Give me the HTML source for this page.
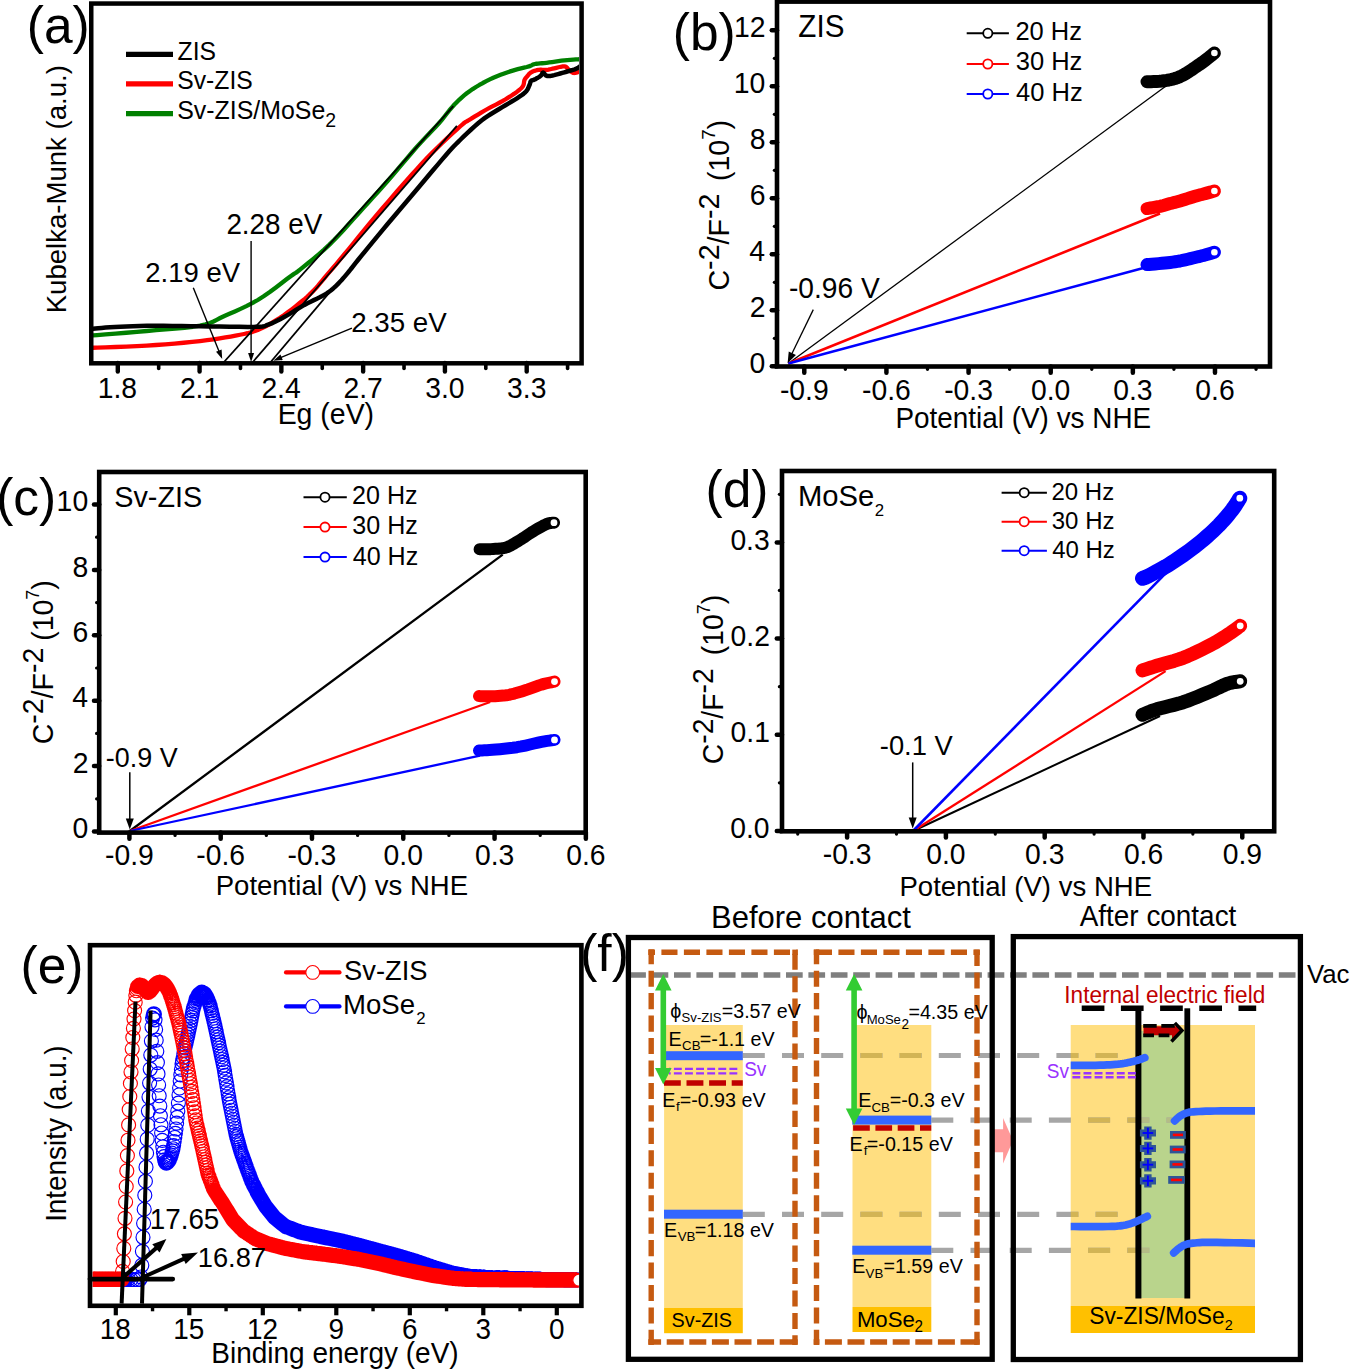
<!DOCTYPE html>
<html><head><meta charset="utf-8"><style>
html,body{margin:0;padding:0;background:#fff;}
svg{display:block;font-family:"Liberation Sans", sans-serif;}
</style></head><body>
<svg width="1350" height="1370" viewBox="0 0 1350 1370">
<rect width="1350" height="1370" fill="#fff"/>
<defs><clipPath id="clipa"><rect x="93" y="5" width="486" height="356"/></clipPath></defs>
<g clip-path="url(#clipa)">
<path d="M91 335.6 L97.09 335.11 L105.53 334.44 L115.52 333.64 L126.25 332.76 L136.91 331.87 L146.7 331 L156.06 330.19 L165.71 329.41 L175.31 328.61 L184.46 327.74 L192.82 326.75 L200 325.6 L205.63 324.32 L209.94 322.95 L213.44 321.46 L216.67 319.83 L220.15 318.02 L224.4 316 L229.45 313.8 L234.87 311.44 L240.55 308.9 L246.35 306.16 L252.14 303.2 L257.8 300 L263.63 296.26 L269.78 291.94 L275.92 287.4 L281.73 282.99 L286.87 279.07 L291 276 L293.67 274.13 L295.04 273.24 L295.75 272.84 L296.4 272.44 L297.61 271.52 L300 269.6 L303.7 266.62 L308.24 262.97 L313.34 258.81 L318.72 254.31 L324.1 249.62 L329.2 244.9 L334.07 240.07 L338.93 234.97 L343.8 229.69 L348.67 224.3 L353.53 218.87 L358.4 213.5 L363.27 208.17 L368.13 202.81 L373 197.42 L377.87 191.99 L382.73 186.52 L387.6 181 L392.55 175.29 L397.6 169.36 L402.66 163.38 L407.61 157.53 L412.36 151.98 L416.8 146.9 L420.95 142.33 L424.88 138.13 L428.61 134.24 L432.14 130.56 L435.5 127 L438.7 123.5 L441.65 120.05 L444.34 116.73 L446.86 113.54 L449.28 110.48 L451.7 107.57 L454.2 104.8 L456.72 102.22 L459.16 99.82 L461.61 97.57 L464.11 95.41 L466.76 93.3 L469.6 91.2 L472.68 89.09 L475.94 87 L479.33 84.97 L482.81 83.01 L486.31 81.14 L489.8 79.4 L493.33 77.77 L496.95 76.24 L500.6 74.81 L504.22 73.47 L507.74 72.23 L511.1 71.1 L514.41 70.08 L517.73 69.18 L520.96 68.38 L523.98 67.66 L526.66 67.01 L528.9 66.4 L530.5 65.85 L531.53 65.39 L532.22 64.98 L532.84 64.63 L533.61 64.3 L534.8 64 L536.36 63.74 L538.07 63.56 L539.96 63.4 L542 63.24 L544.22 63.06 L546.6 62.8 L549.25 62.46 L552.18 62.04 L555.27 61.6 L558.42 61.16 L561.5 60.74 L564.4 60.4 L567.28 60.12 L570.28 59.87 L573.21 59.65 L575.9 59.47 L578.15 59.32 L579.8 59.2" fill="none" stroke="#008000" stroke-width="4.3" stroke-linejoin="round" stroke-linecap="round" />
<path d="M91 347.8 L97.09 347.59 L105.53 347.31 L115.52 346.98 L126.25 346.59 L136.91 346.13 L146.7 345.6 L155.93 344.99 L165.3 344.31 L174.61 343.56 L183.63 342.76 L192.17 341.93 L200 341.1 L207.11 340.24 L213.67 339.34 L219.74 338.42 L225.38 337.48 L230.65 336.53 L235.6 335.6 L240.08 334.75 L243.99 333.99 L247.54 333.22 L250.9 332.36 L254.26 331.32 L257.8 330 L261.5 328.4 L265.2 326.59 L268.9 324.6 L272.6 322.45 L276.3 320.18 L280 317.8 L283.81 315.2 L287.76 312.34 L291.71 309.36 L295.53 306.38 L299.07 303.55 L302.2 301 L304.86 298.78 L307.16 296.77 L309.18 294.92 L311.02 293.14 L312.8 291.36 L314.6 289.5 L316.27 287.72 L317.7 286.09 L319.06 284.47 L320.52 282.69 L322.24 280.58 L324.4 278 L326.96 274.98 L329.79 271.65 L332.89 268 L336.25 264.02 L339.89 259.69 L343.8 255 L348.1 249.79 L352.81 244.04 L357.79 237.94 L362.9 231.69 L368.02 225.47 L373 219.5 L377.87 213.72 L382.73 207.98 L387.6 202.28 L392.47 196.63 L397.33 191.03 L402.2 185.5 L407.07 180 L411.93 174.52 L416.8 169.09 L421.67 163.76 L426.53 158.55 L431.4 153.5 L436.5 148.41 L441.88 143.21 L447.26 138.14 L452.36 133.43 L456.9 129.3 L460.6 126 L463.17 123.77 L464.77 122.49 L465.81 121.8 L466.7 121.34 L467.82 120.76 L469.6 119.7 L472.06 118.16 L474.88 116.41 L477.95 114.55 L481.14 112.64 L484.33 110.76 L487.4 109 L490.38 107.37 L493.39 105.82 L496.39 104.3 L499.38 102.77 L502.32 101.19 L505.2 99.5 L508.16 97.66 L511.24 95.69 L514.28 93.66 L517.11 91.65 L519.57 89.74 L521.5 88 L522.78 86.41 L523.5 84.91 L523.86 83.5 L524.03 82.2 L524.18 81.03 L524.5 80 L524.93 79.16 L525.31 78.53 L525.68 78.01 L526.06 77.55 L526.49 77.07 L527 76.5 L527.57 75.82 L528.17 75.09 L528.81 74.33 L529.52 73.59 L530.31 72.9 L531.2 72.3 L532.2 71.77 L533.31 71.28 L534.49 70.84 L535.74 70.46 L537.01 70.14 L538.3 69.9 L539.64 69.77 L541.06 69.77 L542.52 69.83 L543.96 69.9 L545.34 69.94 L546.6 69.9 L547.67 69.78 L548.56 69.63 L549.38 69.44 L550.26 69.23 L551.29 68.98 L552.6 68.7 L554.31 68.31 L556.37 67.8 L558.59 67.25 L560.79 66.77 L562.78 66.45 L564.4 66.4 L565.58 66.67 L566.46 67.19 L567.13 67.87 L567.71 68.63 L568.3 69.37 L569 70 L569.77 70.59 L570.53 71.23 L571.29 71.84 L572.09 72.39 L572.95 72.79 L573.9 73 L575.04 72.94 L576.37 72.66 L577.76 72.24 L579.08 71.77 L580.2 71.36 L581 71.1" fill="none" stroke="#FF0000" stroke-width="4.3" stroke-linejoin="round" stroke-linecap="round" />
<path d="M91 329 L92.86 328.81 L95.26 328.55 L98.19 328.24 L101.63 327.91 L105.57 327.59 L110 327.3 L114.94 327.02 L120.41 326.71 L126.38 326.41 L132.81 326.14 L139.7 325.93 L147 325.8 L154.89 325.77 L163.42 325.82 L172.39 325.93 L181.61 326.06 L190.88 326.19 L200 326.3 L209.49 326.42 L219.61 326.57 L229.78 326.73 L239.4 326.85 L247.91 326.88 L254.7 326.8 L259.37 326.64 L262.3 326.45 L264.11 326.18 L265.4 325.78 L266.79 325.2 L268.9 324.4 L271.66 323.33 L274.57 322.01 L277.58 320.52 L280.64 318.91 L283.7 317.25 L286.7 315.6 L289.65 313.91 L292.6 312.11 L295.55 310.26 L298.5 308.4 L301.45 306.6 L304.4 304.9 L307.46 303.28 L310.66 301.69 L313.85 300.14 L316.92 298.67 L319.75 297.28 L322.2 296 L324.2 294.88 L325.83 293.93 L327.21 293.07 L328.46 292.21 L329.72 291.28 L331.1 290.2 L332.58 288.97 L334.07 287.66 L335.55 286.28 L337.03 284.84 L338.52 283.34 L340 281.8 L341.48 280.21 L342.94 278.57 L344.41 276.88 L345.89 275.13 L347.38 273.34 L348.9 271.5 L350.22 269.87 L351.29 268.5 L352.38 267.07 L353.75 265.3 L355.67 262.88 L358.4 259.5 L362.13 254.93 L366.67 249.37 L371.77 243.16 L377.14 236.63 L382.51 230.13 L387.6 224 L392.47 218.19 L397.33 212.43 L402.2 206.69 L407.07 200.96 L411.93 195.24 L416.8 189.5 L421.84 183.53 L427.07 177.3 L432.31 171.06 L437.35 165.09 L441.98 159.65 L446 155 L449.21 151.36 L451.71 148.56 L453.82 146.28 L455.81 144.22 L457.97 142.07 L460.6 139.5 L463.76 136.45 L467.22 133.15 L470.86 129.75 L474.54 126.41 L478.13 123.27 L481.5 120.5 L484.63 118.14 L487.63 116.08 L490.54 114.23 L493.41 112.5 L496.28 110.78 L499.2 109 L502.26 107.13 L505.45 105.23 L508.64 103.36 L511.71 101.55 L514.54 99.85 L517 98.3 L519.07 96.94 L520.86 95.73 L522.39 94.64 L523.73 93.6 L524.92 92.57 L526 91.5 L526.92 90.37 L527.65 89.22 L528.22 88.08 L528.69 86.97 L529.1 85.94 L529.5 85 L529.84 84.16 L530.06 83.39 L530.23 82.69 L530.4 82.06 L530.64 81.5 L531 81 L531.48 80.62 L532.02 80.36 L532.62 80.17 L533.29 79.99 L534.02 79.75 L534.8 79.4 L535.7 78.91 L536.74 78.33 L537.84 77.7 L538.91 77.04 L539.89 76.4 L540.7 75.8 L541.29 75.17 L541.72 74.47 L542.05 73.77 L542.35 73.18 L542.68 72.76 L543.1 72.6 L543.59 72.8 L544.09 73.32 L544.62 74.02 L545.21 74.76 L545.86 75.4 L546.6 75.8 L547.39 75.99 L548.2 76.07 L549.08 76.05 L550.08 75.94 L551.24 75.76 L552.6 75.5 L554.23 75.14 L556.1 74.66 L558.13 74.11 L560.24 73.5 L562.36 72.89 L564.4 72.3 L566.46 71.72 L568.63 71.11 L570.79 70.5 L572.86 69.89 L574.73 69.28 L576.3 68.7 L577.55 68.11 L578.57 67.49 L579.39 66.88 L580.05 66.31 L580.57 65.84 L581 65.5" fill="none" stroke="#000" stroke-width="4.5" stroke-linejoin="round" stroke-linecap="round" />
</g>
<line x1="224" y1="362" x2="453.3" y2="106.1" stroke="#000" stroke-width="1.8" />
<line x1="252.9" y1="362" x2="456.9" y2="125.8" stroke="#000" stroke-width="1.8" />
<line x1="270.7" y1="362" x2="331" y2="290.7" stroke="#000" stroke-width="1.8" />
<rect x="91.25" y="3.55" width="490.35" height="359.75" fill="none" stroke="#000" stroke-width="4.5" stroke-linejoin="miter"/>
<line x1="117.8" y1="363" x2="117.8" y2="371.5" stroke="#000" stroke-width="4.4" stroke-linecap="round"/>
<line x1="158.69" y1="363" x2="158.69" y2="368.5" stroke="#000" stroke-width="3.6" stroke-linecap="round"/>
<line x1="199.58" y1="363" x2="199.58" y2="371.5" stroke="#000" stroke-width="4.4" stroke-linecap="round"/>
<line x1="240.47" y1="363" x2="240.47" y2="368.5" stroke="#000" stroke-width="3.6" stroke-linecap="round"/>
<line x1="281.36" y1="363" x2="281.36" y2="371.5" stroke="#000" stroke-width="4.4" stroke-linecap="round"/>
<line x1="322.25" y1="363" x2="322.25" y2="368.5" stroke="#000" stroke-width="3.6" stroke-linecap="round"/>
<line x1="363.14" y1="363" x2="363.14" y2="371.5" stroke="#000" stroke-width="4.4" stroke-linecap="round"/>
<line x1="404.03" y1="363" x2="404.03" y2="368.5" stroke="#000" stroke-width="3.6" stroke-linecap="round"/>
<line x1="444.92" y1="363" x2="444.92" y2="371.5" stroke="#000" stroke-width="4.4" stroke-linecap="round"/>
<line x1="485.81" y1="363" x2="485.81" y2="368.5" stroke="#000" stroke-width="3.6" stroke-linecap="round"/>
<line x1="526.7" y1="363" x2="526.7" y2="371.5" stroke="#000" stroke-width="4.4" stroke-linecap="round"/>
<line x1="567.59" y1="363" x2="567.59" y2="368.5" stroke="#000" stroke-width="3.6" stroke-linecap="round"/>
<text transform="matrix(1 0 0 1.03 0 -11.93)" x="97.67" y="397.6" font-size="28.3" text-anchor="start" fill="#000" >1.8</text>
<text transform="matrix(1 0 0 1.03 0 -11.93)" x="179.89" y="397.6" font-size="28.3" text-anchor="start" fill="#000" >2.1</text>
<text transform="matrix(1 0 0 1.03 0 -11.93)" x="261.39" y="397.6" font-size="28.3" text-anchor="start" fill="#000" >2.4</text>
<text transform="matrix(1 0 0 1.03 0 -11.93)" x="343.47" y="397.6" font-size="28.3" text-anchor="start" fill="#000" >2.7</text>
<text transform="matrix(1 0 0 1.03 0 -11.93)" x="425.26" y="397.6" font-size="28.3" text-anchor="start" fill="#000" >3.0</text>
<text transform="matrix(1 0 0 1.03 0 -11.93)" x="507.11" y="397.6" font-size="28.3" text-anchor="start" fill="#000" >3.3</text>
<text transform="matrix(1 0 0 1.03 0 -12.73)" x="277.66" y="424.4" font-size="28.46" text-anchor="start" fill="#000" >Eg (eV)</text>
<text transform="translate(66.2,313.26) rotate(-90) scale(1 1.03)" x="0" y="0" font-size="27.57" fill="#000" >Kubelka-Munk (a.u.)</text>
<text x="26.81" y="43.3" font-size="51.5" text-anchor="start" fill="#000" >(a)</text>
<line x1="126" y1="54.4" x2="173" y2="54.4" stroke="#000" stroke-width="5.2" />
<line x1="126" y1="83.9" x2="173" y2="83.9" stroke="#FF0000" stroke-width="5.2" />
<line x1="126" y1="113.6" x2="173" y2="113.6" stroke="#008000" stroke-width="5.2" />
<text transform="matrix(1 0 0 1.03 0 -1.8)" x="177.62" y="59.9" font-size="24.7" text-anchor="start" fill="#000" >ZIS</text>
<text transform="matrix(1 0 0 1.03 0 -2.68)" x="177.28" y="89.2" font-size="24.7" text-anchor="start" fill="#000" >Sv-ZIS</text>
<text transform="matrix(1 0 0 1.03 0 -3.57)" x="177.27" y="118.9" font-size="24.9" text-anchor="start" fill="#000" >Sv-ZIS/MoSe</text>
<text transform="matrix(1 0 0 1.03 0 -3.8)" x="325.32" y="126.8" font-size="19.5" text-anchor="start" fill="#000" >2</text>
<text transform="matrix(1 0 0 1.03 0 -8.46)" x="145.32" y="282" font-size="27.5" text-anchor="start" fill="#000" >2.19 eV</text>
<line x1="193.3" y1="287.8" x2="219.5" y2="352.5" stroke="#000" stroke-width="1.4" />
<path d="M222.2 359 L216.04 351.79 L221.59 349.53 Z" fill="#000"/>
<text transform="matrix(1 0 0 1.03 0 -7.03)" x="226.4" y="234.4" font-size="27.83" text-anchor="start" fill="#000" >2.28 eV</text>
<line x1="251.1" y1="241" x2="251.1" y2="354" stroke="#000" stroke-width="1.4" />
<path d="M251.1 362 L248.1 353 L254.1 353 Z" fill="#000"/>
<text transform="matrix(1 0 0 1.03 0 -9.97)" x="351.21" y="332.3" font-size="27.74" text-anchor="start" fill="#000" >2.35 eV</text>
<line x1="351.9" y1="328.1" x2="280" y2="357.8" stroke="#000" stroke-width="1.4" />
<path d="M273.3 360.7 L280.46 354.48 L282.76 360.02 Z" fill="#000"/>
<line x1="788.3" y1="363.5" x2="1166.7" y2="85.6" stroke="#000" stroke-width="1.3" />
<line x1="788.3" y1="363.5" x2="1160" y2="213.5" stroke="#FF0000" stroke-width="2.6" />
<line x1="788.3" y1="363.5" x2="1149" y2="266.5" stroke="#0000FF" stroke-width="2.6" />
<path d="M1147 81.8 L1148.66 81.73 L1150.96 81.66 L1153.69 81.56 L1156.59 81.42 L1159.44 81.24 L1162 81 L1164.32 80.7 L1166.59 80.37 L1168.81 79.98 L1170.96 79.54 L1173.03 79.05 L1175 78.5 L1176.84 77.89 L1178.56 77.22 L1180.19 76.5 L1181.78 75.72 L1183.37 74.89 L1185 74 L1186.67 73.04 L1188.33 72 L1190 70.91 L1191.67 69.78 L1193.33 68.64 L1195 67.5 L1196.67 66.37 L1198.36 65.22 L1200.04 64.06 L1201.71 62.89 L1203.37 61.7 L1205 60.5 L1206.71 59.19 L1208.53 57.76 L1210.33 56.31 L1211.99 54.96 L1213.38 53.82 L1214.4 53" fill="none" stroke="#000" stroke-width="13" stroke-linejoin="round" stroke-linecap="round" />
<circle cx="1214.4" cy="53" r="4.3" fill="#fff" stroke="#000" stroke-width="2"/>
<path d="M1147 208.6 L1148.45 208.35 L1150.48 208.02 L1152.88 207.62 L1155.41 207.18 L1157.86 206.73 L1160 206.3 L1161.84 205.87 L1163.56 205.43 L1165.19 204.97 L1166.78 204.51 L1168.37 204.05 L1170 203.6 L1171.61 203.19 L1173.15 202.8 L1174.69 202.42 L1176.3 202.02 L1178.04 201.55 L1180 201 L1182.27 200.32 L1184.81 199.51 L1187.5 198.66 L1190.19 197.8 L1192.73 196.99 L1195 196.3 L1196.96 195.73 L1198.73 195.25 L1200.35 194.82 L1201.9 194.42 L1203.43 194.02 L1205 193.6 L1206.71 193.13 L1208.53 192.63 L1210.33 192.13 L1211.99 191.67 L1213.38 191.28 L1214.4 191" fill="none" stroke="#FF0000" stroke-width="13" stroke-linejoin="round" stroke-linecap="round" />
<circle cx="1214.4" cy="191" r="4.3" fill="#fff" stroke="#FF0000" stroke-width="2"/>
<path d="M1147 264.6 L1148.99 264.43 L1151.78 264.2 L1155.06 263.93 L1158.56 263.62 L1161.97 263.31 L1165 263 L1167.67 262.71 L1170.22 262.42 L1172.69 262.12 L1175.11 261.79 L1177.53 261.42 L1180 261 L1182.56 260.49 L1185.19 259.91 L1187.81 259.28 L1190.37 258.65 L1192.79 258.04 L1195 257.5 L1196.96 257.03 L1198.73 256.6 L1200.35 256.21 L1201.9 255.82 L1203.43 255.42 L1205 255 L1206.71 254.52 L1208.53 253.99 L1210.33 253.44 L1211.99 252.94 L1213.38 252.51 L1214.4 252.2" fill="none" stroke="#0000FF" stroke-width="13" stroke-linejoin="round" stroke-linecap="round" />
<circle cx="1214.4" cy="252.2" r="4.3" fill="#fff" stroke="#0000FF" stroke-width="2"/>
<rect x="777" y="1.6" width="493" height="364.9" fill="none" stroke="#000" stroke-width="4.6" stroke-linejoin="miter"/>
<line x1="777" y1="366.3" x2="771.8" y2="366.3" stroke="#000" stroke-width="4.5" stroke-linecap="round"/>
<line x1="777" y1="338.3" x2="774.4" y2="338.3" stroke="#000" stroke-width="3.2" stroke-linecap="round"/>
<line x1="777" y1="310.3" x2="771.8" y2="310.3" stroke="#000" stroke-width="4.5" stroke-linecap="round"/>
<line x1="777" y1="282.3" x2="774.4" y2="282.3" stroke="#000" stroke-width="3.2" stroke-linecap="round"/>
<line x1="777" y1="254.3" x2="771.8" y2="254.3" stroke="#000" stroke-width="4.5" stroke-linecap="round"/>
<line x1="777" y1="226.3" x2="774.4" y2="226.3" stroke="#000" stroke-width="3.2" stroke-linecap="round"/>
<line x1="777" y1="198.3" x2="771.8" y2="198.3" stroke="#000" stroke-width="4.5" stroke-linecap="round"/>
<line x1="777" y1="170.3" x2="774.4" y2="170.3" stroke="#000" stroke-width="3.2" stroke-linecap="round"/>
<line x1="777" y1="142.3" x2="771.8" y2="142.3" stroke="#000" stroke-width="4.5" stroke-linecap="round"/>
<line x1="777" y1="114.3" x2="774.4" y2="114.3" stroke="#000" stroke-width="3.2" stroke-linecap="round"/>
<line x1="777" y1="86.3" x2="771.8" y2="86.3" stroke="#000" stroke-width="4.5" stroke-linecap="round"/>
<line x1="777" y1="58.3" x2="774.4" y2="58.3" stroke="#000" stroke-width="3.2" stroke-linecap="round"/>
<line x1="777" y1="30.3" x2="771.8" y2="30.3" stroke="#000" stroke-width="4.5" stroke-linecap="round"/>
<line x1="804.28" y1="366.5" x2="804.28" y2="372.7" stroke="#000" stroke-width="4.5" stroke-linecap="round"/>
<line x1="845.35" y1="366.5" x2="845.35" y2="369.3" stroke="#000" stroke-width="3.2" stroke-linecap="round"/>
<line x1="886.42" y1="366.5" x2="886.42" y2="372.7" stroke="#000" stroke-width="4.5" stroke-linecap="round"/>
<line x1="927.49" y1="366.5" x2="927.49" y2="369.3" stroke="#000" stroke-width="3.2" stroke-linecap="round"/>
<line x1="968.56" y1="366.5" x2="968.56" y2="372.7" stroke="#000" stroke-width="4.5" stroke-linecap="round"/>
<line x1="1009.63" y1="366.5" x2="1009.63" y2="369.3" stroke="#000" stroke-width="3.2" stroke-linecap="round"/>
<line x1="1050.7" y1="366.5" x2="1050.7" y2="372.7" stroke="#000" stroke-width="4.5" stroke-linecap="round"/>
<line x1="1091.77" y1="366.5" x2="1091.77" y2="369.3" stroke="#000" stroke-width="3.2" stroke-linecap="round"/>
<line x1="1132.84" y1="366.5" x2="1132.84" y2="372.7" stroke="#000" stroke-width="4.5" stroke-linecap="round"/>
<line x1="1173.91" y1="366.5" x2="1173.91" y2="369.3" stroke="#000" stroke-width="3.2" stroke-linecap="round"/>
<line x1="1214.98" y1="366.5" x2="1214.98" y2="372.7" stroke="#000" stroke-width="4.5" stroke-linecap="round"/>
<line x1="1256.05" y1="366.5" x2="1256.05" y2="369.3" stroke="#000" stroke-width="3.2" stroke-linecap="round"/>
<text transform="matrix(1 0 0 1.03 0 -11.18)" x="749.51" y="372.7" font-size="28.4" text-anchor="start" fill="#000" >0</text>
<text transform="matrix(1 0 0 1.03 0 -9.5)" x="749.83" y="316.7" font-size="28.4" text-anchor="start" fill="#000" >2</text>
<text transform="matrix(1 0 0 1.03 0 -7.82)" x="749.24" y="260.7" font-size="28.4" text-anchor="start" fill="#000" >4</text>
<text transform="matrix(1 0 0 1.03 0 -6.14)" x="749.65" y="204.7" font-size="28.4" text-anchor="start" fill="#000" >6</text>
<text transform="matrix(1 0 0 1.03 0 -4.46)" x="749.64" y="148.7" font-size="28.4" text-anchor="start" fill="#000" >8</text>
<text transform="matrix(1 0 0 1.03 0 -2.78)" x="733.72" y="92.7" font-size="28.4" text-anchor="start" fill="#000" >10</text>
<text transform="matrix(1 0 0 1.03 0 -1.1)" x="734.04" y="36.7" font-size="28.4" text-anchor="start" fill="#000" >12</text>
<text transform="matrix(1 0 0 1.03 0 -12.01)" x="779.94" y="400.4" font-size="28.3" text-anchor="start" fill="#000" >-0.9</text>
<text transform="matrix(1 0 0 1.03 0 -12.01)" x="862.03" y="400.4" font-size="28.3" text-anchor="start" fill="#000" >-0.6</text>
<text transform="matrix(1 0 0 1.03 0 -12.01)" x="944.17" y="400.4" font-size="28.3" text-anchor="start" fill="#000" >-0.3</text>
<text transform="matrix(1 0 0 1.03 0 -12.01)" x="1031.03" y="400.4" font-size="28.3" text-anchor="start" fill="#000" >0.0</text>
<text transform="matrix(1 0 0 1.03 0 -12.01)" x="1113.24" y="400.4" font-size="28.3" text-anchor="start" fill="#000" >0.3</text>
<text transform="matrix(1 0 0 1.03 0 -12.01)" x="1195.38" y="400.4" font-size="28.3" text-anchor="start" fill="#000" >0.6</text>
<text transform="matrix(1 0 0 1.03 0 -12.84)" x="895.51" y="428" font-size="27.88" text-anchor="start" fill="#000" >Potential (V) vs NHE</text>
<text x="672.81" y="49.7" font-size="51.5" text-anchor="start" fill="#000" >(b)</text>
<text transform="matrix(1 0 0 1.03 0 -1.11)" x="798.36" y="37.1" font-size="29.6" text-anchor="start" fill="#000" >ZIS</text>
<line x1="966.7" y1="33.3" x2="1008.9" y2="33.3" stroke="#000" stroke-width="2" />
<circle cx="987.8" cy="33.3" r="4.6" fill="#fff" stroke="#000" stroke-width="1.8"/>
<text transform="matrix(1 0 0 1.03 0 -1.2)" x="1015.42" y="40" font-size="25.5" text-anchor="start" fill="#000" >20 Hz</text>
<line x1="966.7" y1="64" x2="1008.9" y2="64" stroke="#FF0000" stroke-width="2" />
<circle cx="987.8" cy="64" r="4.6" fill="#fff" stroke="#FF0000" stroke-width="1.8"/>
<text transform="matrix(1 0 0 1.03 0 -2.11)" x="1015.73" y="70.3" font-size="25.5" text-anchor="start" fill="#000" >30 Hz</text>
<line x1="966.7" y1="94" x2="1008.9" y2="94" stroke="#0000FF" stroke-width="2" />
<circle cx="987.8" cy="94" r="4.6" fill="#fff" stroke="#0000FF" stroke-width="1.8"/>
<text transform="matrix(1 0 0 1.03 0 -3.03)" x="1016.11" y="101" font-size="25.5" text-anchor="start" fill="#000" >40 Hz</text>
<text transform="matrix(1 0 0 1.03 0 -8.96)" x="788.95" y="298.5" font-size="28.15" text-anchor="start" fill="#000" >-0.96 V</text>
<line x1="813.3" y1="309.6" x2="791.5" y2="354.5" stroke="#000" stroke-width="1.3" />
<path d="M787.6 363.2 L788.75 351.55 L795.96 355.01 Z" fill="#000"/>
<text transform="rotate(-90) matrix(1 0 0 1.03 0 -21.87)" x="-290.55" y="729" font-size="28.6" fill="#000">C</text>
<text transform="rotate(-90) matrix(1 0 0 1.03 0 -21.56)" x="-269.9" y="718.6" font-size="28.6" fill="#000">-2</text>
<text transform="rotate(-90) matrix(1 0 0 1.03 0 -21.87)" x="-244.47" y="729" font-size="28.6" fill="#000">/F</text>
<text transform="rotate(-90) matrix(1 0 0 1.03 0 -21.56)" x="-219.05" y="718.6" font-size="28.6" fill="#000">-2</text>
<text transform="rotate(-90) matrix(1 0 0 1.03 0 -21.87)" x="-181.08" y="729" font-size="28.6" fill="#000">(10</text>
<text transform="rotate(-90) matrix(1 0 0 1.03 0 -21.46)" x="-139.74" y="715.4" font-size="18.6" fill="#000">7</text>
<text transform="rotate(-90) matrix(1 0 0 1.03 0 -21.87)" x="-129.4" y="729" font-size="28.6" fill="#000">)</text>
<line x1="129.8" y1="831" x2="502.7" y2="554.7" stroke="#000" stroke-width="2.3" />
<line x1="129.8" y1="831" x2="490.2" y2="702" stroke="#FF0000" stroke-width="2.3" />
<line x1="129.8" y1="831" x2="480" y2="755.6" stroke="#0000FF" stroke-width="2.3" />
<path d="M479.6 549.3 L481.09 549.28 L483.16 549.27 L485.61 549.26 L488.25 549.21 L490.88 549.13 L493.3 549 L495.55 548.86 L497.79 548.74 L500.02 548.59 L502.25 548.33 L504.48 547.92 L506.7 547.3 L508.92 546.42 L511.14 545.33 L513.36 544.09 L515.57 542.74 L517.78 541.36 L520 540 L522.22 538.61 L524.43 537.15 L526.64 535.65 L528.86 534.15 L531.08 532.69 L533.3 531.3 L535.6 529.93 L537.99 528.54 L540.37 527.19 L542.68 525.94 L544.82 524.85 L546.7 524 L548.35 523.42 L549.86 523.07 L551.19 522.89 L552.33 522.81 L553.28 522.77 L554 522.7" fill="none" stroke="#000" stroke-width="12" stroke-linejoin="round" stroke-linecap="round" />
<circle cx="554" cy="522.7" r="4.4" fill="#fff" stroke="#000" stroke-width="2"/>
<path d="M479 696.1 L480.45 696.14 L482.43 696.21 L484.78 696.29 L487.36 696.35 L490.02 696.36 L492.6 696.3 L495.16 696.18 L497.83 696.04 L500.58 695.84 L503.37 695.59 L506.15 695.24 L508.9 694.8 L511.62 694.24 L514.33 693.57 L517.05 692.81 L519.77 692 L522.48 691.15 L525.2 690.3 L527.95 689.39 L530.76 688.39 L533.56 687.36 L536.31 686.34 L538.97 685.41 L541.5 684.6 L544.01 683.91 L546.56 683.29 L549.02 682.74 L551.25 682.28 L553.12 681.9 L554.5 681.6" fill="none" stroke="#FF0000" stroke-width="12" stroke-linejoin="round" stroke-linecap="round" />
<circle cx="554.5" cy="681.6" r="4.4" fill="#fff" stroke="#FF0000" stroke-width="2"/>
<path d="M479 750.5 L480.35 750.45 L482.13 750.39 L484.27 750.31 L486.76 750.2 L489.55 750.03 L492.6 749.8 L496.04 749.51 L499.93 749.17 L504.12 748.79 L508.46 748.34 L512.8 747.81 L517 747.2 L521.21 746.43 L525.59 745.51 L529.96 744.51 L534.18 743.52 L538.08 742.62 L541.5 741.9 L544.48 741.35 L547.17 740.91 L549.53 740.57 L551.56 740.3 L553.22 740.08 L554.5 739.9" fill="none" stroke="#0000FF" stroke-width="12" stroke-linejoin="round" stroke-linecap="round" />
<circle cx="554.5" cy="739.9" r="4.4" fill="#fff" stroke="#0000FF" stroke-width="2"/>
<rect x="99.2" y="472" width="486.5" height="360.6" fill="none" stroke="#000" stroke-width="4.6" stroke-linejoin="miter"/>
<line x1="99.2" y1="831.5" x2="94" y2="831.5" stroke="#000" stroke-width="4.5" stroke-linecap="round"/>
<line x1="99.2" y1="798.8" x2="96.6" y2="798.8" stroke="#000" stroke-width="3.2" stroke-linecap="round"/>
<line x1="99.2" y1="766.1" x2="94" y2="766.1" stroke="#000" stroke-width="4.5" stroke-linecap="round"/>
<line x1="99.2" y1="733.4" x2="96.6" y2="733.4" stroke="#000" stroke-width="3.2" stroke-linecap="round"/>
<line x1="99.2" y1="700.7" x2="94" y2="700.7" stroke="#000" stroke-width="4.5" stroke-linecap="round"/>
<line x1="99.2" y1="668" x2="96.6" y2="668" stroke="#000" stroke-width="3.2" stroke-linecap="round"/>
<line x1="99.2" y1="635.3" x2="94" y2="635.3" stroke="#000" stroke-width="4.5" stroke-linecap="round"/>
<line x1="99.2" y1="602.6" x2="96.6" y2="602.6" stroke="#000" stroke-width="3.2" stroke-linecap="round"/>
<line x1="99.2" y1="569.9" x2="94" y2="569.9" stroke="#000" stroke-width="4.5" stroke-linecap="round"/>
<line x1="99.2" y1="537.2" x2="96.6" y2="537.2" stroke="#000" stroke-width="3.2" stroke-linecap="round"/>
<line x1="99.2" y1="504.5" x2="94" y2="504.5" stroke="#000" stroke-width="4.5" stroke-linecap="round"/>
<line x1="129.4" y1="832.6" x2="129.4" y2="838.8" stroke="#000" stroke-width="4.5" stroke-linecap="round"/>
<line x1="175.05" y1="832.6" x2="175.05" y2="835.4" stroke="#000" stroke-width="3.2" stroke-linecap="round"/>
<line x1="220.69" y1="832.6" x2="220.69" y2="838.8" stroke="#000" stroke-width="4.5" stroke-linecap="round"/>
<line x1="266.34" y1="832.6" x2="266.34" y2="835.4" stroke="#000" stroke-width="3.2" stroke-linecap="round"/>
<line x1="311.98" y1="832.6" x2="311.98" y2="838.8" stroke="#000" stroke-width="4.5" stroke-linecap="round"/>
<line x1="357.62" y1="832.6" x2="357.62" y2="835.4" stroke="#000" stroke-width="3.2" stroke-linecap="round"/>
<line x1="403.27" y1="832.6" x2="403.27" y2="838.8" stroke="#000" stroke-width="4.5" stroke-linecap="round"/>
<line x1="448.92" y1="832.6" x2="448.92" y2="835.4" stroke="#000" stroke-width="3.2" stroke-linecap="round"/>
<line x1="494.56" y1="832.6" x2="494.56" y2="838.8" stroke="#000" stroke-width="4.5" stroke-linecap="round"/>
<line x1="540.2" y1="832.6" x2="540.2" y2="835.4" stroke="#000" stroke-width="3.2" stroke-linecap="round"/>
<line x1="585.85" y1="832.6" x2="585.85" y2="838.8" stroke="#000" stroke-width="4.5" stroke-linecap="round"/>
<text transform="matrix(1 0 0 1.03 0 -25.15)" x="72.41" y="838.3" font-size="28.4" text-anchor="start" fill="#000" >0</text>
<text transform="matrix(1 0 0 1.03 0 -23.19)" x="72.73" y="772.9" font-size="28.4" text-anchor="start" fill="#000" >2</text>
<text transform="matrix(1 0 0 1.03 0 -21.23)" x="72.14" y="707.5" font-size="28.4" text-anchor="start" fill="#000" >4</text>
<text transform="matrix(1 0 0 1.03 0 -19.26)" x="72.55" y="642.1" font-size="28.4" text-anchor="start" fill="#000" >6</text>
<text transform="matrix(1 0 0 1.03 0 -17.3)" x="72.54" y="576.7" font-size="28.4" text-anchor="start" fill="#000" >8</text>
<text transform="matrix(1 0 0 1.03 0 -15.34)" x="56.62" y="511.3" font-size="28.4" text-anchor="start" fill="#000" >10</text>
<text transform="matrix(1 0 0 1.03 0 -25.97)" x="105.06" y="865.5" font-size="28.3" text-anchor="start" fill="#000" >-0.9</text>
<text transform="matrix(1 0 0 1.03 0 -25.97)" x="196.3" y="865.5" font-size="28.3" text-anchor="start" fill="#000" >-0.6</text>
<text transform="matrix(1 0 0 1.03 0 -25.97)" x="287.59" y="865.5" font-size="28.3" text-anchor="start" fill="#000" >-0.3</text>
<text transform="matrix(1 0 0 1.03 0 -25.97)" x="383.6" y="865.5" font-size="28.3" text-anchor="start" fill="#000" >0.0</text>
<text transform="matrix(1 0 0 1.03 0 -25.97)" x="474.96" y="865.5" font-size="28.3" text-anchor="start" fill="#000" >0.3</text>
<text transform="matrix(1 0 0 1.03 0 -25.97)" x="566.25" y="865.5" font-size="28.3" text-anchor="start" fill="#000" >0.6</text>
<text transform="matrix(1 0 0 1.03 0 -26.84)" x="215.74" y="894.6" font-size="27.53" text-anchor="start" fill="#000" >Potential (V) vs NHE</text>
<text x="-3.79" y="515.1" font-size="51.5" text-anchor="start" fill="#000" >(c)</text>
<text transform="matrix(1 0 0 1.03 0 -15.2)" x="114.29" y="506.6" font-size="28.78" text-anchor="start" fill="#000" >Sv-ZIS</text>
<line x1="303.5" y1="497.2" x2="346.8" y2="497.2" stroke="#000" stroke-width="2" />
<circle cx="325" cy="497.2" r="4.6" fill="#fff" stroke="#000" stroke-width="1.8"/>
<text transform="matrix(1 0 0 1.03 0 -15.13)" x="352.04" y="504.3" font-size="25.1" text-anchor="start" fill="#000" >20 Hz</text>
<line x1="303.5" y1="527.1" x2="346.8" y2="527.1" stroke="#FF0000" stroke-width="2" />
<circle cx="325" cy="527.1" r="4.6" fill="#fff" stroke="#FF0000" stroke-width="1.8"/>
<text transform="matrix(1 0 0 1.03 0 -16.03)" x="352.34" y="534.4" font-size="25.1" text-anchor="start" fill="#000" >30 Hz</text>
<line x1="303.5" y1="557.1" x2="346.8" y2="557.1" stroke="#0000FF" stroke-width="2" />
<circle cx="325" cy="557.1" r="4.6" fill="#fff" stroke="#0000FF" stroke-width="1.8"/>
<text transform="matrix(1 0 0 1.03 0 -16.94)" x="352.72" y="564.6" font-size="25.1" text-anchor="start" fill="#000" >40 Hz</text>
<text transform="matrix(1 0 0 1.03 0 -23.01)" x="105.8" y="767" font-size="26.92" text-anchor="start" fill="#000" >-0.9 V</text>
<line x1="129.8" y1="772.2" x2="129.8" y2="820" stroke="#000" stroke-width="1.5" />
<path d="M129.8 829.5 L125.8 818.5 L133.8 818.5 Z" fill="#000"/>
<text transform="rotate(-90) matrix(1 0 0 1.03 0 -1.58)" x="-744.35" y="52.8" font-size="28.5" fill="#000">C</text>
<text transform="rotate(-90) matrix(1 0 0 1.03 0 -1.3)" x="-723.77" y="43.2" font-size="28.5" fill="#000">-2</text>
<text transform="rotate(-90) matrix(1 0 0 1.03 0 -1.58)" x="-698.42" y="52.8" font-size="28.5" fill="#000">/F</text>
<text transform="rotate(-90) matrix(1 0 0 1.03 0 -1.3)" x="-673.1" y="43.2" font-size="28.5" fill="#000">-2</text>
<text transform="rotate(-90) matrix(1 0 0 1.03 0 -1.58)" x="-640.84" y="52.8" font-size="28.5" fill="#000">(10</text>
<text transform="rotate(-90) matrix(1 0 0 1.03 0 -1.17)" x="-599.65" y="39.1" font-size="18" fill="#000">7</text>
<text transform="rotate(-90) matrix(1 0 0 1.03 0 -1.58)" x="-589.64" y="52.8" font-size="28.5" fill="#000">)</text>
<line x1="913" y1="831" x2="1160" y2="716" stroke="#000" stroke-width="2" />
<line x1="913" y1="831" x2="1165.6" y2="671.1" stroke="#FF0000" stroke-width="2.3" />
<line x1="913" y1="831" x2="1165.6" y2="573.3" stroke="#0000FF" stroke-width="2.6" />
<path d="M1142.5 714.7 L1143.9 714.13 L1145.72 713.36 L1147.94 712.44 L1150.52 711.43 L1153.45 710.36 L1156.7 709.3 L1160.41 708.26 L1164.64 707.19 L1169.22 706.07 L1173.97 704.89 L1178.72 703.61 L1183.3 702.2 L1187.85 700.61 L1192.52 698.83 L1197.2 696.96 L1201.76 695.07 L1206.06 693.26 L1210 691.6 L1213.54 690.05 L1216.79 688.53 L1219.79 687.08 L1222.6 685.75 L1225.25 684.57 L1227.8 683.6 L1230.32 682.86 L1232.79 682.33 L1235.11 681.95 L1237.19 681.69 L1238.91 681.48 L1240.2 681.3" fill="none" stroke="#000" stroke-width="14" stroke-linejoin="round" stroke-linecap="round" />
<circle cx="1240.2" cy="681.3" r="4.4" fill="#fff" stroke="#000" stroke-width="2"/>
<path d="M1142.5 670.4 L1143.9 669.94 L1145.72 669.33 L1147.94 668.6 L1150.52 667.76 L1153.45 666.82 L1156.7 665.8 L1160.41 664.72 L1164.64 663.55 L1169.22 662.29 L1173.97 660.93 L1178.72 659.43 L1183.3 657.8 L1187.85 655.96 L1192.52 653.9 L1197.2 651.71 L1201.76 649.49 L1206.06 647.33 L1210 645.3 L1213.54 643.4 L1216.79 641.56 L1219.79 639.77 L1222.6 638.04 L1225.25 636.35 L1227.8 634.7 L1230.32 633.02 L1232.79 631.28 L1235.11 629.59 L1237.19 628.04 L1238.91 626.75 L1240.2 625.8" fill="none" stroke="#FF0000" stroke-width="14" stroke-linejoin="round" stroke-linecap="round" />
<circle cx="1240.2" cy="625.8" r="4.4" fill="#fff" stroke="#FF0000" stroke-width="2"/>
<path d="M1142.5 578.3 L1142.93 578.16 L1143.41 578.03 L1144.04 577.85 L1144.91 577.53 L1146.13 577.01 L1147.8 576.2 L1150.04 575.06 L1152.81 573.63 L1155.92 571.99 L1159.21 570.23 L1162.49 568.4 L1165.6 566.6 L1168.55 564.8 L1171.5 562.95 L1174.45 561.04 L1177.4 559.08 L1180.35 557.07 L1183.3 555 L1186.26 552.89 L1189.23 550.74 L1192.19 548.54 L1195.16 546.28 L1198.13 543.93 L1201.1 541.5 L1204.12 538.93 L1207.2 536.24 L1210.28 533.47 L1213.3 530.67 L1216.19 527.9 L1218.9 525.2 L1221.44 522.54 L1223.88 519.86 L1226.19 517.21 L1228.36 514.62 L1230.37 512.14 L1232.2 509.8 L1233.88 507.51 L1235.44 505.22 L1236.83 503.04 L1238.04 501.07 L1239.04 499.42 L1239.8 498.2" fill="none" stroke="#0000FF" stroke-width="15" stroke-linejoin="round" stroke-linecap="round" />
<circle cx="1239.8" cy="498.2" r="4.4" fill="#fff" stroke="#0000FF" stroke-width="2"/>
<rect x="782" y="471" width="492.2" height="360.3" fill="none" stroke="#000" stroke-width="4.6" stroke-linejoin="miter"/>
<line x1="782" y1="830.9" x2="776.8" y2="830.9" stroke="#000" stroke-width="4.5" stroke-linecap="round"/>
<line x1="782" y1="782.81" x2="779.4" y2="782.81" stroke="#000" stroke-width="3.2" stroke-linecap="round"/>
<line x1="782" y1="734.73" x2="776.8" y2="734.73" stroke="#000" stroke-width="4.5" stroke-linecap="round"/>
<line x1="782" y1="686.64" x2="779.4" y2="686.64" stroke="#000" stroke-width="3.2" stroke-linecap="round"/>
<line x1="782" y1="638.56" x2="776.8" y2="638.56" stroke="#000" stroke-width="4.5" stroke-linecap="round"/>
<line x1="782" y1="590.47" x2="779.4" y2="590.47" stroke="#000" stroke-width="3.2" stroke-linecap="round"/>
<line x1="782" y1="542.39" x2="776.8" y2="542.39" stroke="#000" stroke-width="4.5" stroke-linecap="round"/>
<line x1="782" y1="494.3" x2="779.4" y2="494.3" stroke="#000" stroke-width="3.2" stroke-linecap="round"/>
<line x1="797.71" y1="831.3" x2="797.71" y2="834.1" stroke="#000" stroke-width="3.2" stroke-linecap="round"/>
<line x1="847.11" y1="831.3" x2="847.11" y2="837.5" stroke="#000" stroke-width="4.5" stroke-linecap="round"/>
<line x1="896.5" y1="831.3" x2="896.5" y2="834.1" stroke="#000" stroke-width="3.2" stroke-linecap="round"/>
<line x1="945.9" y1="831.3" x2="945.9" y2="837.5" stroke="#000" stroke-width="4.5" stroke-linecap="round"/>
<line x1="995.29" y1="831.3" x2="995.29" y2="834.1" stroke="#000" stroke-width="3.2" stroke-linecap="round"/>
<line x1="1044.69" y1="831.3" x2="1044.69" y2="837.5" stroke="#000" stroke-width="4.5" stroke-linecap="round"/>
<line x1="1094.09" y1="831.3" x2="1094.09" y2="834.1" stroke="#000" stroke-width="3.2" stroke-linecap="round"/>
<line x1="1143.48" y1="831.3" x2="1143.48" y2="837.5" stroke="#000" stroke-width="4.5" stroke-linecap="round"/>
<line x1="1192.88" y1="831.3" x2="1192.88" y2="834.1" stroke="#000" stroke-width="3.2" stroke-linecap="round"/>
<line x1="1242.27" y1="831.3" x2="1242.27" y2="837.5" stroke="#000" stroke-width="4.5" stroke-linecap="round"/>
<text transform="matrix(1 0 0 1.03 0 -25.16)" x="730.26" y="838.5" font-size="28.3" text-anchor="start" fill="#000" >0.0</text>
<text transform="matrix(1 0 0 1.03 0 -22.27)" x="730.54" y="742.33" font-size="28.3" text-anchor="start" fill="#000" >0.1</text>
<text transform="matrix(1 0 0 1.03 0 -19.38)" x="730.58" y="646.16" font-size="28.3" text-anchor="start" fill="#000" >0.2</text>
<text transform="matrix(1 0 0 1.03 0 -16.5)" x="730.4" y="549.99" font-size="28.3" text-anchor="start" fill="#000" >0.3</text>
<text transform="matrix(1 0 0 1.03 0 -25.94)" x="822.72" y="864.5" font-size="28.3" text-anchor="start" fill="#000" >-0.3</text>
<text transform="matrix(1 0 0 1.03 0 -25.94)" x="926.23" y="864.5" font-size="28.3" text-anchor="start" fill="#000" >0.0</text>
<text transform="matrix(1 0 0 1.03 0 -25.94)" x="1025.09" y="864.5" font-size="28.3" text-anchor="start" fill="#000" >0.3</text>
<text transform="matrix(1 0 0 1.03 0 -25.94)" x="1123.88" y="864.5" font-size="28.3" text-anchor="start" fill="#000" >0.6</text>
<text transform="matrix(1 0 0 1.03 0 -25.94)" x="1222.72" y="864.5" font-size="28.3" text-anchor="start" fill="#000" >0.9</text>
<text transform="matrix(1 0 0 1.03 0 -26.87)" x="899.44" y="895.6" font-size="27.56" text-anchor="start" fill="#000" >Potential (V) vs NHE</text>
<text x="705.51" y="506.6" font-size="51.5" text-anchor="start" fill="#000" >(d)</text>
<text transform="matrix(1 0 0 1.03 0 -15.19)" x="798" y="506.3" font-size="29.2" text-anchor="start" fill="#000" >MoSe</text>
<text transform="matrix(1 0 0 1.03 0 -15.48)" x="874.78" y="516" font-size="16.8" text-anchor="start" fill="#000" >2</text>
<line x1="1001.6" y1="492.7" x2="1046.9" y2="492.7" stroke="#000" stroke-width="2" />
<circle cx="1024.2" cy="492.7" r="4.6" fill="#fff" stroke="#000" stroke-width="1.8"/>
<text transform="matrix(1 0 0 1.03 0 -14.99)" x="1051.49" y="499.8" font-size="24" text-anchor="start" fill="#000" >20 Hz</text>
<line x1="1001.6" y1="521.7" x2="1046.9" y2="521.7" stroke="#FF0000" stroke-width="2" />
<circle cx="1024.2" cy="521.7" r="4.6" fill="#fff" stroke="#FF0000" stroke-width="1.8"/>
<text transform="matrix(1 0 0 1.03 0 -15.86)" x="1051.79" y="528.8" font-size="24" text-anchor="start" fill="#000" >30 Hz</text>
<line x1="1001.6" y1="550.7" x2="1046.9" y2="550.7" stroke="#0000FF" stroke-width="2" />
<circle cx="1024.2" cy="550.7" r="4.6" fill="#fff" stroke="#0000FF" stroke-width="1.8"/>
<text transform="matrix(1 0 0 1.03 0 -16.73)" x="1052.15" y="557.8" font-size="24" text-anchor="start" fill="#000" >40 Hz</text>
<text transform="matrix(1 0 0 1.03 0 -22.65)" x="879.79" y="755" font-size="27.34" text-anchor="start" fill="#000" >-0.1 V</text>
<line x1="912.7" y1="762.4" x2="912.7" y2="819" stroke="#000" stroke-width="1.5" />
<path d="M912.7 828.5 L908.7 817.5 L916.7 817.5 Z" fill="#000"/>
<text transform="rotate(-90) matrix(1 0 0 1.03 0 -21.7)" x="-764.24" y="723.3" font-size="28.3" fill="#000">C</text>
<text transform="rotate(-90) matrix(1 0 0 1.03 0 -21.39)" x="-743.8" y="713.1" font-size="28.3" fill="#000">-2</text>
<text transform="rotate(-90) matrix(1 0 0 1.03 0 -21.7)" x="-718.64" y="723.3" font-size="28.3" fill="#000">/F</text>
<text transform="rotate(-90) matrix(1 0 0 1.03 0 -21.39)" x="-693.49" y="713.1" font-size="28.3" fill="#000">-2</text>
<text transform="rotate(-90) matrix(1 0 0 1.03 0 -21.7)" x="-655.26" y="723.3" font-size="28.3" fill="#000">(10</text>
<text transform="rotate(-90) matrix(1 0 0 1.03 0 -21.29)" x="-614.36" y="709.6" font-size="18" fill="#000">7</text>
<text transform="rotate(-90) matrix(1 0 0 1.03 0 -21.7)" x="-604.35" y="723.3" font-size="28.3" fill="#000">)</text>
<defs><clipPath id="clipe"><rect x="92.5" y="947.5" width="486.5" height="356"/></clipPath></defs>
<g clip-path="url(#clipe)">
<path d="M103 1279.5a7 7 0 1 0 14 0a7 7 0 1 0 -14 0M103.6 1279.5a7 7 0 1 0 14 0a7 7 0 1 0 -14 0M104.2 1279.5a7 7 0 1 0 14 0a7 7 0 1 0 -14 0M104.8 1279.5a7 7 0 1 0 14 0a7 7 0 1 0 -14 0M105.4 1279.5a7 7 0 1 0 14 0a7 7 0 1 0 -14 0M106 1279.5a7 7 0 1 0 14 0a7 7 0 1 0 -14 0M106.6 1279.5a7 7 0 1 0 14 0a7 7 0 1 0 -14 0M107.2 1279.5a7 7 0 1 0 14 0a7 7 0 1 0 -14 0M107.8 1279.5a7 7 0 1 0 14 0a7 7 0 1 0 -14 0M108.4 1279.5a7 7 0 1 0 14 0a7 7 0 1 0 -14 0M109 1279.5a7 7 0 1 0 14 0a7 7 0 1 0 -14 0M109.6 1279.5a7 7 0 1 0 14 0a7 7 0 1 0 -14 0M110.2 1279.5a7 7 0 1 0 14 0a7 7 0 1 0 -14 0M110.8 1279.5a7 7 0 1 0 14 0a7 7 0 1 0 -14 0M111.4 1279.5a7 7 0 1 0 14 0a7 7 0 1 0 -14 0M112 1279.5a7 7 0 1 0 14 0a7 7 0 1 0 -14 0M112.6 1279.5a7 7 0 1 0 14 0a7 7 0 1 0 -14 0M113.2 1279.5a7 7 0 1 0 14 0a7 7 0 1 0 -14 0M113.8 1279.5a7 7 0 1 0 14 0a7 7 0 1 0 -14 0M114.4 1279.5a7 7 0 1 0 14 0a7 7 0 1 0 -14 0M115 1279.5a7 7 0 1 0 14 0a7 7 0 1 0 -14 0M115.6 1279.5a7 7 0 1 0 14 0a7 7 0 1 0 -14 0M116.2 1279.5a7 7 0 1 0 14 0a7 7 0 1 0 -14 0M116.8 1279.5a7 7 0 1 0 14 0a7 7 0 1 0 -14 0M117.4 1279.5a7 7 0 1 0 14 0a7 7 0 1 0 -14 0M118 1279.5a7 7 0 1 0 14 0a7 7 0 1 0 -14 0M118.6 1279.5a7 7 0 1 0 14 0a7 7 0 1 0 -14 0M119.2 1279.5a7 7 0 1 0 14 0a7 7 0 1 0 -14 0M121 1279.5a7 7 0 1 0 14 0a7 7 0 1 0 -14 0M124 1279.5a7 7 0 1 0 14 0a7 7 0 1 0 -14 0M127 1279.5a7 7 0 1 0 14 0a7 7 0 1 0 -14 0M130 1279.5a7 7 0 1 0 14 0a7 7 0 1 0 -14 0M133 1279.5a7 7 0 1 0 14 0a7 7 0 1 0 -14 0M134.2 1277a7 7 0 1 0 14 0a7 7 0 1 0 -14 0M134.8 1265.33a7 7 0 1 0 14 0a7 7 0 1 0 -14 0M135.4 1251.31a7 7 0 1 0 14 0a7 7 0 1 0 -14 0M136 1237.29a7 7 0 1 0 14 0a7 7 0 1 0 -14 0M136.6 1223.27a7 7 0 1 0 14 0a7 7 0 1 0 -14 0M137.2 1209.25a7 7 0 1 0 14 0a7 7 0 1 0 -14 0M137.8 1195.23a7 7 0 1 0 14 0a7 7 0 1 0 -14 0M138.4 1181.21a7 7 0 1 0 14 0a7 7 0 1 0 -14 0M139 1167.2a7 7 0 1 0 14 0a7 7 0 1 0 -14 0M139.6 1153.18a7 7 0 1 0 14 0a7 7 0 1 0 -14 0M140.2 1139.16a7 7 0 1 0 14 0a7 7 0 1 0 -14 0M140.8 1125.14a7 7 0 1 0 14 0a7 7 0 1 0 -14 0M141.4 1111.12a7 7 0 1 0 14 0a7 7 0 1 0 -14 0M142 1097.1a7 7 0 1 0 14 0a7 7 0 1 0 -14 0M142.6 1083.08a7 7 0 1 0 14 0a7 7 0 1 0 -14 0M143.2 1069.07a7 7 0 1 0 14 0a7 7 0 1 0 -14 0M143.8 1055.05a7 7 0 1 0 14 0a7 7 0 1 0 -14 0M144.4 1041.03a7 7 0 1 0 14 0a7 7 0 1 0 -14 0M145 1027.01a7 7 0 1 0 14 0a7 7 0 1 0 -14 0M145.6 1018.07a7 7 0 1 0 14 0a7 7 0 1 0 -14 0M146.2 1015.05a7 7 0 1 0 14 0a7 7 0 1 0 -14 0M146.8 1013.7a7 7 0 1 0 14 0a7 7 0 1 0 -14 0M147.4 1014.07a7 7 0 1 0 14 0a7 7 0 1 0 -14 0M148 1019.8a7 7 0 1 0 14 0a7 7 0 1 0 -14 0M148.6 1029.47a7 7 0 1 0 14 0a7 7 0 1 0 -14 0M149.2 1040.17a7 7 0 1 0 14 0a7 7 0 1 0 -14 0M149.8 1051.31a7 7 0 1 0 14 0a7 7 0 1 0 -14 0M150.4 1062.62a7 7 0 1 0 14 0a7 7 0 1 0 -14 0M151 1073.91a7 7 0 1 0 14 0a7 7 0 1 0 -14 0M151.6 1085.01a7 7 0 1 0 14 0a7 7 0 1 0 -14 0M152.2 1095.76a7 7 0 1 0 14 0a7 7 0 1 0 -14 0M152.8 1106.05a7 7 0 1 0 14 0a7 7 0 1 0 -14 0M153.4 1115.75a7 7 0 1 0 14 0a7 7 0 1 0 -14 0M154 1124.77a7 7 0 1 0 14 0a7 7 0 1 0 -14 0M154.6 1133.01a7 7 0 1 0 14 0a7 7 0 1 0 -14 0M155.2 1140.39a7 7 0 1 0 14 0a7 7 0 1 0 -14 0M155.8 1146.82a7 7 0 1 0 14 0a7 7 0 1 0 -14 0M156.4 1152.26a7 7 0 1 0 14 0a7 7 0 1 0 -14 0M157 1156.63a7 7 0 1 0 14 0a7 7 0 1 0 -14 0M157.6 1159.9a7 7 0 1 0 14 0a7 7 0 1 0 -14 0M158.2 1162.03a7 7 0 1 0 14 0a7 7 0 1 0 -14 0M158.8 1163.01a7 7 0 1 0 14 0a7 7 0 1 0 -14 0M159.4 1163.08a7 7 0 1 0 14 0a7 7 0 1 0 -14 0M160 1162.89a7 7 0 1 0 14 0a7 7 0 1 0 -14 0M160.6 1162.44a7 7 0 1 0 14 0a7 7 0 1 0 -14 0M161.2 1161.72a7 7 0 1 0 14 0a7 7 0 1 0 -14 0M161.8 1161a7 7 0 1 0 14 0a7 7 0 1 0 -14 0M162.4 1159.64a7 7 0 1 0 14 0a7 7 0 1 0 -14 0M163 1158.27a7 7 0 1 0 14 0a7 7 0 1 0 -14 0M163.6 1156.91a7 7 0 1 0 14 0a7 7 0 1 0 -14 0M164.2 1155.27a7 7 0 1 0 14 0a7 7 0 1 0 -14 0M164.8 1153.08a7 7 0 1 0 14 0a7 7 0 1 0 -14 0M165.4 1150.89a7 7 0 1 0 14 0a7 7 0 1 0 -14 0M166 1148.7a7 7 0 1 0 14 0a7 7 0 1 0 -14 0M166.6 1145.57a7 7 0 1 0 14 0a7 7 0 1 0 -14 0M167.2 1141.51a7 7 0 1 0 14 0a7 7 0 1 0 -14 0M167.8 1137.45a7 7 0 1 0 14 0a7 7 0 1 0 -14 0M168.4 1133.38a7 7 0 1 0 14 0a7 7 0 1 0 -14 0M169 1129.03a7 7 0 1 0 14 0a7 7 0 1 0 -14 0M169.6 1123.19a7 7 0 1 0 14 0a7 7 0 1 0 -14 0M170.2 1117.36a7 7 0 1 0 14 0a7 7 0 1 0 -14 0M170.8 1111.15a7 7 0 1 0 14 0a7 7 0 1 0 -14 0M171.4 1103.08a7 7 0 1 0 14 0a7 7 0 1 0 -14 0M172 1095a7 7 0 1 0 14 0a7 7 0 1 0 -14 0M172.6 1088a7 7 0 1 0 14 0a7 7 0 1 0 -14 0M173.2 1081a7 7 0 1 0 14 0a7 7 0 1 0 -14 0M173.8 1074.8a7 7 0 1 0 14 0a7 7 0 1 0 -14 0M174.4 1069.4a7 7 0 1 0 14 0a7 7 0 1 0 -14 0M175 1064a7 7 0 1 0 14 0a7 7 0 1 0 -14 0M175.6 1060.64a7 7 0 1 0 14 0a7 7 0 1 0 -14 0M176.2 1057.28a7 7 0 1 0 14 0a7 7 0 1 0 -14 0M176.8 1053.92a7 7 0 1 0 14 0a7 7 0 1 0 -14 0M177.4 1050.56a7 7 0 1 0 14 0a7 7 0 1 0 -14 0M178 1047.83a7 7 0 1 0 14 0a7 7 0 1 0 -14 0M178.6 1045.23a7 7 0 1 0 14 0a7 7 0 1 0 -14 0M179.2 1042.63a7 7 0 1 0 14 0a7 7 0 1 0 -14 0M179.8 1040.03a7 7 0 1 0 14 0a7 7 0 1 0 -14 0M180.4 1037.43a7 7 0 1 0 14 0a7 7 0 1 0 -14 0M181 1034.67a7 7 0 1 0 14 0a7 7 0 1 0 -14 0M181.6 1031.87a7 7 0 1 0 14 0a7 7 0 1 0 -14 0M182.2 1029.07a7 7 0 1 0 14 0a7 7 0 1 0 -14 0M182.8 1026.27a7 7 0 1 0 14 0a7 7 0 1 0 -14 0M183.4 1023.47a7 7 0 1 0 14 0a7 7 0 1 0 -14 0M184 1020.4a7 7 0 1 0 14 0a7 7 0 1 0 -14 0M184.6 1017.28a7 7 0 1 0 14 0a7 7 0 1 0 -14 0M185.2 1014.16a7 7 0 1 0 14 0a7 7 0 1 0 -14 0M185.8 1011.04a7 7 0 1 0 14 0a7 7 0 1 0 -14 0M186.4 1008.6a7 7 0 1 0 14 0a7 7 0 1 0 -14 0M187 1006.5a7 7 0 1 0 14 0a7 7 0 1 0 -14 0M187.6 1004.4a7 7 0 1 0 14 0a7 7 0 1 0 -14 0M188.2 1002.3a7 7 0 1 0 14 0a7 7 0 1 0 -14 0M188.8 1000.2a7 7 0 1 0 14 0a7 7 0 1 0 -14 0M189.4 998.7a7 7 0 1 0 14 0a7 7 0 1 0 -14 0M190 997.5a7 7 0 1 0 14 0a7 7 0 1 0 -14 0M190.6 996.3a7 7 0 1 0 14 0a7 7 0 1 0 -14 0M191.2 995.1a7 7 0 1 0 14 0a7 7 0 1 0 -14 0M191.8 994.25a7 7 0 1 0 14 0a7 7 0 1 0 -14 0M192.4 993.75a7 7 0 1 0 14 0a7 7 0 1 0 -14 0M193 993.25a7 7 0 1 0 14 0a7 7 0 1 0 -14 0M193.6 992.75a7 7 0 1 0 14 0a7 7 0 1 0 -14 0M194.2 992.25a7 7 0 1 0 14 0a7 7 0 1 0 -14 0M194.8 992.15a7 7 0 1 0 14 0a7 7 0 1 0 -14 0M195.4 992.45a7 7 0 1 0 14 0a7 7 0 1 0 -14 0M196 992.75a7 7 0 1 0 14 0a7 7 0 1 0 -14 0M196.6 993.05a7 7 0 1 0 14 0a7 7 0 1 0 -14 0M197.2 993.35a7 7 0 1 0 14 0a7 7 0 1 0 -14 0M197.8 993.98a7 7 0 1 0 14 0a7 7 0 1 0 -14 0M198.4 994.94a7 7 0 1 0 14 0a7 7 0 1 0 -14 0M199 995.9a7 7 0 1 0 14 0a7 7 0 1 0 -14 0M199.6 996.86a7 7 0 1 0 14 0a7 7 0 1 0 -14 0M200.2 998a7 7 0 1 0 14 0a7 7 0 1 0 -14 0M200.8 999.5a7 7 0 1 0 14 0a7 7 0 1 0 -14 0M201.4 1001a7 7 0 1 0 14 0a7 7 0 1 0 -14 0M202 1002.5a7 7 0 1 0 14 0a7 7 0 1 0 -14 0M202.6 1004a7 7 0 1 0 14 0a7 7 0 1 0 -14 0M203.2 1005.83a7 7 0 1 0 14 0a7 7 0 1 0 -14 0M203.8 1008.31a7 7 0 1 0 14 0a7 7 0 1 0 -14 0M204.4 1010.79a7 7 0 1 0 14 0a7 7 0 1 0 -14 0M205 1013.27a7 7 0 1 0 14 0a7 7 0 1 0 -14 0M205.6 1015.75a7 7 0 1 0 14 0a7 7 0 1 0 -14 0M206.2 1018.24a7 7 0 1 0 14 0a7 7 0 1 0 -14 0M206.8 1020.72a7 7 0 1 0 14 0a7 7 0 1 0 -14 0M207.4 1023.2a7 7 0 1 0 14 0a7 7 0 1 0 -14 0M208 1025.98a7 7 0 1 0 14 0a7 7 0 1 0 -14 0M208.6 1028.76a7 7 0 1 0 14 0a7 7 0 1 0 -14 0M209.2 1031.54a7 7 0 1 0 14 0a7 7 0 1 0 -14 0M209.8 1034.32a7 7 0 1 0 14 0a7 7 0 1 0 -14 0M210.4 1037.1a7 7 0 1 0 14 0a7 7 0 1 0 -14 0M211 1039.88a7 7 0 1 0 14 0a7 7 0 1 0 -14 0M211.6 1042.67a7 7 0 1 0 14 0a7 7 0 1 0 -14 0M212.2 1045.45a7 7 0 1 0 14 0a7 7 0 1 0 -14 0M212.8 1048.24a7 7 0 1 0 14 0a7 7 0 1 0 -14 0M213.4 1051.06a7 7 0 1 0 14 0a7 7 0 1 0 -14 0M214 1053.89a7 7 0 1 0 14 0a7 7 0 1 0 -14 0M214.6 1056.71a7 7 0 1 0 14 0a7 7 0 1 0 -14 0M215.2 1059.53a7 7 0 1 0 14 0a7 7 0 1 0 -14 0M215.8 1062.35a7 7 0 1 0 14 0a7 7 0 1 0 -14 0M216.4 1065.18a7 7 0 1 0 14 0a7 7 0 1 0 -14 0M217 1068a7 7 0 1 0 14 0a7 7 0 1 0 -14 0M217.6 1071.72a7 7 0 1 0 14 0a7 7 0 1 0 -14 0M218.2 1075.43a7 7 0 1 0 14 0a7 7 0 1 0 -14 0M218.8 1079.15a7 7 0 1 0 14 0a7 7 0 1 0 -14 0M219.4 1082.86a7 7 0 1 0 14 0a7 7 0 1 0 -14 0M220 1086.58a7 7 0 1 0 14 0a7 7 0 1 0 -14 0M220.6 1090.29a7 7 0 1 0 14 0a7 7 0 1 0 -14 0M221.2 1094.01a7 7 0 1 0 14 0a7 7 0 1 0 -14 0M221.8 1097.72a7 7 0 1 0 14 0a7 7 0 1 0 -14 0M222.4 1101.2a7 7 0 1 0 14 0a7 7 0 1 0 -14 0M223 1104.21a7 7 0 1 0 14 0a7 7 0 1 0 -14 0M223.6 1107.22a7 7 0 1 0 14 0a7 7 0 1 0 -14 0M224.2 1110.23a7 7 0 1 0 14 0a7 7 0 1 0 -14 0M224.8 1113.24a7 7 0 1 0 14 0a7 7 0 1 0 -14 0M225.4 1116.25a7 7 0 1 0 14 0a7 7 0 1 0 -14 0M226 1119.25a7 7 0 1 0 14 0a7 7 0 1 0 -14 0M226.6 1122.26a7 7 0 1 0 14 0a7 7 0 1 0 -14 0M227.2 1125.27a7 7 0 1 0 14 0a7 7 0 1 0 -14 0M227.8 1128.28a7 7 0 1 0 14 0a7 7 0 1 0 -14 0M228.4 1131.29a7 7 0 1 0 14 0a7 7 0 1 0 -14 0M229 1134.3a7 7 0 1 0 14 0a7 7 0 1 0 -14 0M229.6 1136.69a7 7 0 1 0 14 0a7 7 0 1 0 -14 0M230.2 1138.78a7 7 0 1 0 14 0a7 7 0 1 0 -14 0M230.8 1140.87a7 7 0 1 0 14 0a7 7 0 1 0 -14 0M231.4 1142.95a7 7 0 1 0 14 0a7 7 0 1 0 -14 0M232 1145.04a7 7 0 1 0 14 0a7 7 0 1 0 -14 0M232.6 1147.13a7 7 0 1 0 14 0a7 7 0 1 0 -14 0M233.2 1149.22a7 7 0 1 0 14 0a7 7 0 1 0 -14 0M233.8 1151.3a7 7 0 1 0 14 0a7 7 0 1 0 -14 0M234.4 1153.12a7 7 0 1 0 14 0a7 7 0 1 0 -14 0M235 1154.81a7 7 0 1 0 14 0a7 7 0 1 0 -14 0M235.6 1156.49a7 7 0 1 0 14 0a7 7 0 1 0 -14 0M236.2 1158.18a7 7 0 1 0 14 0a7 7 0 1 0 -14 0M236.8 1159.86a7 7 0 1 0 14 0a7 7 0 1 0 -14 0M237.4 1161.54a7 7 0 1 0 14 0a7 7 0 1 0 -14 0M238 1163.23a7 7 0 1 0 14 0a7 7 0 1 0 -14 0M238.6 1164.91a7 7 0 1 0 14 0a7 7 0 1 0 -14 0M239.2 1166.6a7 7 0 1 0 14 0a7 7 0 1 0 -14 0M239.8 1168.26a7 7 0 1 0 14 0a7 7 0 1 0 -14 0M240.4 1169.85a7 7 0 1 0 14 0a7 7 0 1 0 -14 0M241 1171.43a7 7 0 1 0 14 0a7 7 0 1 0 -14 0M241.6 1173.02a7 7 0 1 0 14 0a7 7 0 1 0 -14 0M242.2 1174.6a7 7 0 1 0 14 0a7 7 0 1 0 -14 0M242.8 1176.19a7 7 0 1 0 14 0a7 7 0 1 0 -14 0M243.4 1177.77a7 7 0 1 0 14 0a7 7 0 1 0 -14 0M244 1179.36a7 7 0 1 0 14 0a7 7 0 1 0 -14 0M244.6 1180.94a7 7 0 1 0 14 0a7 7 0 1 0 -14 0M245.2 1182.39a7 7 0 1 0 14 0a7 7 0 1 0 -14 0M245.8 1183.55a7 7 0 1 0 14 0a7 7 0 1 0 -14 0M246.4 1184.72a7 7 0 1 0 14 0a7 7 0 1 0 -14 0M247 1185.89a7 7 0 1 0 14 0a7 7 0 1 0 -14 0M247.6 1187.05a7 7 0 1 0 14 0a7 7 0 1 0 -14 0M248.2 1188.22a7 7 0 1 0 14 0a7 7 0 1 0 -14 0M248.8 1189.38a7 7 0 1 0 14 0a7 7 0 1 0 -14 0M249.4 1190.55a7 7 0 1 0 14 0a7 7 0 1 0 -14 0M250 1191.71a7 7 0 1 0 14 0a7 7 0 1 0 -14 0M250.6 1192.88a7 7 0 1 0 14 0a7 7 0 1 0 -14 0M251.2 1194.05a7 7 0 1 0 14 0a7 7 0 1 0 -14 0M251.8 1195.21a7 7 0 1 0 14 0a7 7 0 1 0 -14 0M252.4 1196.25a7 7 0 1 0 14 0a7 7 0 1 0 -14 0M253 1197.23a7 7 0 1 0 14 0a7 7 0 1 0 -14 0M253.6 1198.21a7 7 0 1 0 14 0a7 7 0 1 0 -14 0M254.2 1199.18a7 7 0 1 0 14 0a7 7 0 1 0 -14 0M254.8 1200.16a7 7 0 1 0 14 0a7 7 0 1 0 -14 0M255.4 1201.14a7 7 0 1 0 14 0a7 7 0 1 0 -14 0M256 1202.11a7 7 0 1 0 14 0a7 7 0 1 0 -14 0M256.6 1203.09a7 7 0 1 0 14 0a7 7 0 1 0 -14 0M257.2 1204.07a7 7 0 1 0 14 0a7 7 0 1 0 -14 0M257.8 1205.05a7 7 0 1 0 14 0a7 7 0 1 0 -14 0M258.4 1206.02a7 7 0 1 0 14 0a7 7 0 1 0 -14 0M259 1207a7 7 0 1 0 14 0a7 7 0 1 0 -14 0M259.6 1207.73a7 7 0 1 0 14 0a7 7 0 1 0 -14 0M260.2 1208.47a7 7 0 1 0 14 0a7 7 0 1 0 -14 0M260.8 1209.2a7 7 0 1 0 14 0a7 7 0 1 0 -14 0M261.4 1209.93a7 7 0 1 0 14 0a7 7 0 1 0 -14 0M262 1210.67a7 7 0 1 0 14 0a7 7 0 1 0 -14 0M262.6 1211.4a7 7 0 1 0 14 0a7 7 0 1 0 -14 0M263.2 1212.13a7 7 0 1 0 14 0a7 7 0 1 0 -14 0M263.8 1212.87a7 7 0 1 0 14 0a7 7 0 1 0 -14 0M264.4 1213.6a7 7 0 1 0 14 0a7 7 0 1 0 -14 0M265 1214.33a7 7 0 1 0 14 0a7 7 0 1 0 -14 0M265.6 1215.07a7 7 0 1 0 14 0a7 7 0 1 0 -14 0M266.2 1215.8a7 7 0 1 0 14 0a7 7 0 1 0 -14 0M266.8 1216.53a7 7 0 1 0 14 0a7 7 0 1 0 -14 0M267.4 1217.27a7 7 0 1 0 14 0a7 7 0 1 0 -14 0M268 1218a7 7 0 1 0 14 0a7 7 0 1 0 -14 0M268.6 1218.48a7 7 0 1 0 14 0a7 7 0 1 0 -14 0M269.2 1218.96a7 7 0 1 0 14 0a7 7 0 1 0 -14 0M269.8 1219.44a7 7 0 1 0 14 0a7 7 0 1 0 -14 0M270.4 1219.92a7 7 0 1 0 14 0a7 7 0 1 0 -14 0M271 1220.41a7 7 0 1 0 14 0a7 7 0 1 0 -14 0M271.6 1220.89a7 7 0 1 0 14 0a7 7 0 1 0 -14 0M272.2 1221.37a7 7 0 1 0 14 0a7 7 0 1 0 -14 0M272.8 1221.85a7 7 0 1 0 14 0a7 7 0 1 0 -14 0M273.4 1222.33a7 7 0 1 0 14 0a7 7 0 1 0 -14 0M274 1222.81a7 7 0 1 0 14 0a7 7 0 1 0 -14 0M274.6 1223.29a7 7 0 1 0 14 0a7 7 0 1 0 -14 0M275.2 1223.77a7 7 0 1 0 14 0a7 7 0 1 0 -14 0M275.8 1224.25a7 7 0 1 0 14 0a7 7 0 1 0 -14 0M276.4 1224.74a7 7 0 1 0 14 0a7 7 0 1 0 -14 0M277 1225.22a7 7 0 1 0 14 0a7 7 0 1 0 -14 0M277.6 1225.7a7 7 0 1 0 14 0a7 7 0 1 0 -14 0M278.2 1226.18a7 7 0 1 0 14 0a7 7 0 1 0 -14 0M278.8 1226.58a7 7 0 1 0 14 0a7 7 0 1 0 -14 0M279.4 1226.81a7 7 0 1 0 14 0a7 7 0 1 0 -14 0M280 1227.03a7 7 0 1 0 14 0a7 7 0 1 0 -14 0M280.6 1227.26a7 7 0 1 0 14 0a7 7 0 1 0 -14 0M281.2 1227.49a7 7 0 1 0 14 0a7 7 0 1 0 -14 0M281.8 1227.72a7 7 0 1 0 14 0a7 7 0 1 0 -14 0M282.4 1227.95a7 7 0 1 0 14 0a7 7 0 1 0 -14 0M283 1228.18a7 7 0 1 0 14 0a7 7 0 1 0 -14 0M283.6 1228.41a7 7 0 1 0 14 0a7 7 0 1 0 -14 0M284.2 1228.64a7 7 0 1 0 14 0a7 7 0 1 0 -14 0M284.8 1228.87a7 7 0 1 0 14 0a7 7 0 1 0 -14 0M285.4 1229.1a7 7 0 1 0 14 0a7 7 0 1 0 -14 0M286 1229.33a7 7 0 1 0 14 0a7 7 0 1 0 -14 0M286.6 1229.56a7 7 0 1 0 14 0a7 7 0 1 0 -14 0M287.2 1229.78a7 7 0 1 0 14 0a7 7 0 1 0 -14 0M287.8 1230.01a7 7 0 1 0 14 0a7 7 0 1 0 -14 0M288.4 1230.24a7 7 0 1 0 14 0a7 7 0 1 0 -14 0M289 1230.47a7 7 0 1 0 14 0a7 7 0 1 0 -14 0M289.6 1230.7a7 7 0 1 0 14 0a7 7 0 1 0 -14 0M290.2 1230.93a7 7 0 1 0 14 0a7 7 0 1 0 -14 0M290.8 1231.16a7 7 0 1 0 14 0a7 7 0 1 0 -14 0M291.4 1231.39a7 7 0 1 0 14 0a7 7 0 1 0 -14 0M292 1231.62a7 7 0 1 0 14 0a7 7 0 1 0 -14 0M292.6 1231.85a7 7 0 1 0 14 0a7 7 0 1 0 -14 0M293.2 1232.04a7 7 0 1 0 14 0a7 7 0 1 0 -14 0M293.8 1232.18a7 7 0 1 0 14 0a7 7 0 1 0 -14 0M294.4 1232.31a7 7 0 1 0 14 0a7 7 0 1 0 -14 0M295 1232.44a7 7 0 1 0 14 0a7 7 0 1 0 -14 0M295.6 1232.58a7 7 0 1 0 14 0a7 7 0 1 0 -14 0M296.2 1232.71a7 7 0 1 0 14 0a7 7 0 1 0 -14 0M296.8 1232.84a7 7 0 1 0 14 0a7 7 0 1 0 -14 0M297.4 1232.97a7 7 0 1 0 14 0a7 7 0 1 0 -14 0M298 1233.11a7 7 0 1 0 14 0a7 7 0 1 0 -14 0M298.6 1233.24a7 7 0 1 0 14 0a7 7 0 1 0 -14 0M299.2 1233.37a7 7 0 1 0 14 0a7 7 0 1 0 -14 0M299.8 1233.5a7 7 0 1 0 14 0a7 7 0 1 0 -14 0M300.4 1233.64a7 7 0 1 0 14 0a7 7 0 1 0 -14 0M301 1233.77a7 7 0 1 0 14 0a7 7 0 1 0 -14 0M301.6 1233.9a7 7 0 1 0 14 0a7 7 0 1 0 -14 0M302.2 1234.04a7 7 0 1 0 14 0a7 7 0 1 0 -14 0M302.8 1234.17a7 7 0 1 0 14 0a7 7 0 1 0 -14 0M303.4 1234.3a7 7 0 1 0 14 0a7 7 0 1 0 -14 0M304 1234.43a7 7 0 1 0 14 0a7 7 0 1 0 -14 0M304.6 1234.57a7 7 0 1 0 14 0a7 7 0 1 0 -14 0M305.2 1234.7a7 7 0 1 0 14 0a7 7 0 1 0 -14 0M305.8 1234.83a7 7 0 1 0 14 0a7 7 0 1 0 -14 0M306.4 1234.96a7 7 0 1 0 14 0a7 7 0 1 0 -14 0M307 1235.1a7 7 0 1 0 14 0a7 7 0 1 0 -14 0M307.6 1235.23a7 7 0 1 0 14 0a7 7 0 1 0 -14 0M308.2 1235.36a7 7 0 1 0 14 0a7 7 0 1 0 -14 0M308.8 1235.5a7 7 0 1 0 14 0a7 7 0 1 0 -14 0M309.4 1235.63a7 7 0 1 0 14 0a7 7 0 1 0 -14 0M310 1235.76a7 7 0 1 0 14 0a7 7 0 1 0 -14 0M310.6 1235.89a7 7 0 1 0 14 0a7 7 0 1 0 -14 0M311.2 1236.03a7 7 0 1 0 14 0a7 7 0 1 0 -14 0M311.8 1236.16a7 7 0 1 0 14 0a7 7 0 1 0 -14 0M312.4 1236.29a7 7 0 1 0 14 0a7 7 0 1 0 -14 0M313 1236.42a7 7 0 1 0 14 0a7 7 0 1 0 -14 0M313.6 1236.56a7 7 0 1 0 14 0a7 7 0 1 0 -14 0M314.2 1236.69a7 7 0 1 0 14 0a7 7 0 1 0 -14 0M314.8 1236.82a7 7 0 1 0 14 0a7 7 0 1 0 -14 0M315.4 1236.96a7 7 0 1 0 14 0a7 7 0 1 0 -14 0M316 1237.08a7 7 0 1 0 14 0a7 7 0 1 0 -14 0M316.6 1237.2a7 7 0 1 0 14 0a7 7 0 1 0 -14 0M317.2 1237.32a7 7 0 1 0 14 0a7 7 0 1 0 -14 0M317.8 1237.44a7 7 0 1 0 14 0a7 7 0 1 0 -14 0M318.4 1237.56a7 7 0 1 0 14 0a7 7 0 1 0 -14 0M319 1237.68a7 7 0 1 0 14 0a7 7 0 1 0 -14 0M319.6 1237.8a7 7 0 1 0 14 0a7 7 0 1 0 -14 0M320.2 1237.93a7 7 0 1 0 14 0a7 7 0 1 0 -14 0M320.8 1238.05a7 7 0 1 0 14 0a7 7 0 1 0 -14 0M321.4 1238.17a7 7 0 1 0 14 0a7 7 0 1 0 -14 0M322 1238.29a7 7 0 1 0 14 0a7 7 0 1 0 -14 0M322.6 1238.41a7 7 0 1 0 14 0a7 7 0 1 0 -14 0M323.2 1238.53a7 7 0 1 0 14 0a7 7 0 1 0 -14 0M323.8 1238.65a7 7 0 1 0 14 0a7 7 0 1 0 -14 0M324.4 1238.77a7 7 0 1 0 14 0a7 7 0 1 0 -14 0M325 1238.89a7 7 0 1 0 14 0a7 7 0 1 0 -14 0M325.6 1239.01a7 7 0 1 0 14 0a7 7 0 1 0 -14 0M326.2 1239.13a7 7 0 1 0 14 0a7 7 0 1 0 -14 0M326.8 1239.25a7 7 0 1 0 14 0a7 7 0 1 0 -14 0M327.4 1239.37a7 7 0 1 0 14 0a7 7 0 1 0 -14 0M328 1239.49a7 7 0 1 0 14 0a7 7 0 1 0 -14 0M328.6 1239.61a7 7 0 1 0 14 0a7 7 0 1 0 -14 0M329.2 1239.74a7 7 0 1 0 14 0a7 7 0 1 0 -14 0M329.8 1239.86a7 7 0 1 0 14 0a7 7 0 1 0 -14 0M330.4 1239.98a7 7 0 1 0 14 0a7 7 0 1 0 -14 0M331 1240.1a7 7 0 1 0 14 0a7 7 0 1 0 -14 0M331.6 1240.22a7 7 0 1 0 14 0a7 7 0 1 0 -14 0M332.2 1240.34a7 7 0 1 0 14 0a7 7 0 1 0 -14 0M332.8 1240.46a7 7 0 1 0 14 0a7 7 0 1 0 -14 0M333.4 1240.6a7 7 0 1 0 14 0a7 7 0 1 0 -14 0M334 1240.76a7 7 0 1 0 14 0a7 7 0 1 0 -14 0M334.6 1240.91a7 7 0 1 0 14 0a7 7 0 1 0 -14 0M335.2 1241.06a7 7 0 1 0 14 0a7 7 0 1 0 -14 0M335.8 1241.21a7 7 0 1 0 14 0a7 7 0 1 0 -14 0M336.4 1241.37a7 7 0 1 0 14 0a7 7 0 1 0 -14 0M337 1241.52a7 7 0 1 0 14 0a7 7 0 1 0 -14 0M337.6 1241.67a7 7 0 1 0 14 0a7 7 0 1 0 -14 0M338.2 1241.83a7 7 0 1 0 14 0a7 7 0 1 0 -14 0M338.8 1241.98a7 7 0 1 0 14 0a7 7 0 1 0 -14 0M339.4 1242.13a7 7 0 1 0 14 0a7 7 0 1 0 -14 0M340 1242.29a7 7 0 1 0 14 0a7 7 0 1 0 -14 0M340.6 1242.44a7 7 0 1 0 14 0a7 7 0 1 0 -14 0M341.2 1242.59a7 7 0 1 0 14 0a7 7 0 1 0 -14 0M341.8 1242.74a7 7 0 1 0 14 0a7 7 0 1 0 -14 0M342.4 1242.9a7 7 0 1 0 14 0a7 7 0 1 0 -14 0M343 1243.05a7 7 0 1 0 14 0a7 7 0 1 0 -14 0M343.6 1243.2a7 7 0 1 0 14 0a7 7 0 1 0 -14 0M344.2 1243.36a7 7 0 1 0 14 0a7 7 0 1 0 -14 0M344.8 1243.51a7 7 0 1 0 14 0a7 7 0 1 0 -14 0M345.4 1243.66a7 7 0 1 0 14 0a7 7 0 1 0 -14 0M346 1243.82a7 7 0 1 0 14 0a7 7 0 1 0 -14 0M346.6 1243.97a7 7 0 1 0 14 0a7 7 0 1 0 -14 0M347.2 1244.12a7 7 0 1 0 14 0a7 7 0 1 0 -14 0M347.8 1244.28a7 7 0 1 0 14 0a7 7 0 1 0 -14 0M348.4 1244.43a7 7 0 1 0 14 0a7 7 0 1 0 -14 0M349 1244.58a7 7 0 1 0 14 0a7 7 0 1 0 -14 0M349.6 1244.73a7 7 0 1 0 14 0a7 7 0 1 0 -14 0M350.2 1244.89a7 7 0 1 0 14 0a7 7 0 1 0 -14 0M350.8 1245.04a7 7 0 1 0 14 0a7 7 0 1 0 -14 0M351.4 1245.19a7 7 0 1 0 14 0a7 7 0 1 0 -14 0M352 1245.35a7 7 0 1 0 14 0a7 7 0 1 0 -14 0M352.6 1245.5a7 7 0 1 0 14 0a7 7 0 1 0 -14 0M353.2 1245.66a7 7 0 1 0 14 0a7 7 0 1 0 -14 0M353.8 1245.83a7 7 0 1 0 14 0a7 7 0 1 0 -14 0M354.4 1245.99a7 7 0 1 0 14 0a7 7 0 1 0 -14 0M355 1246.15a7 7 0 1 0 14 0a7 7 0 1 0 -14 0M355.6 1246.32a7 7 0 1 0 14 0a7 7 0 1 0 -14 0M356.2 1246.48a7 7 0 1 0 14 0a7 7 0 1 0 -14 0M356.8 1246.64a7 7 0 1 0 14 0a7 7 0 1 0 -14 0M357.4 1246.8a7 7 0 1 0 14 0a7 7 0 1 0 -14 0M358 1246.97a7 7 0 1 0 14 0a7 7 0 1 0 -14 0M358.6 1247.13a7 7 0 1 0 14 0a7 7 0 1 0 -14 0M359.2 1247.29a7 7 0 1 0 14 0a7 7 0 1 0 -14 0M359.8 1247.46a7 7 0 1 0 14 0a7 7 0 1 0 -14 0M360.4 1247.62a7 7 0 1 0 14 0a7 7 0 1 0 -14 0M361 1247.78a7 7 0 1 0 14 0a7 7 0 1 0 -14 0M361.6 1247.95a7 7 0 1 0 14 0a7 7 0 1 0 -14 0M362.2 1248.11a7 7 0 1 0 14 0a7 7 0 1 0 -14 0M362.8 1248.27a7 7 0 1 0 14 0a7 7 0 1 0 -14 0M363.4 1248.43a7 7 0 1 0 14 0a7 7 0 1 0 -14 0M364 1248.6a7 7 0 1 0 14 0a7 7 0 1 0 -14 0M364.6 1248.76a7 7 0 1 0 14 0a7 7 0 1 0 -14 0M365.2 1248.92a7 7 0 1 0 14 0a7 7 0 1 0 -14 0M365.8 1249.09a7 7 0 1 0 14 0a7 7 0 1 0 -14 0M366.4 1249.25a7 7 0 1 0 14 0a7 7 0 1 0 -14 0M367 1249.41a7 7 0 1 0 14 0a7 7 0 1 0 -14 0M367.6 1249.58a7 7 0 1 0 14 0a7 7 0 1 0 -14 0M368.2 1249.74a7 7 0 1 0 14 0a7 7 0 1 0 -14 0M368.8 1249.9a7 7 0 1 0 14 0a7 7 0 1 0 -14 0M369.4 1250.07a7 7 0 1 0 14 0a7 7 0 1 0 -14 0M370 1250.23a7 7 0 1 0 14 0a7 7 0 1 0 -14 0M370.6 1250.39a7 7 0 1 0 14 0a7 7 0 1 0 -14 0M371.2 1250.55a7 7 0 1 0 14 0a7 7 0 1 0 -14 0M371.8 1250.71a7 7 0 1 0 14 0a7 7 0 1 0 -14 0M372.4 1250.87a7 7 0 1 0 14 0a7 7 0 1 0 -14 0M373 1251.03a7 7 0 1 0 14 0a7 7 0 1 0 -14 0M373.6 1251.2a7 7 0 1 0 14 0a7 7 0 1 0 -14 0M374.2 1251.36a7 7 0 1 0 14 0a7 7 0 1 0 -14 0M374.8 1251.52a7 7 0 1 0 14 0a7 7 0 1 0 -14 0M375.4 1251.68a7 7 0 1 0 14 0a7 7 0 1 0 -14 0M376 1251.84a7 7 0 1 0 14 0a7 7 0 1 0 -14 0M376.6 1252a7 7 0 1 0 14 0a7 7 0 1 0 -14 0M377.2 1252.16a7 7 0 1 0 14 0a7 7 0 1 0 -14 0M377.8 1252.32a7 7 0 1 0 14 0a7 7 0 1 0 -14 0M378.4 1252.48a7 7 0 1 0 14 0a7 7 0 1 0 -14 0M379 1252.64a7 7 0 1 0 14 0a7 7 0 1 0 -14 0M379.6 1252.8a7 7 0 1 0 14 0a7 7 0 1 0 -14 0M380.2 1252.96a7 7 0 1 0 14 0a7 7 0 1 0 -14 0M380.8 1253.12a7 7 0 1 0 14 0a7 7 0 1 0 -14 0M381.4 1253.28a7 7 0 1 0 14 0a7 7 0 1 0 -14 0M382 1253.44a7 7 0 1 0 14 0a7 7 0 1 0 -14 0M382.6 1253.6a7 7 0 1 0 14 0a7 7 0 1 0 -14 0M383.2 1253.76a7 7 0 1 0 14 0a7 7 0 1 0 -14 0M383.8 1253.92a7 7 0 1 0 14 0a7 7 0 1 0 -14 0M384.4 1254.08a7 7 0 1 0 14 0a7 7 0 1 0 -14 0M385 1254.24a7 7 0 1 0 14 0a7 7 0 1 0 -14 0M385.6 1254.4a7 7 0 1 0 14 0a7 7 0 1 0 -14 0M386.2 1254.56a7 7 0 1 0 14 0a7 7 0 1 0 -14 0M386.8 1254.72a7 7 0 1 0 14 0a7 7 0 1 0 -14 0M387.4 1254.89a7 7 0 1 0 14 0a7 7 0 1 0 -14 0M388 1255.05a7 7 0 1 0 14 0a7 7 0 1 0 -14 0M388.6 1255.21a7 7 0 1 0 14 0a7 7 0 1 0 -14 0M389.2 1255.37a7 7 0 1 0 14 0a7 7 0 1 0 -14 0M389.8 1255.53a7 7 0 1 0 14 0a7 7 0 1 0 -14 0M390.4 1255.71a7 7 0 1 0 14 0a7 7 0 1 0 -14 0M391 1255.89a7 7 0 1 0 14 0a7 7 0 1 0 -14 0M391.6 1256.07a7 7 0 1 0 14 0a7 7 0 1 0 -14 0M392.2 1256.25a7 7 0 1 0 14 0a7 7 0 1 0 -14 0M392.8 1256.43a7 7 0 1 0 14 0a7 7 0 1 0 -14 0M393.4 1256.61a7 7 0 1 0 14 0a7 7 0 1 0 -14 0M394 1256.79a7 7 0 1 0 14 0a7 7 0 1 0 -14 0M394.6 1256.97a7 7 0 1 0 14 0a7 7 0 1 0 -14 0M395.2 1257.15a7 7 0 1 0 14 0a7 7 0 1 0 -14 0M395.8 1257.33a7 7 0 1 0 14 0a7 7 0 1 0 -14 0M396.4 1257.51a7 7 0 1 0 14 0a7 7 0 1 0 -14 0M397 1257.69a7 7 0 1 0 14 0a7 7 0 1 0 -14 0M397.6 1257.87a7 7 0 1 0 14 0a7 7 0 1 0 -14 0M398.2 1258.05a7 7 0 1 0 14 0a7 7 0 1 0 -14 0M398.8 1258.23a7 7 0 1 0 14 0a7 7 0 1 0 -14 0M399.4 1258.42a7 7 0 1 0 14 0a7 7 0 1 0 -14 0M400 1258.6a7 7 0 1 0 14 0a7 7 0 1 0 -14 0M400.6 1258.78a7 7 0 1 0 14 0a7 7 0 1 0 -14 0M401.2 1258.96a7 7 0 1 0 14 0a7 7 0 1 0 -14 0M401.8 1259.14a7 7 0 1 0 14 0a7 7 0 1 0 -14 0M402.4 1259.32a7 7 0 1 0 14 0a7 7 0 1 0 -14 0M403 1259.5a7 7 0 1 0 14 0a7 7 0 1 0 -14 0M403.6 1259.68a7 7 0 1 0 14 0a7 7 0 1 0 -14 0M404.2 1259.86a7 7 0 1 0 14 0a7 7 0 1 0 -14 0M404.8 1260.04a7 7 0 1 0 14 0a7 7 0 1 0 -14 0M405.4 1260.22a7 7 0 1 0 14 0a7 7 0 1 0 -14 0M406 1260.4a7 7 0 1 0 14 0a7 7 0 1 0 -14 0M406.6 1260.58a7 7 0 1 0 14 0a7 7 0 1 0 -14 0M407.2 1260.76a7 7 0 1 0 14 0a7 7 0 1 0 -14 0M407.8 1260.94a7 7 0 1 0 14 0a7 7 0 1 0 -14 0M408.4 1261.14a7 7 0 1 0 14 0a7 7 0 1 0 -14 0M409 1261.35a7 7 0 1 0 14 0a7 7 0 1 0 -14 0M409.6 1261.56a7 7 0 1 0 14 0a7 7 0 1 0 -14 0M410.2 1261.76a7 7 0 1 0 14 0a7 7 0 1 0 -14 0M410.8 1261.97a7 7 0 1 0 14 0a7 7 0 1 0 -14 0M411.4 1262.18a7 7 0 1 0 14 0a7 7 0 1 0 -14 0M412 1262.39a7 7 0 1 0 14 0a7 7 0 1 0 -14 0M412.6 1262.6a7 7 0 1 0 14 0a7 7 0 1 0 -14 0M413.2 1262.81a7 7 0 1 0 14 0a7 7 0 1 0 -14 0M413.8 1263.02a7 7 0 1 0 14 0a7 7 0 1 0 -14 0M414.4 1263.22a7 7 0 1 0 14 0a7 7 0 1 0 -14 0M415 1263.43a7 7 0 1 0 14 0a7 7 0 1 0 -14 0M415.6 1263.64a7 7 0 1 0 14 0a7 7 0 1 0 -14 0M416.2 1263.85a7 7 0 1 0 14 0a7 7 0 1 0 -14 0M416.8 1264.06a7 7 0 1 0 14 0a7 7 0 1 0 -14 0M417.4 1264.27a7 7 0 1 0 14 0a7 7 0 1 0 -14 0M418 1264.48a7 7 0 1 0 14 0a7 7 0 1 0 -14 0M418.6 1264.68a7 7 0 1 0 14 0a7 7 0 1 0 -14 0M419.2 1264.89a7 7 0 1 0 14 0a7 7 0 1 0 -14 0M419.8 1265.1a7 7 0 1 0 14 0a7 7 0 1 0 -14 0M420.4 1265.31a7 7 0 1 0 14 0a7 7 0 1 0 -14 0M421 1265.52a7 7 0 1 0 14 0a7 7 0 1 0 -14 0M421.6 1265.73a7 7 0 1 0 14 0a7 7 0 1 0 -14 0M422.2 1265.94a7 7 0 1 0 14 0a7 7 0 1 0 -14 0M422.8 1266.14a7 7 0 1 0 14 0a7 7 0 1 0 -14 0M423.4 1266.35a7 7 0 1 0 14 0a7 7 0 1 0 -14 0M424 1266.56a7 7 0 1 0 14 0a7 7 0 1 0 -14 0M424.6 1266.77a7 7 0 1 0 14 0a7 7 0 1 0 -14 0M425.2 1266.98a7 7 0 1 0 14 0a7 7 0 1 0 -14 0M425.8 1267.19a7 7 0 1 0 14 0a7 7 0 1 0 -14 0M426.4 1267.4a7 7 0 1 0 14 0a7 7 0 1 0 -14 0M427 1267.59a7 7 0 1 0 14 0a7 7 0 1 0 -14 0M427.6 1267.77a7 7 0 1 0 14 0a7 7 0 1 0 -14 0M428.2 1267.95a7 7 0 1 0 14 0a7 7 0 1 0 -14 0M428.8 1268.13a7 7 0 1 0 14 0a7 7 0 1 0 -14 0M429.4 1268.31a7 7 0 1 0 14 0a7 7 0 1 0 -14 0M430 1268.49a7 7 0 1 0 14 0a7 7 0 1 0 -14 0M430.6 1268.67a7 7 0 1 0 14 0a7 7 0 1 0 -14 0M431.2 1268.85a7 7 0 1 0 14 0a7 7 0 1 0 -14 0M431.8 1269.03a7 7 0 1 0 14 0a7 7 0 1 0 -14 0M432.4 1269.21a7 7 0 1 0 14 0a7 7 0 1 0 -14 0M433 1269.39a7 7 0 1 0 14 0a7 7 0 1 0 -14 0M433.6 1269.57a7 7 0 1 0 14 0a7 7 0 1 0 -14 0M434.2 1269.75a7 7 0 1 0 14 0a7 7 0 1 0 -14 0M434.8 1269.93a7 7 0 1 0 14 0a7 7 0 1 0 -14 0M435.4 1270.11a7 7 0 1 0 14 0a7 7 0 1 0 -14 0M436 1270.3a7 7 0 1 0 14 0a7 7 0 1 0 -14 0M436.6 1270.48a7 7 0 1 0 14 0a7 7 0 1 0 -14 0M437.2 1270.66a7 7 0 1 0 14 0a7 7 0 1 0 -14 0M437.8 1270.84a7 7 0 1 0 14 0a7 7 0 1 0 -14 0M438.4 1271.02a7 7 0 1 0 14 0a7 7 0 1 0 -14 0M439 1271.2a7 7 0 1 0 14 0a7 7 0 1 0 -14 0M439.6 1271.38a7 7 0 1 0 14 0a7 7 0 1 0 -14 0M440.2 1271.56a7 7 0 1 0 14 0a7 7 0 1 0 -14 0M440.8 1271.74a7 7 0 1 0 14 0a7 7 0 1 0 -14 0M441.4 1271.92a7 7 0 1 0 14 0a7 7 0 1 0 -14 0M442 1272.1a7 7 0 1 0 14 0a7 7 0 1 0 -14 0M442.6 1272.28a7 7 0 1 0 14 0a7 7 0 1 0 -14 0M443.2 1272.46a7 7 0 1 0 14 0a7 7 0 1 0 -14 0M443.8 1272.64a7 7 0 1 0 14 0a7 7 0 1 0 -14 0M444.4 1272.82a7 7 0 1 0 14 0a7 7 0 1 0 -14 0M445 1273a7 7 0 1 0 14 0a7 7 0 1 0 -14 0M445.6 1273.11a7 7 0 1 0 14 0a7 7 0 1 0 -14 0M446.2 1273.22a7 7 0 1 0 14 0a7 7 0 1 0 -14 0M446.8 1273.34a7 7 0 1 0 14 0a7 7 0 1 0 -14 0M447.4 1273.45a7 7 0 1 0 14 0a7 7 0 1 0 -14 0M448 1273.56a7 7 0 1 0 14 0a7 7 0 1 0 -14 0M448.6 1273.67a7 7 0 1 0 14 0a7 7 0 1 0 -14 0M449.2 1273.79a7 7 0 1 0 14 0a7 7 0 1 0 -14 0M449.8 1273.9a7 7 0 1 0 14 0a7 7 0 1 0 -14 0M450.4 1274.01a7 7 0 1 0 14 0a7 7 0 1 0 -14 0M451 1274.12a7 7 0 1 0 14 0a7 7 0 1 0 -14 0M451.6 1274.24a7 7 0 1 0 14 0a7 7 0 1 0 -14 0M452.2 1274.35a7 7 0 1 0 14 0a7 7 0 1 0 -14 0M452.8 1274.46a7 7 0 1 0 14 0a7 7 0 1 0 -14 0M453.4 1274.57a7 7 0 1 0 14 0a7 7 0 1 0 -14 0M454 1274.68a7 7 0 1 0 14 0a7 7 0 1 0 -14 0M454.6 1274.8a7 7 0 1 0 14 0a7 7 0 1 0 -14 0M455.2 1274.91a7 7 0 1 0 14 0a7 7 0 1 0 -14 0M455.8 1275.02a7 7 0 1 0 14 0a7 7 0 1 0 -14 0M456.4 1275.13a7 7 0 1 0 14 0a7 7 0 1 0 -14 0M457 1275.25a7 7 0 1 0 14 0a7 7 0 1 0 -14 0M457.6 1275.36a7 7 0 1 0 14 0a7 7 0 1 0 -14 0M458.2 1275.47a7 7 0 1 0 14 0a7 7 0 1 0 -14 0M458.8 1275.58a7 7 0 1 0 14 0a7 7 0 1 0 -14 0M459.4 1275.7a7 7 0 1 0 14 0a7 7 0 1 0 -14 0M460 1275.81a7 7 0 1 0 14 0a7 7 0 1 0 -14 0M460.6 1275.92a7 7 0 1 0 14 0a7 7 0 1 0 -14 0M461.2 1276.03a7 7 0 1 0 14 0a7 7 0 1 0 -14 0M461.8 1276.14a7 7 0 1 0 14 0a7 7 0 1 0 -14 0M462.4 1276.26a7 7 0 1 0 14 0a7 7 0 1 0 -14 0M463 1276.37a7 7 0 1 0 14 0a7 7 0 1 0 -14 0M463.6 1276.48a7 7 0 1 0 14 0a7 7 0 1 0 -14 0M464.2 1276.53a7 7 0 1 0 14 0a7 7 0 1 0 -14 0M464.8 1276.57a7 7 0 1 0 14 0a7 7 0 1 0 -14 0M465.4 1276.61a7 7 0 1 0 14 0a7 7 0 1 0 -14 0M466 1276.65a7 7 0 1 0 14 0a7 7 0 1 0 -14 0M466.6 1276.69a7 7 0 1 0 14 0a7 7 0 1 0 -14 0M467.2 1276.73a7 7 0 1 0 14 0a7 7 0 1 0 -14 0M467.8 1276.76a7 7 0 1 0 14 0a7 7 0 1 0 -14 0M468.4 1276.8a7 7 0 1 0 14 0a7 7 0 1 0 -14 0M469 1276.84a7 7 0 1 0 14 0a7 7 0 1 0 -14 0M469.6 1276.88a7 7 0 1 0 14 0a7 7 0 1 0 -14 0M470.2 1276.92a7 7 0 1 0 14 0a7 7 0 1 0 -14 0M470.8 1276.96a7 7 0 1 0 14 0a7 7 0 1 0 -14 0M471.4 1277a7 7 0 1 0 14 0a7 7 0 1 0 -14 0M472 1277.03a7 7 0 1 0 14 0a7 7 0 1 0 -14 0M472.6 1277.07a7 7 0 1 0 14 0a7 7 0 1 0 -14 0M473.2 1277.11a7 7 0 1 0 14 0a7 7 0 1 0 -14 0M473.8 1277.15a7 7 0 1 0 14 0a7 7 0 1 0 -14 0M474.4 1277.19a7 7 0 1 0 14 0a7 7 0 1 0 -14 0M475 1277.23a7 7 0 1 0 14 0a7 7 0 1 0 -14 0M475.6 1277.27a7 7 0 1 0 14 0a7 7 0 1 0 -14 0M476.2 1277.3a7 7 0 1 0 14 0a7 7 0 1 0 -14 0M476.8 1277.34a7 7 0 1 0 14 0a7 7 0 1 0 -14 0M477.4 1277.38a7 7 0 1 0 14 0a7 7 0 1 0 -14 0M478 1277.42a7 7 0 1 0 14 0a7 7 0 1 0 -14 0M478.6 1277.46a7 7 0 1 0 14 0a7 7 0 1 0 -14 0M479.2 1277.5a7 7 0 1 0 14 0a7 7 0 1 0 -14 0M479.8 1277.54a7 7 0 1 0 14 0a7 7 0 1 0 -14 0M480.4 1277.58a7 7 0 1 0 14 0a7 7 0 1 0 -14 0M481 1277.61a7 7 0 1 0 14 0a7 7 0 1 0 -14 0M481.6 1277.65a7 7 0 1 0 14 0a7 7 0 1 0 -14 0M482.2 1277.69a7 7 0 1 0 14 0a7 7 0 1 0 -14 0M482.8 1277.73a7 7 0 1 0 14 0a7 7 0 1 0 -14 0M483.4 1277.77a7 7 0 1 0 14 0a7 7 0 1 0 -14 0M484 1277.81a7 7 0 1 0 14 0a7 7 0 1 0 -14 0M484.6 1277.85a7 7 0 1 0 14 0a7 7 0 1 0 -14 0M485.2 1277.88a7 7 0 1 0 14 0a7 7 0 1 0 -14 0M485.8 1277.92a7 7 0 1 0 14 0a7 7 0 1 0 -14 0M486.4 1277.96a7 7 0 1 0 14 0a7 7 0 1 0 -14 0M487 1278a7 7 0 1 0 14 0a7 7 0 1 0 -14 0M487.6 1278.02a7 7 0 1 0 14 0a7 7 0 1 0 -14 0M488.2 1278.04a7 7 0 1 0 14 0a7 7 0 1 0 -14 0M488.8 1278.06a7 7 0 1 0 14 0a7 7 0 1 0 -14 0M489.4 1278.07a7 7 0 1 0 14 0a7 7 0 1 0 -14 0M490 1278.09a7 7 0 1 0 14 0a7 7 0 1 0 -14 0M490.6 1278.11a7 7 0 1 0 14 0a7 7 0 1 0 -14 0M491.2 1278.13a7 7 0 1 0 14 0a7 7 0 1 0 -14 0M491.8 1278.15a7 7 0 1 0 14 0a7 7 0 1 0 -14 0M492.4 1278.17a7 7 0 1 0 14 0a7 7 0 1 0 -14 0M493 1278.18a7 7 0 1 0 14 0a7 7 0 1 0 -14 0M493.6 1278.2a7 7 0 1 0 14 0a7 7 0 1 0 -14 0M494.2 1278.22a7 7 0 1 0 14 0a7 7 0 1 0 -14 0M494.8 1278.24a7 7 0 1 0 14 0a7 7 0 1 0 -14 0M495.4 1278.26a7 7 0 1 0 14 0a7 7 0 1 0 -14 0M496 1278.28a7 7 0 1 0 14 0a7 7 0 1 0 -14 0M496.6 1278.29a7 7 0 1 0 14 0a7 7 0 1 0 -14 0M497.2 1278.31a7 7 0 1 0 14 0a7 7 0 1 0 -14 0M497.8 1278.33a7 7 0 1 0 14 0a7 7 0 1 0 -14 0M498.4 1278.35a7 7 0 1 0 14 0a7 7 0 1 0 -14 0M499 1278.37a7 7 0 1 0 14 0a7 7 0 1 0 -14 0M499.6 1278.39a7 7 0 1 0 14 0a7 7 0 1 0 -14 0M500.2 1278.4a7 7 0 1 0 14 0a7 7 0 1 0 -14 0M500.8 1278.42a7 7 0 1 0 14 0a7 7 0 1 0 -14 0M501.4 1278.44a7 7 0 1 0 14 0a7 7 0 1 0 -14 0M502 1278.46a7 7 0 1 0 14 0a7 7 0 1 0 -14 0M502.6 1278.48a7 7 0 1 0 14 0a7 7 0 1 0 -14 0M503.2 1278.5a7 7 0 1 0 14 0a7 7 0 1 0 -14 0M503.8 1278.51a7 7 0 1 0 14 0a7 7 0 1 0 -14 0M504.4 1278.53a7 7 0 1 0 14 0a7 7 0 1 0 -14 0M505 1278.55a7 7 0 1 0 14 0a7 7 0 1 0 -14 0M505.6 1278.57a7 7 0 1 0 14 0a7 7 0 1 0 -14 0M506.2 1278.59a7 7 0 1 0 14 0a7 7 0 1 0 -14 0M506.8 1278.61a7 7 0 1 0 14 0a7 7 0 1 0 -14 0M507.4 1278.62a7 7 0 1 0 14 0a7 7 0 1 0 -14 0M508 1278.64a7 7 0 1 0 14 0a7 7 0 1 0 -14 0M508.6 1278.66a7 7 0 1 0 14 0a7 7 0 1 0 -14 0M509.2 1278.68a7 7 0 1 0 14 0a7 7 0 1 0 -14 0M509.8 1278.7a7 7 0 1 0 14 0a7 7 0 1 0 -14 0M510.4 1278.72a7 7 0 1 0 14 0a7 7 0 1 0 -14 0M511 1278.73a7 7 0 1 0 14 0a7 7 0 1 0 -14 0M511.6 1278.75a7 7 0 1 0 14 0a7 7 0 1 0 -14 0M512.2 1278.77a7 7 0 1 0 14 0a7 7 0 1 0 -14 0M512.8 1278.79a7 7 0 1 0 14 0a7 7 0 1 0 -14 0M513.4 1278.81a7 7 0 1 0 14 0a7 7 0 1 0 -14 0M514 1278.83a7 7 0 1 0 14 0a7 7 0 1 0 -14 0M514.6 1278.84a7 7 0 1 0 14 0a7 7 0 1 0 -14 0M515.2 1278.86a7 7 0 1 0 14 0a7 7 0 1 0 -14 0M515.8 1278.88a7 7 0 1 0 14 0a7 7 0 1 0 -14 0M516.4 1278.9a7 7 0 1 0 14 0a7 7 0 1 0 -14 0M517 1278.92a7 7 0 1 0 14 0a7 7 0 1 0 -14 0M517.6 1278.94a7 7 0 1 0 14 0a7 7 0 1 0 -14 0M518.2 1278.96a7 7 0 1 0 14 0a7 7 0 1 0 -14 0M518.8 1278.97a7 7 0 1 0 14 0a7 7 0 1 0 -14 0M519.4 1278.99a7 7 0 1 0 14 0a7 7 0 1 0 -14 0M520 1279.01a7 7 0 1 0 14 0a7 7 0 1 0 -14 0M520.6 1279.03a7 7 0 1 0 14 0a7 7 0 1 0 -14 0M521.2 1279.05a7 7 0 1 0 14 0a7 7 0 1 0 -14 0M521.8 1279.07a7 7 0 1 0 14 0a7 7 0 1 0 -14 0M522.4 1279.08a7 7 0 1 0 14 0a7 7 0 1 0 -14 0M523 1279.1a7 7 0 1 0 14 0a7 7 0 1 0 -14 0M523.6 1279.12a7 7 0 1 0 14 0a7 7 0 1 0 -14 0M524.2 1279.14a7 7 0 1 0 14 0a7 7 0 1 0 -14 0M524.8 1279.16a7 7 0 1 0 14 0a7 7 0 1 0 -14 0M525.4 1279.18a7 7 0 1 0 14 0a7 7 0 1 0 -14 0M526 1279.19a7 7 0 1 0 14 0a7 7 0 1 0 -14 0M526.6 1279.21a7 7 0 1 0 14 0a7 7 0 1 0 -14 0M527.2 1279.23a7 7 0 1 0 14 0a7 7 0 1 0 -14 0M527.8 1279.25a7 7 0 1 0 14 0a7 7 0 1 0 -14 0M528.4 1279.27a7 7 0 1 0 14 0a7 7 0 1 0 -14 0M529 1279.29a7 7 0 1 0 14 0a7 7 0 1 0 -14 0M529.6 1279.3a7 7 0 1 0 14 0a7 7 0 1 0 -14 0M530.2 1279.32a7 7 0 1 0 14 0a7 7 0 1 0 -14 0M530.8 1279.34a7 7 0 1 0 14 0a7 7 0 1 0 -14 0M531.4 1279.36a7 7 0 1 0 14 0a7 7 0 1 0 -14 0M532 1279.38a7 7 0 1 0 14 0a7 7 0 1 0 -14 0M532.6 1279.4a7 7 0 1 0 14 0a7 7 0 1 0 -14 0M533.2 1279.41a7 7 0 1 0 14 0a7 7 0 1 0 -14 0M533.8 1279.43a7 7 0 1 0 14 0a7 7 0 1 0 -14 0M534.4 1279.45a7 7 0 1 0 14 0a7 7 0 1 0 -14 0M535 1279.47a7 7 0 1 0 14 0a7 7 0 1 0 -14 0M535.6 1279.49a7 7 0 1 0 14 0a7 7 0 1 0 -14 0M536.2 1279.5a7 7 0 1 0 14 0a7 7 0 1 0 -14 0M536.8 1279.51a7 7 0 1 0 14 0a7 7 0 1 0 -14 0M537.4 1279.52a7 7 0 1 0 14 0a7 7 0 1 0 -14 0M538 1279.53a7 7 0 1 0 14 0a7 7 0 1 0 -14 0M538.6 1279.54a7 7 0 1 0 14 0a7 7 0 1 0 -14 0M539.2 1279.55a7 7 0 1 0 14 0a7 7 0 1 0 -14 0M539.8 1279.55a7 7 0 1 0 14 0a7 7 0 1 0 -14 0M540.4 1279.56a7 7 0 1 0 14 0a7 7 0 1 0 -14 0M541 1279.57a7 7 0 1 0 14 0a7 7 0 1 0 -14 0M541.6 1279.58a7 7 0 1 0 14 0a7 7 0 1 0 -14 0M542.2 1279.59a7 7 0 1 0 14 0a7 7 0 1 0 -14 0M542.8 1279.6a7 7 0 1 0 14 0a7 7 0 1 0 -14 0M543.4 1279.61a7 7 0 1 0 14 0a7 7 0 1 0 -14 0M544 1279.61a7 7 0 1 0 14 0a7 7 0 1 0 -14 0M544.6 1279.62a7 7 0 1 0 14 0a7 7 0 1 0 -14 0M545.2 1279.63a7 7 0 1 0 14 0a7 7 0 1 0 -14 0M545.8 1279.64a7 7 0 1 0 14 0a7 7 0 1 0 -14 0M546.4 1279.65a7 7 0 1 0 14 0a7 7 0 1 0 -14 0M547 1279.66a7 7 0 1 0 14 0a7 7 0 1 0 -14 0M547.6 1279.67a7 7 0 1 0 14 0a7 7 0 1 0 -14 0M548.2 1279.67a7 7 0 1 0 14 0a7 7 0 1 0 -14 0M548.8 1279.68a7 7 0 1 0 14 0a7 7 0 1 0 -14 0M549.4 1279.69a7 7 0 1 0 14 0a7 7 0 1 0 -14 0M550 1279.7a7 7 0 1 0 14 0a7 7 0 1 0 -14 0M550.6 1279.71a7 7 0 1 0 14 0a7 7 0 1 0 -14 0M551.2 1279.72a7 7 0 1 0 14 0a7 7 0 1 0 -14 0M551.8 1279.73a7 7 0 1 0 14 0a7 7 0 1 0 -14 0M552.4 1279.73a7 7 0 1 0 14 0a7 7 0 1 0 -14 0M553 1279.74a7 7 0 1 0 14 0a7 7 0 1 0 -14 0M553.6 1279.75a7 7 0 1 0 14 0a7 7 0 1 0 -14 0M554.2 1279.76a7 7 0 1 0 14 0a7 7 0 1 0 -14 0M554.8 1279.77a7 7 0 1 0 14 0a7 7 0 1 0 -14 0M555.4 1279.78a7 7 0 1 0 14 0a7 7 0 1 0 -14 0M556 1279.79a7 7 0 1 0 14 0a7 7 0 1 0 -14 0M556.6 1279.79a7 7 0 1 0 14 0a7 7 0 1 0 -14 0M557.2 1279.8a7 7 0 1 0 14 0a7 7 0 1 0 -14 0M557.8 1279.81a7 7 0 1 0 14 0a7 7 0 1 0 -14 0M558.4 1279.82a7 7 0 1 0 14 0a7 7 0 1 0 -14 0M559 1279.83a7 7 0 1 0 14 0a7 7 0 1 0 -14 0M559.6 1279.84a7 7 0 1 0 14 0a7 7 0 1 0 -14 0M560.2 1279.85a7 7 0 1 0 14 0a7 7 0 1 0 -14 0M560.8 1279.85a7 7 0 1 0 14 0a7 7 0 1 0 -14 0M561.4 1279.86a7 7 0 1 0 14 0a7 7 0 1 0 -14 0M562 1279.87a7 7 0 1 0 14 0a7 7 0 1 0 -14 0M562.6 1279.88a7 7 0 1 0 14 0a7 7 0 1 0 -14 0M563.2 1279.89a7 7 0 1 0 14 0a7 7 0 1 0 -14 0M563.8 1279.9a7 7 0 1 0 14 0a7 7 0 1 0 -14 0M564.4 1279.91a7 7 0 1 0 14 0a7 7 0 1 0 -14 0M565 1279.91a7 7 0 1 0 14 0a7 7 0 1 0 -14 0M565.6 1279.92a7 7 0 1 0 14 0a7 7 0 1 0 -14 0M566.2 1279.93a7 7 0 1 0 14 0a7 7 0 1 0 -14 0M566.8 1279.94a7 7 0 1 0 14 0a7 7 0 1 0 -14 0M567.4 1279.95a7 7 0 1 0 14 0a7 7 0 1 0 -14 0M568 1279.96a7 7 0 1 0 14 0a7 7 0 1 0 -14 0M568.6 1279.97a7 7 0 1 0 14 0a7 7 0 1 0 -14 0M569.2 1279.97a7 7 0 1 0 14 0a7 7 0 1 0 -14 0M569.8 1279.98a7 7 0 1 0 14 0a7 7 0 1 0 -14 0M570.4 1279.99a7 7 0 1 0 14 0a7 7 0 1 0 -14 0M571 1280a7 7 0 1 0 14 0a7 7 0 1 0 -14 0" fill="none" stroke="#0000FF" stroke-width="1.15"/>
<path d="M85 1279.4a7 7 0 1 0 14 0a7 7 0 1 0 -14 0M85.6 1279.4a7 7 0 1 0 14 0a7 7 0 1 0 -14 0M86.2 1279.4a7 7 0 1 0 14 0a7 7 0 1 0 -14 0M86.8 1279.4a7 7 0 1 0 14 0a7 7 0 1 0 -14 0M87.4 1279.4a7 7 0 1 0 14 0a7 7 0 1 0 -14 0M88 1279.4a7 7 0 1 0 14 0a7 7 0 1 0 -14 0M88.6 1279.4a7 7 0 1 0 14 0a7 7 0 1 0 -14 0M89.2 1279.4a7 7 0 1 0 14 0a7 7 0 1 0 -14 0M89.8 1279.4a7 7 0 1 0 14 0a7 7 0 1 0 -14 0M90.4 1279.4a7 7 0 1 0 14 0a7 7 0 1 0 -14 0M91 1279.4a7 7 0 1 0 14 0a7 7 0 1 0 -14 0M91.6 1279.4a7 7 0 1 0 14 0a7 7 0 1 0 -14 0M92.2 1279.4a7 7 0 1 0 14 0a7 7 0 1 0 -14 0M92.8 1279.4a7 7 0 1 0 14 0a7 7 0 1 0 -14 0M93.4 1279.4a7 7 0 1 0 14 0a7 7 0 1 0 -14 0M94 1279.4a7 7 0 1 0 14 0a7 7 0 1 0 -14 0M94.6 1279.4a7 7 0 1 0 14 0a7 7 0 1 0 -14 0M95.2 1279.4a7 7 0 1 0 14 0a7 7 0 1 0 -14 0M95.8 1279.4a7 7 0 1 0 14 0a7 7 0 1 0 -14 0M96.4 1279.4a7 7 0 1 0 14 0a7 7 0 1 0 -14 0M97 1279.4a7 7 0 1 0 14 0a7 7 0 1 0 -14 0M97.6 1279.4a7 7 0 1 0 14 0a7 7 0 1 0 -14 0M98.2 1279.4a7 7 0 1 0 14 0a7 7 0 1 0 -14 0M98.8 1279.4a7 7 0 1 0 14 0a7 7 0 1 0 -14 0M99.4 1279.4a7 7 0 1 0 14 0a7 7 0 1 0 -14 0M100 1279.4a7 7 0 1 0 14 0a7 7 0 1 0 -14 0M100.6 1279.4a7 7 0 1 0 14 0a7 7 0 1 0 -14 0M101.2 1279.4a7 7 0 1 0 14 0a7 7 0 1 0 -14 0M101.8 1279.4a7 7 0 1 0 14 0a7 7 0 1 0 -14 0M102.4 1279.4a7 7 0 1 0 14 0a7 7 0 1 0 -14 0M103 1279.4a7 7 0 1 0 14 0a7 7 0 1 0 -14 0M103.6 1279.4a7 7 0 1 0 14 0a7 7 0 1 0 -14 0M104.2 1279.4a7 7 0 1 0 14 0a7 7 0 1 0 -14 0M104.8 1279.4a7 7 0 1 0 14 0a7 7 0 1 0 -14 0M105.4 1279.4a7 7 0 1 0 14 0a7 7 0 1 0 -14 0M106 1279.4a7 7 0 1 0 14 0a7 7 0 1 0 -14 0M106.6 1279.4a7 7 0 1 0 14 0a7 7 0 1 0 -14 0M107.2 1279.4a7 7 0 1 0 14 0a7 7 0 1 0 -14 0M107.8 1279.4a7 7 0 1 0 14 0a7 7 0 1 0 -14 0M108.4 1279.4a7 7 0 1 0 14 0a7 7 0 1 0 -14 0M109 1279.4a7 7 0 1 0 14 0a7 7 0 1 0 -14 0M109.6 1279.4a7 7 0 1 0 14 0a7 7 0 1 0 -14 0M110.2 1279.4a7 7 0 1 0 14 0a7 7 0 1 0 -14 0M110.8 1279.4a7 7 0 1 0 14 0a7 7 0 1 0 -14 0M111.4 1279.4a7 7 0 1 0 14 0a7 7 0 1 0 -14 0M112 1279.4a7 7 0 1 0 14 0a7 7 0 1 0 -14 0M112.6 1279.4a7 7 0 1 0 14 0a7 7 0 1 0 -14 0M113.2 1279.4a7 7 0 1 0 14 0a7 7 0 1 0 -14 0M113.8 1279.4a7 7 0 1 0 14 0a7 7 0 1 0 -14 0M114.4 1279.4a7 7 0 1 0 14 0a7 7 0 1 0 -14 0M115 1279.4a7 7 0 1 0 14 0a7 7 0 1 0 -14 0M115.6 1271.3a7 7 0 1 0 14 0a7 7 0 1 0 -14 0M116.2 1261.5a7 7 0 1 0 14 0a7 7 0 1 0 -14 0M116.8 1248.4a7 7 0 1 0 14 0a7 7 0 1 0 -14 0M117.4 1233.8a7 7 0 1 0 14 0a7 7 0 1 0 -14 0M118 1218.3a7 7 0 1 0 14 0a7 7 0 1 0 -14 0M118.6 1202a7 7 0 1 0 14 0a7 7 0 1 0 -14 0M119.2 1186.5a7 7 0 1 0 14 0a7 7 0 1 0 -14 0M119.8 1170.9a7 7 0 1 0 14 0a7 7 0 1 0 -14 0M120.4 1155.6a7 7 0 1 0 14 0a7 7 0 1 0 -14 0M121 1140.2a7 7 0 1 0 14 0a7 7 0 1 0 -14 0M121.6 1124.9a7 7 0 1 0 14 0a7 7 0 1 0 -14 0M122.2 1109.6a7 7 0 1 0 14 0a7 7 0 1 0 -14 0M122.8 1096.5a7 7 0 1 0 14 0a7 7 0 1 0 -14 0M123.4 1083.5a7 7 0 1 0 14 0a7 7 0 1 0 -14 0M124 1072a7 7 0 1 0 14 0a7 7 0 1 0 -14 0M124.6 1060.5a7 7 0 1 0 14 0a7 7 0 1 0 -14 0M125.2 1049a7 7 0 1 0 14 0a7 7 0 1 0 -14 0M125.8 1037.5a7 7 0 1 0 14 0a7 7 0 1 0 -14 0M126.4 1028.3a7 7 0 1 0 14 0a7 7 0 1 0 -14 0M127 1019a7 7 0 1 0 14 0a7 7 0 1 0 -14 0M127.6 1010.6a7 7 0 1 0 14 0a7 7 0 1 0 -14 0M128.2 1002.2a7 7 0 1 0 14 0a7 7 0 1 0 -14 0M128.8 995.3a7 7 0 1 0 14 0a7 7 0 1 0 -14 0M129.4 990.76a7 7 0 1 0 14 0a7 7 0 1 0 -14 0M130 988.41a7 7 0 1 0 14 0a7 7 0 1 0 -14 0M130.6 986.5a7 7 0 1 0 14 0a7 7 0 1 0 -14 0M131.2 986.03a7 7 0 1 0 14 0a7 7 0 1 0 -14 0M131.8 985.55a7 7 0 1 0 14 0a7 7 0 1 0 -14 0M132.4 985.08a7 7 0 1 0 14 0a7 7 0 1 0 -14 0M133 985.1a7 7 0 1 0 14 0a7 7 0 1 0 -14 0M133.6 985.22a7 7 0 1 0 14 0a7 7 0 1 0 -14 0M134.2 985.34a7 7 0 1 0 14 0a7 7 0 1 0 -14 0M134.8 985.46a7 7 0 1 0 14 0a7 7 0 1 0 -14 0M135.4 986a7 7 0 1 0 14 0a7 7 0 1 0 -14 0M136 986.75a7 7 0 1 0 14 0a7 7 0 1 0 -14 0M136.6 987.5a7 7 0 1 0 14 0a7 7 0 1 0 -14 0M137.2 988.3a7 7 0 1 0 14 0a7 7 0 1 0 -14 0M137.8 989.2a7 7 0 1 0 14 0a7 7 0 1 0 -14 0M138.4 990.1a7 7 0 1 0 14 0a7 7 0 1 0 -14 0M139 991a7 7 0 1 0 14 0a7 7 0 1 0 -14 0M139.6 991.45a7 7 0 1 0 14 0a7 7 0 1 0 -14 0M140.2 991.9a7 7 0 1 0 14 0a7 7 0 1 0 -14 0M140.8 992.35a7 7 0 1 0 14 0a7 7 0 1 0 -14 0M141.4 992.3a7 7 0 1 0 14 0a7 7 0 1 0 -14 0M142 992a7 7 0 1 0 14 0a7 7 0 1 0 -14 0M142.6 991.7a7 7 0 1 0 14 0a7 7 0 1 0 -14 0M143.2 991.25a7 7 0 1 0 14 0a7 7 0 1 0 -14 0M143.8 990.5a7 7 0 1 0 14 0a7 7 0 1 0 -14 0M144.4 989.75a7 7 0 1 0 14 0a7 7 0 1 0 -14 0M145 989a7 7 0 1 0 14 0a7 7 0 1 0 -14 0M145.6 988.1a7 7 0 1 0 14 0a7 7 0 1 0 -14 0M146.2 987.2a7 7 0 1 0 14 0a7 7 0 1 0 -14 0M146.8 986.3a7 7 0 1 0 14 0a7 7 0 1 0 -14 0M147.4 985.6a7 7 0 1 0 14 0a7 7 0 1 0 -14 0M148 985a7 7 0 1 0 14 0a7 7 0 1 0 -14 0M148.6 984.4a7 7 0 1 0 14 0a7 7 0 1 0 -14 0M149.2 983.8a7 7 0 1 0 14 0a7 7 0 1 0 -14 0M149.8 983.36a7 7 0 1 0 14 0a7 7 0 1 0 -14 0M150.4 983.07a7 7 0 1 0 14 0a7 7 0 1 0 -14 0M151 982.78a7 7 0 1 0 14 0a7 7 0 1 0 -14 0M151.6 982.49a7 7 0 1 0 14 0a7 7 0 1 0 -14 0M152.2 982.32a7 7 0 1 0 14 0a7 7 0 1 0 -14 0M152.8 982.36a7 7 0 1 0 14 0a7 7 0 1 0 -14 0M153.4 982.41a7 7 0 1 0 14 0a7 7 0 1 0 -14 0M154 982.46a7 7 0 1 0 14 0a7 7 0 1 0 -14 0M154.6 982.56a7 7 0 1 0 14 0a7 7 0 1 0 -14 0M155.2 982.92a7 7 0 1 0 14 0a7 7 0 1 0 -14 0M155.8 983.28a7 7 0 1 0 14 0a7 7 0 1 0 -14 0M156.4 983.64a7 7 0 1 0 14 0a7 7 0 1 0 -14 0M157 984a7 7 0 1 0 14 0a7 7 0 1 0 -14 0M157.6 984.72a7 7 0 1 0 14 0a7 7 0 1 0 -14 0M158.2 985.44a7 7 0 1 0 14 0a7 7 0 1 0 -14 0M158.8 986.16a7 7 0 1 0 14 0a7 7 0 1 0 -14 0M159.4 986.88a7 7 0 1 0 14 0a7 7 0 1 0 -14 0M160 987.9a7 7 0 1 0 14 0a7 7 0 1 0 -14 0M160.6 988.98a7 7 0 1 0 14 0a7 7 0 1 0 -14 0M161.2 990.06a7 7 0 1 0 14 0a7 7 0 1 0 -14 0M161.8 991.14a7 7 0 1 0 14 0a7 7 0 1 0 -14 0M162.4 992.54a7 7 0 1 0 14 0a7 7 0 1 0 -14 0M163 994.1a7 7 0 1 0 14 0a7 7 0 1 0 -14 0M163.6 995.66a7 7 0 1 0 14 0a7 7 0 1 0 -14 0M164.2 997.22a7 7 0 1 0 14 0a7 7 0 1 0 -14 0M164.8 998.96a7 7 0 1 0 14 0a7 7 0 1 0 -14 0M165.4 1000.89a7 7 0 1 0 14 0a7 7 0 1 0 -14 0M166 1002.82a7 7 0 1 0 14 0a7 7 0 1 0 -14 0M166.6 1004.75a7 7 0 1 0 14 0a7 7 0 1 0 -14 0M167.2 1006.68a7 7 0 1 0 14 0a7 7 0 1 0 -14 0M167.8 1008.82a7 7 0 1 0 14 0a7 7 0 1 0 -14 0M168.4 1011a7 7 0 1 0 14 0a7 7 0 1 0 -14 0M169 1013.18a7 7 0 1 0 14 0a7 7 0 1 0 -14 0M169.6 1015.36a7 7 0 1 0 14 0a7 7 0 1 0 -14 0M170.2 1017.54a7 7 0 1 0 14 0a7 7 0 1 0 -14 0M170.8 1019.72a7 7 0 1 0 14 0a7 7 0 1 0 -14 0M171.4 1021.9a7 7 0 1 0 14 0a7 7 0 1 0 -14 0M172 1024.59a7 7 0 1 0 14 0a7 7 0 1 0 -14 0M172.6 1027.28a7 7 0 1 0 14 0a7 7 0 1 0 -14 0M173.2 1029.97a7 7 0 1 0 14 0a7 7 0 1 0 -14 0M173.8 1032.66a7 7 0 1 0 14 0a7 7 0 1 0 -14 0M174.4 1035.35a7 7 0 1 0 14 0a7 7 0 1 0 -14 0M175 1038.23a7 7 0 1 0 14 0a7 7 0 1 0 -14 0M175.6 1041.29a7 7 0 1 0 14 0a7 7 0 1 0 -14 0M176.2 1044.36a7 7 0 1 0 14 0a7 7 0 1 0 -14 0M176.8 1047.42a7 7 0 1 0 14 0a7 7 0 1 0 -14 0M177.4 1050.48a7 7 0 1 0 14 0a7 7 0 1 0 -14 0M178 1053.69a7 7 0 1 0 14 0a7 7 0 1 0 -14 0M178.6 1056.98a7 7 0 1 0 14 0a7 7 0 1 0 -14 0M179.2 1060.26a7 7 0 1 0 14 0a7 7 0 1 0 -14 0M179.8 1063.56a7 7 0 1 0 14 0a7 7 0 1 0 -14 0M180.4 1066.93a7 7 0 1 0 14 0a7 7 0 1 0 -14 0M181 1070.29a7 7 0 1 0 14 0a7 7 0 1 0 -14 0M181.6 1073.66a7 7 0 1 0 14 0a7 7 0 1 0 -14 0M182.2 1077.02a7 7 0 1 0 14 0a7 7 0 1 0 -14 0M182.8 1080.39a7 7 0 1 0 14 0a7 7 0 1 0 -14 0M183.4 1083.76a7 7 0 1 0 14 0a7 7 0 1 0 -14 0M184 1087.36a7 7 0 1 0 14 0a7 7 0 1 0 -14 0M184.6 1091.43a7 7 0 1 0 14 0a7 7 0 1 0 -14 0M185.2 1095.5a7 7 0 1 0 14 0a7 7 0 1 0 -14 0M185.8 1099.58a7 7 0 1 0 14 0a7 7 0 1 0 -14 0M186.4 1103.65a7 7 0 1 0 14 0a7 7 0 1 0 -14 0M187 1107.72a7 7 0 1 0 14 0a7 7 0 1 0 -14 0M187.6 1111.8a7 7 0 1 0 14 0a7 7 0 1 0 -14 0M188.2 1115.87a7 7 0 1 0 14 0a7 7 0 1 0 -14 0M188.8 1119.94a7 7 0 1 0 14 0a7 7 0 1 0 -14 0M189.4 1123a7 7 0 1 0 14 0a7 7 0 1 0 -14 0M190 1125.54a7 7 0 1 0 14 0a7 7 0 1 0 -14 0M190.6 1128.09a7 7 0 1 0 14 0a7 7 0 1 0 -14 0M191.2 1130.63a7 7 0 1 0 14 0a7 7 0 1 0 -14 0M191.8 1133.18a7 7 0 1 0 14 0a7 7 0 1 0 -14 0M192.4 1135.72a7 7 0 1 0 14 0a7 7 0 1 0 -14 0M193 1138.27a7 7 0 1 0 14 0a7 7 0 1 0 -14 0M193.6 1140.81a7 7 0 1 0 14 0a7 7 0 1 0 -14 0M194.2 1143.36a7 7 0 1 0 14 0a7 7 0 1 0 -14 0M194.8 1145.9a7 7 0 1 0 14 0a7 7 0 1 0 -14 0M195.4 1148.52a7 7 0 1 0 14 0a7 7 0 1 0 -14 0M196 1151.28a7 7 0 1 0 14 0a7 7 0 1 0 -14 0M196.6 1154.04a7 7 0 1 0 14 0a7 7 0 1 0 -14 0M197.2 1156.79a7 7 0 1 0 14 0a7 7 0 1 0 -14 0M197.8 1159.55a7 7 0 1 0 14 0a7 7 0 1 0 -14 0M198.4 1162.31a7 7 0 1 0 14 0a7 7 0 1 0 -14 0M199 1165.07a7 7 0 1 0 14 0a7 7 0 1 0 -14 0M199.6 1167.82a7 7 0 1 0 14 0a7 7 0 1 0 -14 0M200.2 1170.58a7 7 0 1 0 14 0a7 7 0 1 0 -14 0M200.8 1173.34a7 7 0 1 0 14 0a7 7 0 1 0 -14 0M201.4 1175.13a7 7 0 1 0 14 0a7 7 0 1 0 -14 0M202 1176.72a7 7 0 1 0 14 0a7 7 0 1 0 -14 0M202.6 1178.31a7 7 0 1 0 14 0a7 7 0 1 0 -14 0M203.2 1179.91a7 7 0 1 0 14 0a7 7 0 1 0 -14 0M203.8 1181.5a7 7 0 1 0 14 0a7 7 0 1 0 -14 0M204.4 1183.1a7 7 0 1 0 14 0a7 7 0 1 0 -14 0M205 1184.69a7 7 0 1 0 14 0a7 7 0 1 0 -14 0M205.6 1186.28a7 7 0 1 0 14 0a7 7 0 1 0 -14 0M206.2 1187.88a7 7 0 1 0 14 0a7 7 0 1 0 -14 0M206.8 1189.47a7 7 0 1 0 14 0a7 7 0 1 0 -14 0M207.4 1190.61a7 7 0 1 0 14 0a7 7 0 1 0 -14 0M208 1191.52a7 7 0 1 0 14 0a7 7 0 1 0 -14 0M208.6 1192.44a7 7 0 1 0 14 0a7 7 0 1 0 -14 0M209.2 1193.35a7 7 0 1 0 14 0a7 7 0 1 0 -14 0M209.8 1194.26a7 7 0 1 0 14 0a7 7 0 1 0 -14 0M210.4 1195.18a7 7 0 1 0 14 0a7 7 0 1 0 -14 0M211 1196.09a7 7 0 1 0 14 0a7 7 0 1 0 -14 0M211.6 1197a7 7 0 1 0 14 0a7 7 0 1 0 -14 0M212.2 1197.92a7 7 0 1 0 14 0a7 7 0 1 0 -14 0M212.8 1198.83a7 7 0 1 0 14 0a7 7 0 1 0 -14 0M213.4 1199.74a7 7 0 1 0 14 0a7 7 0 1 0 -14 0M214 1200.66a7 7 0 1 0 14 0a7 7 0 1 0 -14 0M214.6 1201.57a7 7 0 1 0 14 0a7 7 0 1 0 -14 0M215.2 1202.48a7 7 0 1 0 14 0a7 7 0 1 0 -14 0M215.8 1203.4a7 7 0 1 0 14 0a7 7 0 1 0 -14 0M216.4 1204.35a7 7 0 1 0 14 0a7 7 0 1 0 -14 0M217 1205.33a7 7 0 1 0 14 0a7 7 0 1 0 -14 0M217.6 1206.31a7 7 0 1 0 14 0a7 7 0 1 0 -14 0M218.2 1207.29a7 7 0 1 0 14 0a7 7 0 1 0 -14 0M218.8 1208.26a7 7 0 1 0 14 0a7 7 0 1 0 -14 0M219.4 1209.24a7 7 0 1 0 14 0a7 7 0 1 0 -14 0M220 1210.22a7 7 0 1 0 14 0a7 7 0 1 0 -14 0M220.6 1211.2a7 7 0 1 0 14 0a7 7 0 1 0 -14 0M221.2 1212.18a7 7 0 1 0 14 0a7 7 0 1 0 -14 0M221.8 1213.15a7 7 0 1 0 14 0a7 7 0 1 0 -14 0M222.4 1214.13a7 7 0 1 0 14 0a7 7 0 1 0 -14 0M223 1215.11a7 7 0 1 0 14 0a7 7 0 1 0 -14 0M223.6 1216.09a7 7 0 1 0 14 0a7 7 0 1 0 -14 0M224.2 1217.07a7 7 0 1 0 14 0a7 7 0 1 0 -14 0M224.8 1218.04a7 7 0 1 0 14 0a7 7 0 1 0 -14 0M225.4 1219.02a7 7 0 1 0 14 0a7 7 0 1 0 -14 0M226 1220a7 7 0 1 0 14 0a7 7 0 1 0 -14 0M226.6 1220.62a7 7 0 1 0 14 0a7 7 0 1 0 -14 0M227.2 1221.23a7 7 0 1 0 14 0a7 7 0 1 0 -14 0M227.8 1221.85a7 7 0 1 0 14 0a7 7 0 1 0 -14 0M228.4 1222.47a7 7 0 1 0 14 0a7 7 0 1 0 -14 0M229 1223.08a7 7 0 1 0 14 0a7 7 0 1 0 -14 0M229.6 1223.7a7 7 0 1 0 14 0a7 7 0 1 0 -14 0M230.2 1224.32a7 7 0 1 0 14 0a7 7 0 1 0 -14 0M230.8 1224.93a7 7 0 1 0 14 0a7 7 0 1 0 -14 0M231.4 1225.55a7 7 0 1 0 14 0a7 7 0 1 0 -14 0M232 1226.17a7 7 0 1 0 14 0a7 7 0 1 0 -14 0M232.6 1226.79a7 7 0 1 0 14 0a7 7 0 1 0 -14 0M233.2 1227.4a7 7 0 1 0 14 0a7 7 0 1 0 -14 0M233.8 1228.02a7 7 0 1 0 14 0a7 7 0 1 0 -14 0M234.4 1228.64a7 7 0 1 0 14 0a7 7 0 1 0 -14 0M235 1229.25a7 7 0 1 0 14 0a7 7 0 1 0 -14 0M235.6 1229.87a7 7 0 1 0 14 0a7 7 0 1 0 -14 0M236.2 1230.49a7 7 0 1 0 14 0a7 7 0 1 0 -14 0M236.8 1231.07a7 7 0 1 0 14 0a7 7 0 1 0 -14 0M237.4 1231.46a7 7 0 1 0 14 0a7 7 0 1 0 -14 0M238 1231.86a7 7 0 1 0 14 0a7 7 0 1 0 -14 0M238.6 1232.26a7 7 0 1 0 14 0a7 7 0 1 0 -14 0M239.2 1232.66a7 7 0 1 0 14 0a7 7 0 1 0 -14 0M239.8 1233.06a7 7 0 1 0 14 0a7 7 0 1 0 -14 0M240.4 1233.46a7 7 0 1 0 14 0a7 7 0 1 0 -14 0M241 1233.85a7 7 0 1 0 14 0a7 7 0 1 0 -14 0M241.6 1234.25a7 7 0 1 0 14 0a7 7 0 1 0 -14 0M242.2 1234.65a7 7 0 1 0 14 0a7 7 0 1 0 -14 0M242.8 1235.05a7 7 0 1 0 14 0a7 7 0 1 0 -14 0M243.4 1235.45a7 7 0 1 0 14 0a7 7 0 1 0 -14 0M244 1235.85a7 7 0 1 0 14 0a7 7 0 1 0 -14 0M244.6 1236.24a7 7 0 1 0 14 0a7 7 0 1 0 -14 0M245.2 1236.64a7 7 0 1 0 14 0a7 7 0 1 0 -14 0M245.8 1237.04a7 7 0 1 0 14 0a7 7 0 1 0 -14 0M246.4 1237.44a7 7 0 1 0 14 0a7 7 0 1 0 -14 0M247 1237.84a7 7 0 1 0 14 0a7 7 0 1 0 -14 0M247.6 1238.23a7 7 0 1 0 14 0a7 7 0 1 0 -14 0M248.2 1238.58a7 7 0 1 0 14 0a7 7 0 1 0 -14 0M248.8 1238.83a7 7 0 1 0 14 0a7 7 0 1 0 -14 0M249.4 1239.08a7 7 0 1 0 14 0a7 7 0 1 0 -14 0M250 1239.33a7 7 0 1 0 14 0a7 7 0 1 0 -14 0M250.6 1239.58a7 7 0 1 0 14 0a7 7 0 1 0 -14 0M251.2 1239.83a7 7 0 1 0 14 0a7 7 0 1 0 -14 0M251.8 1240.08a7 7 0 1 0 14 0a7 7 0 1 0 -14 0M252.4 1240.33a7 7 0 1 0 14 0a7 7 0 1 0 -14 0M253 1240.58a7 7 0 1 0 14 0a7 7 0 1 0 -14 0M253.6 1240.83a7 7 0 1 0 14 0a7 7 0 1 0 -14 0M254.2 1241.08a7 7 0 1 0 14 0a7 7 0 1 0 -14 0M254.8 1241.33a7 7 0 1 0 14 0a7 7 0 1 0 -14 0M255.4 1241.58a7 7 0 1 0 14 0a7 7 0 1 0 -14 0M256 1241.83a7 7 0 1 0 14 0a7 7 0 1 0 -14 0M256.6 1242.08a7 7 0 1 0 14 0a7 7 0 1 0 -14 0M257.2 1242.33a7 7 0 1 0 14 0a7 7 0 1 0 -14 0M257.8 1242.58a7 7 0 1 0 14 0a7 7 0 1 0 -14 0M258.4 1242.83a7 7 0 1 0 14 0a7 7 0 1 0 -14 0M259 1243.08a7 7 0 1 0 14 0a7 7 0 1 0 -14 0M259.6 1243.33a7 7 0 1 0 14 0a7 7 0 1 0 -14 0M260.2 1243.55a7 7 0 1 0 14 0a7 7 0 1 0 -14 0M260.8 1243.71a7 7 0 1 0 14 0a7 7 0 1 0 -14 0M261.4 1243.87a7 7 0 1 0 14 0a7 7 0 1 0 -14 0M262 1244.03a7 7 0 1 0 14 0a7 7 0 1 0 -14 0M262.6 1244.19a7 7 0 1 0 14 0a7 7 0 1 0 -14 0M263.2 1244.35a7 7 0 1 0 14 0a7 7 0 1 0 -14 0M263.8 1244.51a7 7 0 1 0 14 0a7 7 0 1 0 -14 0M264.4 1244.67a7 7 0 1 0 14 0a7 7 0 1 0 -14 0M265 1244.83a7 7 0 1 0 14 0a7 7 0 1 0 -14 0M265.6 1244.99a7 7 0 1 0 14 0a7 7 0 1 0 -14 0M266.2 1245.15a7 7 0 1 0 14 0a7 7 0 1 0 -14 0M266.8 1245.31a7 7 0 1 0 14 0a7 7 0 1 0 -14 0M267.4 1245.47a7 7 0 1 0 14 0a7 7 0 1 0 -14 0M268 1245.63a7 7 0 1 0 14 0a7 7 0 1 0 -14 0M268.6 1245.79a7 7 0 1 0 14 0a7 7 0 1 0 -14 0M269.2 1245.95a7 7 0 1 0 14 0a7 7 0 1 0 -14 0M269.8 1246.11a7 7 0 1 0 14 0a7 7 0 1 0 -14 0M270.4 1246.27a7 7 0 1 0 14 0a7 7 0 1 0 -14 0M271 1246.43a7 7 0 1 0 14 0a7 7 0 1 0 -14 0M271.6 1246.59a7 7 0 1 0 14 0a7 7 0 1 0 -14 0M272.2 1246.75a7 7 0 1 0 14 0a7 7 0 1 0 -14 0M272.8 1246.91a7 7 0 1 0 14 0a7 7 0 1 0 -14 0M273.4 1247.07a7 7 0 1 0 14 0a7 7 0 1 0 -14 0M274 1247.23a7 7 0 1 0 14 0a7 7 0 1 0 -14 0M274.6 1247.39a7 7 0 1 0 14 0a7 7 0 1 0 -14 0M275.2 1247.55a7 7 0 1 0 14 0a7 7 0 1 0 -14 0M275.8 1247.71a7 7 0 1 0 14 0a7 7 0 1 0 -14 0M276.4 1247.87a7 7 0 1 0 14 0a7 7 0 1 0 -14 0M277 1248.03a7 7 0 1 0 14 0a7 7 0 1 0 -14 0M277.6 1248.19a7 7 0 1 0 14 0a7 7 0 1 0 -14 0M278.2 1248.34a7 7 0 1 0 14 0a7 7 0 1 0 -14 0M278.8 1248.45a7 7 0 1 0 14 0a7 7 0 1 0 -14 0M279.4 1248.56a7 7 0 1 0 14 0a7 7 0 1 0 -14 0M280 1248.68a7 7 0 1 0 14 0a7 7 0 1 0 -14 0M280.6 1248.79a7 7 0 1 0 14 0a7 7 0 1 0 -14 0M281.2 1248.9a7 7 0 1 0 14 0a7 7 0 1 0 -14 0M281.8 1249.02a7 7 0 1 0 14 0a7 7 0 1 0 -14 0M282.4 1249.13a7 7 0 1 0 14 0a7 7 0 1 0 -14 0M283 1249.24a7 7 0 1 0 14 0a7 7 0 1 0 -14 0M283.6 1249.36a7 7 0 1 0 14 0a7 7 0 1 0 -14 0M284.2 1249.47a7 7 0 1 0 14 0a7 7 0 1 0 -14 0M284.8 1249.58a7 7 0 1 0 14 0a7 7 0 1 0 -14 0M285.4 1249.69a7 7 0 1 0 14 0a7 7 0 1 0 -14 0M286 1249.81a7 7 0 1 0 14 0a7 7 0 1 0 -14 0M286.6 1249.92a7 7 0 1 0 14 0a7 7 0 1 0 -14 0M287.2 1250.03a7 7 0 1 0 14 0a7 7 0 1 0 -14 0M287.8 1250.15a7 7 0 1 0 14 0a7 7 0 1 0 -14 0M288.4 1250.26a7 7 0 1 0 14 0a7 7 0 1 0 -14 0M289 1250.37a7 7 0 1 0 14 0a7 7 0 1 0 -14 0M289.6 1250.49a7 7 0 1 0 14 0a7 7 0 1 0 -14 0M290.2 1250.6a7 7 0 1 0 14 0a7 7 0 1 0 -14 0M290.8 1250.71a7 7 0 1 0 14 0a7 7 0 1 0 -14 0M291.4 1250.83a7 7 0 1 0 14 0a7 7 0 1 0 -14 0M292 1250.94a7 7 0 1 0 14 0a7 7 0 1 0 -14 0M292.6 1251.05a7 7 0 1 0 14 0a7 7 0 1 0 -14 0M293.2 1251.16a7 7 0 1 0 14 0a7 7 0 1 0 -14 0M293.8 1251.28a7 7 0 1 0 14 0a7 7 0 1 0 -14 0M294.4 1251.39a7 7 0 1 0 14 0a7 7 0 1 0 -14 0M295 1251.5a7 7 0 1 0 14 0a7 7 0 1 0 -14 0M295.6 1251.62a7 7 0 1 0 14 0a7 7 0 1 0 -14 0M296.2 1251.73a7 7 0 1 0 14 0a7 7 0 1 0 -14 0M296.8 1251.84a7 7 0 1 0 14 0a7 7 0 1 0 -14 0M297.4 1251.94a7 7 0 1 0 14 0a7 7 0 1 0 -14 0M298 1252.01a7 7 0 1 0 14 0a7 7 0 1 0 -14 0M298.6 1252.08a7 7 0 1 0 14 0a7 7 0 1 0 -14 0M299.2 1252.15a7 7 0 1 0 14 0a7 7 0 1 0 -14 0M299.8 1252.22a7 7 0 1 0 14 0a7 7 0 1 0 -14 0M300.4 1252.29a7 7 0 1 0 14 0a7 7 0 1 0 -14 0M301 1252.36a7 7 0 1 0 14 0a7 7 0 1 0 -14 0M301.6 1252.43a7 7 0 1 0 14 0a7 7 0 1 0 -14 0M302.2 1252.5a7 7 0 1 0 14 0a7 7 0 1 0 -14 0M302.8 1252.57a7 7 0 1 0 14 0a7 7 0 1 0 -14 0M303.4 1252.64a7 7 0 1 0 14 0a7 7 0 1 0 -14 0M304 1252.71a7 7 0 1 0 14 0a7 7 0 1 0 -14 0M304.6 1252.78a7 7 0 1 0 14 0a7 7 0 1 0 -14 0M305.2 1252.85a7 7 0 1 0 14 0a7 7 0 1 0 -14 0M305.8 1252.92a7 7 0 1 0 14 0a7 7 0 1 0 -14 0M306.4 1252.99a7 7 0 1 0 14 0a7 7 0 1 0 -14 0M307 1253.06a7 7 0 1 0 14 0a7 7 0 1 0 -14 0M307.6 1253.13a7 7 0 1 0 14 0a7 7 0 1 0 -14 0M308.2 1253.2a7 7 0 1 0 14 0a7 7 0 1 0 -14 0M308.8 1253.27a7 7 0 1 0 14 0a7 7 0 1 0 -14 0M309.4 1253.34a7 7 0 1 0 14 0a7 7 0 1 0 -14 0M310 1253.41a7 7 0 1 0 14 0a7 7 0 1 0 -14 0M310.6 1253.48a7 7 0 1 0 14 0a7 7 0 1 0 -14 0M311.2 1253.55a7 7 0 1 0 14 0a7 7 0 1 0 -14 0M311.8 1253.62a7 7 0 1 0 14 0a7 7 0 1 0 -14 0M312.4 1253.69a7 7 0 1 0 14 0a7 7 0 1 0 -14 0M313 1253.77a7 7 0 1 0 14 0a7 7 0 1 0 -14 0M313.6 1253.84a7 7 0 1 0 14 0a7 7 0 1 0 -14 0M314.2 1253.91a7 7 0 1 0 14 0a7 7 0 1 0 -14 0M314.8 1253.98a7 7 0 1 0 14 0a7 7 0 1 0 -14 0M315.4 1254.05a7 7 0 1 0 14 0a7 7 0 1 0 -14 0M316 1254.13a7 7 0 1 0 14 0a7 7 0 1 0 -14 0M316.6 1254.21a7 7 0 1 0 14 0a7 7 0 1 0 -14 0M317.2 1254.29a7 7 0 1 0 14 0a7 7 0 1 0 -14 0M317.8 1254.37a7 7 0 1 0 14 0a7 7 0 1 0 -14 0M318.4 1254.45a7 7 0 1 0 14 0a7 7 0 1 0 -14 0M319 1254.52a7 7 0 1 0 14 0a7 7 0 1 0 -14 0M319.6 1254.6a7 7 0 1 0 14 0a7 7 0 1 0 -14 0M320.2 1254.68a7 7 0 1 0 14 0a7 7 0 1 0 -14 0M320.8 1254.76a7 7 0 1 0 14 0a7 7 0 1 0 -14 0M321.4 1254.84a7 7 0 1 0 14 0a7 7 0 1 0 -14 0M322 1254.92a7 7 0 1 0 14 0a7 7 0 1 0 -14 0M322.6 1254.99a7 7 0 1 0 14 0a7 7 0 1 0 -14 0M323.2 1255.07a7 7 0 1 0 14 0a7 7 0 1 0 -14 0M323.8 1255.15a7 7 0 1 0 14 0a7 7 0 1 0 -14 0M324.4 1255.23a7 7 0 1 0 14 0a7 7 0 1 0 -14 0M325 1255.31a7 7 0 1 0 14 0a7 7 0 1 0 -14 0M325.6 1255.39a7 7 0 1 0 14 0a7 7 0 1 0 -14 0M326.2 1255.47a7 7 0 1 0 14 0a7 7 0 1 0 -14 0M326.8 1255.54a7 7 0 1 0 14 0a7 7 0 1 0 -14 0M327.4 1255.62a7 7 0 1 0 14 0a7 7 0 1 0 -14 0M328 1255.7a7 7 0 1 0 14 0a7 7 0 1 0 -14 0M328.6 1255.78a7 7 0 1 0 14 0a7 7 0 1 0 -14 0M329.2 1255.86a7 7 0 1 0 14 0a7 7 0 1 0 -14 0M329.8 1255.94a7 7 0 1 0 14 0a7 7 0 1 0 -14 0M330.4 1256.02a7 7 0 1 0 14 0a7 7 0 1 0 -14 0M331 1256.09a7 7 0 1 0 14 0a7 7 0 1 0 -14 0M331.6 1256.17a7 7 0 1 0 14 0a7 7 0 1 0 -14 0M332.2 1256.25a7 7 0 1 0 14 0a7 7 0 1 0 -14 0M332.8 1256.33a7 7 0 1 0 14 0a7 7 0 1 0 -14 0M333.4 1256.41a7 7 0 1 0 14 0a7 7 0 1 0 -14 0M334 1256.49a7 7 0 1 0 14 0a7 7 0 1 0 -14 0M334.6 1256.58a7 7 0 1 0 14 0a7 7 0 1 0 -14 0M335.2 1256.68a7 7 0 1 0 14 0a7 7 0 1 0 -14 0M335.8 1256.78a7 7 0 1 0 14 0a7 7 0 1 0 -14 0M336.4 1256.88a7 7 0 1 0 14 0a7 7 0 1 0 -14 0M337 1256.98a7 7 0 1 0 14 0a7 7 0 1 0 -14 0M337.6 1257.07a7 7 0 1 0 14 0a7 7 0 1 0 -14 0M338.2 1257.17a7 7 0 1 0 14 0a7 7 0 1 0 -14 0M338.8 1257.27a7 7 0 1 0 14 0a7 7 0 1 0 -14 0M339.4 1257.37a7 7 0 1 0 14 0a7 7 0 1 0 -14 0M340 1257.47a7 7 0 1 0 14 0a7 7 0 1 0 -14 0M340.6 1257.57a7 7 0 1 0 14 0a7 7 0 1 0 -14 0M341.2 1257.66a7 7 0 1 0 14 0a7 7 0 1 0 -14 0M341.8 1257.76a7 7 0 1 0 14 0a7 7 0 1 0 -14 0M342.4 1257.86a7 7 0 1 0 14 0a7 7 0 1 0 -14 0M343 1257.96a7 7 0 1 0 14 0a7 7 0 1 0 -14 0M343.6 1258.06a7 7 0 1 0 14 0a7 7 0 1 0 -14 0M344.2 1258.16a7 7 0 1 0 14 0a7 7 0 1 0 -14 0M344.8 1258.26a7 7 0 1 0 14 0a7 7 0 1 0 -14 0M345.4 1258.35a7 7 0 1 0 14 0a7 7 0 1 0 -14 0M346 1258.45a7 7 0 1 0 14 0a7 7 0 1 0 -14 0M346.6 1258.55a7 7 0 1 0 14 0a7 7 0 1 0 -14 0M347.2 1258.65a7 7 0 1 0 14 0a7 7 0 1 0 -14 0M347.8 1258.75a7 7 0 1 0 14 0a7 7 0 1 0 -14 0M348.4 1258.85a7 7 0 1 0 14 0a7 7 0 1 0 -14 0M349 1258.94a7 7 0 1 0 14 0a7 7 0 1 0 -14 0M349.6 1259.04a7 7 0 1 0 14 0a7 7 0 1 0 -14 0M350.2 1259.14a7 7 0 1 0 14 0a7 7 0 1 0 -14 0M350.8 1259.24a7 7 0 1 0 14 0a7 7 0 1 0 -14 0M351.4 1259.34a7 7 0 1 0 14 0a7 7 0 1 0 -14 0M352 1259.44a7 7 0 1 0 14 0a7 7 0 1 0 -14 0M352.6 1259.53a7 7 0 1 0 14 0a7 7 0 1 0 -14 0M353.2 1259.64a7 7 0 1 0 14 0a7 7 0 1 0 -14 0M353.8 1259.76a7 7 0 1 0 14 0a7 7 0 1 0 -14 0M354.4 1259.89a7 7 0 1 0 14 0a7 7 0 1 0 -14 0M355 1260.01a7 7 0 1 0 14 0a7 7 0 1 0 -14 0M355.6 1260.13a7 7 0 1 0 14 0a7 7 0 1 0 -14 0M356.2 1260.25a7 7 0 1 0 14 0a7 7 0 1 0 -14 0M356.8 1260.38a7 7 0 1 0 14 0a7 7 0 1 0 -14 0M357.4 1260.5a7 7 0 1 0 14 0a7 7 0 1 0 -14 0M358 1260.62a7 7 0 1 0 14 0a7 7 0 1 0 -14 0M358.6 1260.74a7 7 0 1 0 14 0a7 7 0 1 0 -14 0M359.2 1260.87a7 7 0 1 0 14 0a7 7 0 1 0 -14 0M359.8 1260.99a7 7 0 1 0 14 0a7 7 0 1 0 -14 0M360.4 1261.11a7 7 0 1 0 14 0a7 7 0 1 0 -14 0M361 1261.24a7 7 0 1 0 14 0a7 7 0 1 0 -14 0M361.6 1261.36a7 7 0 1 0 14 0a7 7 0 1 0 -14 0M362.2 1261.48a7 7 0 1 0 14 0a7 7 0 1 0 -14 0M362.8 1261.6a7 7 0 1 0 14 0a7 7 0 1 0 -14 0M363.4 1261.73a7 7 0 1 0 14 0a7 7 0 1 0 -14 0M364 1261.85a7 7 0 1 0 14 0a7 7 0 1 0 -14 0M364.6 1261.97a7 7 0 1 0 14 0a7 7 0 1 0 -14 0M365.2 1262.09a7 7 0 1 0 14 0a7 7 0 1 0 -14 0M365.8 1262.22a7 7 0 1 0 14 0a7 7 0 1 0 -14 0M366.4 1262.34a7 7 0 1 0 14 0a7 7 0 1 0 -14 0M367 1262.46a7 7 0 1 0 14 0a7 7 0 1 0 -14 0M367.6 1262.58a7 7 0 1 0 14 0a7 7 0 1 0 -14 0M368.2 1262.71a7 7 0 1 0 14 0a7 7 0 1 0 -14 0M368.8 1262.83a7 7 0 1 0 14 0a7 7 0 1 0 -14 0M369.4 1262.95a7 7 0 1 0 14 0a7 7 0 1 0 -14 0M370 1263.08a7 7 0 1 0 14 0a7 7 0 1 0 -14 0M370.6 1263.2a7 7 0 1 0 14 0a7 7 0 1 0 -14 0M371.2 1263.32a7 7 0 1 0 14 0a7 7 0 1 0 -14 0M371.8 1263.47a7 7 0 1 0 14 0a7 7 0 1 0 -14 0M372.4 1263.62a7 7 0 1 0 14 0a7 7 0 1 0 -14 0M373 1263.77a7 7 0 1 0 14 0a7 7 0 1 0 -14 0M373.6 1263.91a7 7 0 1 0 14 0a7 7 0 1 0 -14 0M374.2 1264.06a7 7 0 1 0 14 0a7 7 0 1 0 -14 0M374.8 1264.21a7 7 0 1 0 14 0a7 7 0 1 0 -14 0M375.4 1264.36a7 7 0 1 0 14 0a7 7 0 1 0 -14 0M376 1264.5a7 7 0 1 0 14 0a7 7 0 1 0 -14 0M376.6 1264.65a7 7 0 1 0 14 0a7 7 0 1 0 -14 0M377.2 1264.8a7 7 0 1 0 14 0a7 7 0 1 0 -14 0M377.8 1264.95a7 7 0 1 0 14 0a7 7 0 1 0 -14 0M378.4 1265.09a7 7 0 1 0 14 0a7 7 0 1 0 -14 0M379 1265.24a7 7 0 1 0 14 0a7 7 0 1 0 -14 0M379.6 1265.39a7 7 0 1 0 14 0a7 7 0 1 0 -14 0M380.2 1265.54a7 7 0 1 0 14 0a7 7 0 1 0 -14 0M380.8 1265.68a7 7 0 1 0 14 0a7 7 0 1 0 -14 0M381.4 1265.83a7 7 0 1 0 14 0a7 7 0 1 0 -14 0M382 1265.98a7 7 0 1 0 14 0a7 7 0 1 0 -14 0M382.6 1266.13a7 7 0 1 0 14 0a7 7 0 1 0 -14 0M383.2 1266.27a7 7 0 1 0 14 0a7 7 0 1 0 -14 0M383.8 1266.42a7 7 0 1 0 14 0a7 7 0 1 0 -14 0M384.4 1266.57a7 7 0 1 0 14 0a7 7 0 1 0 -14 0M385 1266.72a7 7 0 1 0 14 0a7 7 0 1 0 -14 0M385.6 1266.86a7 7 0 1 0 14 0a7 7 0 1 0 -14 0M386.2 1267.01a7 7 0 1 0 14 0a7 7 0 1 0 -14 0M386.8 1267.16a7 7 0 1 0 14 0a7 7 0 1 0 -14 0M387.4 1267.31a7 7 0 1 0 14 0a7 7 0 1 0 -14 0M388 1267.45a7 7 0 1 0 14 0a7 7 0 1 0 -14 0M388.6 1267.6a7 7 0 1 0 14 0a7 7 0 1 0 -14 0M389.2 1267.74a7 7 0 1 0 14 0a7 7 0 1 0 -14 0M389.8 1267.88a7 7 0 1 0 14 0a7 7 0 1 0 -14 0M390.4 1268.01a7 7 0 1 0 14 0a7 7 0 1 0 -14 0M391 1268.14a7 7 0 1 0 14 0a7 7 0 1 0 -14 0M391.6 1268.27a7 7 0 1 0 14 0a7 7 0 1 0 -14 0M392.2 1268.4a7 7 0 1 0 14 0a7 7 0 1 0 -14 0M392.8 1268.53a7 7 0 1 0 14 0a7 7 0 1 0 -14 0M393.4 1268.66a7 7 0 1 0 14 0a7 7 0 1 0 -14 0M394 1268.79a7 7 0 1 0 14 0a7 7 0 1 0 -14 0M394.6 1268.93a7 7 0 1 0 14 0a7 7 0 1 0 -14 0M395.2 1269.06a7 7 0 1 0 14 0a7 7 0 1 0 -14 0M395.8 1269.19a7 7 0 1 0 14 0a7 7 0 1 0 -14 0M396.4 1269.32a7 7 0 1 0 14 0a7 7 0 1 0 -14 0M397 1269.45a7 7 0 1 0 14 0a7 7 0 1 0 -14 0M397.6 1269.58a7 7 0 1 0 14 0a7 7 0 1 0 -14 0M398.2 1269.71a7 7 0 1 0 14 0a7 7 0 1 0 -14 0M398.8 1269.84a7 7 0 1 0 14 0a7 7 0 1 0 -14 0M399.4 1269.98a7 7 0 1 0 14 0a7 7 0 1 0 -14 0M400 1270.11a7 7 0 1 0 14 0a7 7 0 1 0 -14 0M400.6 1270.24a7 7 0 1 0 14 0a7 7 0 1 0 -14 0M401.2 1270.37a7 7 0 1 0 14 0a7 7 0 1 0 -14 0M401.8 1270.5a7 7 0 1 0 14 0a7 7 0 1 0 -14 0M402.4 1270.63a7 7 0 1 0 14 0a7 7 0 1 0 -14 0M403 1270.76a7 7 0 1 0 14 0a7 7 0 1 0 -14 0M403.6 1270.89a7 7 0 1 0 14 0a7 7 0 1 0 -14 0M404.2 1271.03a7 7 0 1 0 14 0a7 7 0 1 0 -14 0M404.8 1271.16a7 7 0 1 0 14 0a7 7 0 1 0 -14 0M405.4 1271.29a7 7 0 1 0 14 0a7 7 0 1 0 -14 0M406 1271.42a7 7 0 1 0 14 0a7 7 0 1 0 -14 0M406.6 1271.55a7 7 0 1 0 14 0a7 7 0 1 0 -14 0M407.2 1271.68a7 7 0 1 0 14 0a7 7 0 1 0 -14 0M407.8 1271.81a7 7 0 1 0 14 0a7 7 0 1 0 -14 0M408.4 1271.94a7 7 0 1 0 14 0a7 7 0 1 0 -14 0M409 1272.06a7 7 0 1 0 14 0a7 7 0 1 0 -14 0M409.6 1272.18a7 7 0 1 0 14 0a7 7 0 1 0 -14 0M410.2 1272.3a7 7 0 1 0 14 0a7 7 0 1 0 -14 0M410.8 1272.43a7 7 0 1 0 14 0a7 7 0 1 0 -14 0M411.4 1272.55a7 7 0 1 0 14 0a7 7 0 1 0 -14 0M412 1272.67a7 7 0 1 0 14 0a7 7 0 1 0 -14 0M412.6 1272.79a7 7 0 1 0 14 0a7 7 0 1 0 -14 0M413.2 1272.91a7 7 0 1 0 14 0a7 7 0 1 0 -14 0M413.8 1273.03a7 7 0 1 0 14 0a7 7 0 1 0 -14 0M414.4 1273.15a7 7 0 1 0 14 0a7 7 0 1 0 -14 0M415 1273.28a7 7 0 1 0 14 0a7 7 0 1 0 -14 0M415.6 1273.4a7 7 0 1 0 14 0a7 7 0 1 0 -14 0M416.2 1273.52a7 7 0 1 0 14 0a7 7 0 1 0 -14 0M416.8 1273.64a7 7 0 1 0 14 0a7 7 0 1 0 -14 0M417.4 1273.76a7 7 0 1 0 14 0a7 7 0 1 0 -14 0M418 1273.88a7 7 0 1 0 14 0a7 7 0 1 0 -14 0M418.6 1274a7 7 0 1 0 14 0a7 7 0 1 0 -14 0M419.2 1274.12a7 7 0 1 0 14 0a7 7 0 1 0 -14 0M419.8 1274.25a7 7 0 1 0 14 0a7 7 0 1 0 -14 0M420.4 1274.37a7 7 0 1 0 14 0a7 7 0 1 0 -14 0M421 1274.49a7 7 0 1 0 14 0a7 7 0 1 0 -14 0M421.6 1274.61a7 7 0 1 0 14 0a7 7 0 1 0 -14 0M422.2 1274.73a7 7 0 1 0 14 0a7 7 0 1 0 -14 0M422.8 1274.85a7 7 0 1 0 14 0a7 7 0 1 0 -14 0M423.4 1274.97a7 7 0 1 0 14 0a7 7 0 1 0 -14 0M424 1275.1a7 7 0 1 0 14 0a7 7 0 1 0 -14 0M424.6 1275.22a7 7 0 1 0 14 0a7 7 0 1 0 -14 0M425.2 1275.34a7 7 0 1 0 14 0a7 7 0 1 0 -14 0M425.8 1275.46a7 7 0 1 0 14 0a7 7 0 1 0 -14 0M426.4 1275.56a7 7 0 1 0 14 0a7 7 0 1 0 -14 0M427 1275.65a7 7 0 1 0 14 0a7 7 0 1 0 -14 0M427.6 1275.73a7 7 0 1 0 14 0a7 7 0 1 0 -14 0M428.2 1275.82a7 7 0 1 0 14 0a7 7 0 1 0 -14 0M428.8 1275.91a7 7 0 1 0 14 0a7 7 0 1 0 -14 0M429.4 1276a7 7 0 1 0 14 0a7 7 0 1 0 -14 0M430 1276.08a7 7 0 1 0 14 0a7 7 0 1 0 -14 0M430.6 1276.17a7 7 0 1 0 14 0a7 7 0 1 0 -14 0M431.2 1276.26a7 7 0 1 0 14 0a7 7 0 1 0 -14 0M431.8 1276.35a7 7 0 1 0 14 0a7 7 0 1 0 -14 0M432.4 1276.43a7 7 0 1 0 14 0a7 7 0 1 0 -14 0M433 1276.52a7 7 0 1 0 14 0a7 7 0 1 0 -14 0M433.6 1276.61a7 7 0 1 0 14 0a7 7 0 1 0 -14 0M434.2 1276.7a7 7 0 1 0 14 0a7 7 0 1 0 -14 0M434.8 1276.78a7 7 0 1 0 14 0a7 7 0 1 0 -14 0M435.4 1276.87a7 7 0 1 0 14 0a7 7 0 1 0 -14 0M436 1276.96a7 7 0 1 0 14 0a7 7 0 1 0 -14 0M436.6 1277.05a7 7 0 1 0 14 0a7 7 0 1 0 -14 0M437.2 1277.13a7 7 0 1 0 14 0a7 7 0 1 0 -14 0M437.8 1277.22a7 7 0 1 0 14 0a7 7 0 1 0 -14 0M438.4 1277.31a7 7 0 1 0 14 0a7 7 0 1 0 -14 0M439 1277.4a7 7 0 1 0 14 0a7 7 0 1 0 -14 0M439.6 1277.48a7 7 0 1 0 14 0a7 7 0 1 0 -14 0M440.2 1277.57a7 7 0 1 0 14 0a7 7 0 1 0 -14 0M440.8 1277.66a7 7 0 1 0 14 0a7 7 0 1 0 -14 0M441.4 1277.75a7 7 0 1 0 14 0a7 7 0 1 0 -14 0M442 1277.83a7 7 0 1 0 14 0a7 7 0 1 0 -14 0M442.6 1277.92a7 7 0 1 0 14 0a7 7 0 1 0 -14 0M443.2 1278.01a7 7 0 1 0 14 0a7 7 0 1 0 -14 0M443.8 1278.1a7 7 0 1 0 14 0a7 7 0 1 0 -14 0M444.4 1278.18a7 7 0 1 0 14 0a7 7 0 1 0 -14 0M445 1278.27a7 7 0 1 0 14 0a7 7 0 1 0 -14 0M445.6 1278.33a7 7 0 1 0 14 0a7 7 0 1 0 -14 0M446.2 1278.38a7 7 0 1 0 14 0a7 7 0 1 0 -14 0M446.8 1278.43a7 7 0 1 0 14 0a7 7 0 1 0 -14 0M447.4 1278.47a7 7 0 1 0 14 0a7 7 0 1 0 -14 0M448 1278.52a7 7 0 1 0 14 0a7 7 0 1 0 -14 0M448.6 1278.57a7 7 0 1 0 14 0a7 7 0 1 0 -14 0M449.2 1278.61a7 7 0 1 0 14 0a7 7 0 1 0 -14 0M449.8 1278.66a7 7 0 1 0 14 0a7 7 0 1 0 -14 0M450.4 1278.71a7 7 0 1 0 14 0a7 7 0 1 0 -14 0M451 1278.75a7 7 0 1 0 14 0a7 7 0 1 0 -14 0M451.6 1278.8a7 7 0 1 0 14 0a7 7 0 1 0 -14 0M452.2 1278.85a7 7 0 1 0 14 0a7 7 0 1 0 -14 0M452.8 1278.89a7 7 0 1 0 14 0a7 7 0 1 0 -14 0M453.4 1278.94a7 7 0 1 0 14 0a7 7 0 1 0 -14 0M454 1278.99a7 7 0 1 0 14 0a7 7 0 1 0 -14 0M454.6 1279.03a7 7 0 1 0 14 0a7 7 0 1 0 -14 0M455.2 1279.08a7 7 0 1 0 14 0a7 7 0 1 0 -14 0M455.8 1279.13a7 7 0 1 0 14 0a7 7 0 1 0 -14 0M456.4 1279.18a7 7 0 1 0 14 0a7 7 0 1 0 -14 0M457 1279.22a7 7 0 1 0 14 0a7 7 0 1 0 -14 0M457.6 1279.27a7 7 0 1 0 14 0a7 7 0 1 0 -14 0M458.2 1279.3a7 7 0 1 0 14 0a7 7 0 1 0 -14 0M458.8 1279.32a7 7 0 1 0 14 0a7 7 0 1 0 -14 0M459.4 1279.33a7 7 0 1 0 14 0a7 7 0 1 0 -14 0M460 1279.34a7 7 0 1 0 14 0a7 7 0 1 0 -14 0M460.6 1279.35a7 7 0 1 0 14 0a7 7 0 1 0 -14 0M461.2 1279.36a7 7 0 1 0 14 0a7 7 0 1 0 -14 0M461.8 1279.38a7 7 0 1 0 14 0a7 7 0 1 0 -14 0M462.4 1279.39a7 7 0 1 0 14 0a7 7 0 1 0 -14 0M463 1279.4a7 7 0 1 0 14 0a7 7 0 1 0 -14 0M463.6 1279.41a7 7 0 1 0 14 0a7 7 0 1 0 -14 0M464.2 1279.42a7 7 0 1 0 14 0a7 7 0 1 0 -14 0M464.8 1279.44a7 7 0 1 0 14 0a7 7 0 1 0 -14 0M465.4 1279.45a7 7 0 1 0 14 0a7 7 0 1 0 -14 0M466 1279.46a7 7 0 1 0 14 0a7 7 0 1 0 -14 0M466.6 1279.47a7 7 0 1 0 14 0a7 7 0 1 0 -14 0M467.2 1279.48a7 7 0 1 0 14 0a7 7 0 1 0 -14 0M467.8 1279.5a7 7 0 1 0 14 0a7 7 0 1 0 -14 0M468.4 1279.51a7 7 0 1 0 14 0a7 7 0 1 0 -14 0M469 1279.52a7 7 0 1 0 14 0a7 7 0 1 0 -14 0M469.6 1279.53a7 7 0 1 0 14 0a7 7 0 1 0 -14 0M470.2 1279.54a7 7 0 1 0 14 0a7 7 0 1 0 -14 0M470.8 1279.56a7 7 0 1 0 14 0a7 7 0 1 0 -14 0M471.4 1279.57a7 7 0 1 0 14 0a7 7 0 1 0 -14 0M472 1279.58a7 7 0 1 0 14 0a7 7 0 1 0 -14 0M472.6 1279.59a7 7 0 1 0 14 0a7 7 0 1 0 -14 0M473.2 1279.6a7 7 0 1 0 14 0a7 7 0 1 0 -14 0M473.8 1279.61a7 7 0 1 0 14 0a7 7 0 1 0 -14 0M474.4 1279.61a7 7 0 1 0 14 0a7 7 0 1 0 -14 0M475 1279.62a7 7 0 1 0 14 0a7 7 0 1 0 -14 0M475.6 1279.63a7 7 0 1 0 14 0a7 7 0 1 0 -14 0M476.2 1279.63a7 7 0 1 0 14 0a7 7 0 1 0 -14 0M476.8 1279.64a7 7 0 1 0 14 0a7 7 0 1 0 -14 0M477.4 1279.64a7 7 0 1 0 14 0a7 7 0 1 0 -14 0M478 1279.65a7 7 0 1 0 14 0a7 7 0 1 0 -14 0M478.6 1279.66a7 7 0 1 0 14 0a7 7 0 1 0 -14 0M479.2 1279.66a7 7 0 1 0 14 0a7 7 0 1 0 -14 0M479.8 1279.67a7 7 0 1 0 14 0a7 7 0 1 0 -14 0M480.4 1279.67a7 7 0 1 0 14 0a7 7 0 1 0 -14 0M481 1279.68a7 7 0 1 0 14 0a7 7 0 1 0 -14 0M481.6 1279.69a7 7 0 1 0 14 0a7 7 0 1 0 -14 0M482.2 1279.69a7 7 0 1 0 14 0a7 7 0 1 0 -14 0M482.8 1279.7a7 7 0 1 0 14 0a7 7 0 1 0 -14 0M483.4 1279.7a7 7 0 1 0 14 0a7 7 0 1 0 -14 0M484 1279.71a7 7 0 1 0 14 0a7 7 0 1 0 -14 0M484.6 1279.72a7 7 0 1 0 14 0a7 7 0 1 0 -14 0M485.2 1279.72a7 7 0 1 0 14 0a7 7 0 1 0 -14 0M485.8 1279.73a7 7 0 1 0 14 0a7 7 0 1 0 -14 0M486.4 1279.73a7 7 0 1 0 14 0a7 7 0 1 0 -14 0M487 1279.74a7 7 0 1 0 14 0a7 7 0 1 0 -14 0M487.6 1279.75a7 7 0 1 0 14 0a7 7 0 1 0 -14 0M488.2 1279.75a7 7 0 1 0 14 0a7 7 0 1 0 -14 0M488.8 1279.76a7 7 0 1 0 14 0a7 7 0 1 0 -14 0M489.4 1279.76a7 7 0 1 0 14 0a7 7 0 1 0 -14 0M490 1279.77a7 7 0 1 0 14 0a7 7 0 1 0 -14 0M490.6 1279.78a7 7 0 1 0 14 0a7 7 0 1 0 -14 0M491.2 1279.78a7 7 0 1 0 14 0a7 7 0 1 0 -14 0M491.8 1279.79a7 7 0 1 0 14 0a7 7 0 1 0 -14 0M492.4 1279.79a7 7 0 1 0 14 0a7 7 0 1 0 -14 0M493 1279.8a7 7 0 1 0 14 0a7 7 0 1 0 -14 0M493.6 1279.81a7 7 0 1 0 14 0a7 7 0 1 0 -14 0M494.2 1279.81a7 7 0 1 0 14 0a7 7 0 1 0 -14 0M494.8 1279.82a7 7 0 1 0 14 0a7 7 0 1 0 -14 0M495.4 1279.82a7 7 0 1 0 14 0a7 7 0 1 0 -14 0M496 1279.83a7 7 0 1 0 14 0a7 7 0 1 0 -14 0M496.6 1279.84a7 7 0 1 0 14 0a7 7 0 1 0 -14 0M497.2 1279.84a7 7 0 1 0 14 0a7 7 0 1 0 -14 0M497.8 1279.85a7 7 0 1 0 14 0a7 7 0 1 0 -14 0M498.4 1279.85a7 7 0 1 0 14 0a7 7 0 1 0 -14 0M499 1279.86a7 7 0 1 0 14 0a7 7 0 1 0 -14 0M499.6 1279.87a7 7 0 1 0 14 0a7 7 0 1 0 -14 0M500.2 1279.87a7 7 0 1 0 14 0a7 7 0 1 0 -14 0M500.8 1279.88a7 7 0 1 0 14 0a7 7 0 1 0 -14 0M501.4 1279.88a7 7 0 1 0 14 0a7 7 0 1 0 -14 0M502 1279.89a7 7 0 1 0 14 0a7 7 0 1 0 -14 0M502.6 1279.9a7 7 0 1 0 14 0a7 7 0 1 0 -14 0M503.2 1279.9a7 7 0 1 0 14 0a7 7 0 1 0 -14 0M503.8 1279.91a7 7 0 1 0 14 0a7 7 0 1 0 -14 0M504.4 1279.91a7 7 0 1 0 14 0a7 7 0 1 0 -14 0M505 1279.92a7 7 0 1 0 14 0a7 7 0 1 0 -14 0M505.6 1279.93a7 7 0 1 0 14 0a7 7 0 1 0 -14 0M506.2 1279.93a7 7 0 1 0 14 0a7 7 0 1 0 -14 0M506.8 1279.94a7 7 0 1 0 14 0a7 7 0 1 0 -14 0M507.4 1279.94a7 7 0 1 0 14 0a7 7 0 1 0 -14 0M508 1279.95a7 7 0 1 0 14 0a7 7 0 1 0 -14 0M508.6 1279.96a7 7 0 1 0 14 0a7 7 0 1 0 -14 0M509.2 1279.96a7 7 0 1 0 14 0a7 7 0 1 0 -14 0M509.8 1279.97a7 7 0 1 0 14 0a7 7 0 1 0 -14 0M510.4 1279.97a7 7 0 1 0 14 0a7 7 0 1 0 -14 0M511 1279.98a7 7 0 1 0 14 0a7 7 0 1 0 -14 0M511.6 1279.99a7 7 0 1 0 14 0a7 7 0 1 0 -14 0M512.2 1279.99a7 7 0 1 0 14 0a7 7 0 1 0 -14 0M512.8 1280a7 7 0 1 0 14 0a7 7 0 1 0 -14 0M513.4 1280a7 7 0 1 0 14 0a7 7 0 1 0 -14 0M514 1280a7 7 0 1 0 14 0a7 7 0 1 0 -14 0M514.6 1280.01a7 7 0 1 0 14 0a7 7 0 1 0 -14 0M515.2 1280.01a7 7 0 1 0 14 0a7 7 0 1 0 -14 0M515.8 1280.01a7 7 0 1 0 14 0a7 7 0 1 0 -14 0M516.4 1280.01a7 7 0 1 0 14 0a7 7 0 1 0 -14 0M517 1280.01a7 7 0 1 0 14 0a7 7 0 1 0 -14 0M517.6 1280.02a7 7 0 1 0 14 0a7 7 0 1 0 -14 0M518.2 1280.02a7 7 0 1 0 14 0a7 7 0 1 0 -14 0M518.8 1280.02a7 7 0 1 0 14 0a7 7 0 1 0 -14 0M519.4 1280.02a7 7 0 1 0 14 0a7 7 0 1 0 -14 0M520 1280.02a7 7 0 1 0 14 0a7 7 0 1 0 -14 0M520.6 1280.03a7 7 0 1 0 14 0a7 7 0 1 0 -14 0M521.2 1280.03a7 7 0 1 0 14 0a7 7 0 1 0 -14 0M521.8 1280.03a7 7 0 1 0 14 0a7 7 0 1 0 -14 0M522.4 1280.03a7 7 0 1 0 14 0a7 7 0 1 0 -14 0M523 1280.03a7 7 0 1 0 14 0a7 7 0 1 0 -14 0M523.6 1280.04a7 7 0 1 0 14 0a7 7 0 1 0 -14 0M524.2 1280.04a7 7 0 1 0 14 0a7 7 0 1 0 -14 0M524.8 1280.04a7 7 0 1 0 14 0a7 7 0 1 0 -14 0M525.4 1280.04a7 7 0 1 0 14 0a7 7 0 1 0 -14 0M526 1280.04a7 7 0 1 0 14 0a7 7 0 1 0 -14 0M526.6 1280.05a7 7 0 1 0 14 0a7 7 0 1 0 -14 0M527.2 1280.05a7 7 0 1 0 14 0a7 7 0 1 0 -14 0M527.8 1280.05a7 7 0 1 0 14 0a7 7 0 1 0 -14 0M528.4 1280.05a7 7 0 1 0 14 0a7 7 0 1 0 -14 0M529 1280.05a7 7 0 1 0 14 0a7 7 0 1 0 -14 0M529.6 1280.06a7 7 0 1 0 14 0a7 7 0 1 0 -14 0M530.2 1280.06a7 7 0 1 0 14 0a7 7 0 1 0 -14 0M530.8 1280.06a7 7 0 1 0 14 0a7 7 0 1 0 -14 0M531.4 1280.06a7 7 0 1 0 14 0a7 7 0 1 0 -14 0M532 1280.06a7 7 0 1 0 14 0a7 7 0 1 0 -14 0M532.6 1280.07a7 7 0 1 0 14 0a7 7 0 1 0 -14 0M533.2 1280.07a7 7 0 1 0 14 0a7 7 0 1 0 -14 0M533.8 1280.07a7 7 0 1 0 14 0a7 7 0 1 0 -14 0M534.4 1280.07a7 7 0 1 0 14 0a7 7 0 1 0 -14 0M535 1280.08a7 7 0 1 0 14 0a7 7 0 1 0 -14 0M535.6 1280.08a7 7 0 1 0 14 0a7 7 0 1 0 -14 0M536.2 1280.08a7 7 0 1 0 14 0a7 7 0 1 0 -14 0M536.8 1280.08a7 7 0 1 0 14 0a7 7 0 1 0 -14 0M537.4 1280.08a7 7 0 1 0 14 0a7 7 0 1 0 -14 0M538 1280.09a7 7 0 1 0 14 0a7 7 0 1 0 -14 0M538.6 1280.09a7 7 0 1 0 14 0a7 7 0 1 0 -14 0M539.2 1280.09a7 7 0 1 0 14 0a7 7 0 1 0 -14 0M539.8 1280.09a7 7 0 1 0 14 0a7 7 0 1 0 -14 0M540.4 1280.09a7 7 0 1 0 14 0a7 7 0 1 0 -14 0M541 1280.1a7 7 0 1 0 14 0a7 7 0 1 0 -14 0M541.6 1280.1a7 7 0 1 0 14 0a7 7 0 1 0 -14 0M542.2 1280.1a7 7 0 1 0 14 0a7 7 0 1 0 -14 0M542.8 1280.1a7 7 0 1 0 14 0a7 7 0 1 0 -14 0M543.4 1280.1a7 7 0 1 0 14 0a7 7 0 1 0 -14 0M544 1280.11a7 7 0 1 0 14 0a7 7 0 1 0 -14 0M544.6 1280.11a7 7 0 1 0 14 0a7 7 0 1 0 -14 0M545.2 1280.11a7 7 0 1 0 14 0a7 7 0 1 0 -14 0M545.8 1280.11a7 7 0 1 0 14 0a7 7 0 1 0 -14 0M546.4 1280.11a7 7 0 1 0 14 0a7 7 0 1 0 -14 0M547 1280.12a7 7 0 1 0 14 0a7 7 0 1 0 -14 0M547.6 1280.12a7 7 0 1 0 14 0a7 7 0 1 0 -14 0M548.2 1280.12a7 7 0 1 0 14 0a7 7 0 1 0 -14 0M548.8 1280.12a7 7 0 1 0 14 0a7 7 0 1 0 -14 0M549.4 1280.12a7 7 0 1 0 14 0a7 7 0 1 0 -14 0M550 1280.13a7 7 0 1 0 14 0a7 7 0 1 0 -14 0M550.6 1280.13a7 7 0 1 0 14 0a7 7 0 1 0 -14 0M551.2 1280.13a7 7 0 1 0 14 0a7 7 0 1 0 -14 0M551.8 1280.13a7 7 0 1 0 14 0a7 7 0 1 0 -14 0M552.4 1280.13a7 7 0 1 0 14 0a7 7 0 1 0 -14 0M553 1280.14a7 7 0 1 0 14 0a7 7 0 1 0 -14 0M553.6 1280.14a7 7 0 1 0 14 0a7 7 0 1 0 -14 0M554.2 1280.14a7 7 0 1 0 14 0a7 7 0 1 0 -14 0M554.8 1280.14a7 7 0 1 0 14 0a7 7 0 1 0 -14 0M555.4 1280.14a7 7 0 1 0 14 0a7 7 0 1 0 -14 0M556 1280.15a7 7 0 1 0 14 0a7 7 0 1 0 -14 0M556.6 1280.15a7 7 0 1 0 14 0a7 7 0 1 0 -14 0M557.2 1280.15a7 7 0 1 0 14 0a7 7 0 1 0 -14 0M557.8 1280.15a7 7 0 1 0 14 0a7 7 0 1 0 -14 0M558.4 1280.16a7 7 0 1 0 14 0a7 7 0 1 0 -14 0M559 1280.16a7 7 0 1 0 14 0a7 7 0 1 0 -14 0M559.6 1280.16a7 7 0 1 0 14 0a7 7 0 1 0 -14 0M560.2 1280.16a7 7 0 1 0 14 0a7 7 0 1 0 -14 0M560.8 1280.16a7 7 0 1 0 14 0a7 7 0 1 0 -14 0M561.4 1280.17a7 7 0 1 0 14 0a7 7 0 1 0 -14 0M562 1280.17a7 7 0 1 0 14 0a7 7 0 1 0 -14 0M562.6 1280.17a7 7 0 1 0 14 0a7 7 0 1 0 -14 0M563.2 1280.17a7 7 0 1 0 14 0a7 7 0 1 0 -14 0M563.8 1280.17a7 7 0 1 0 14 0a7 7 0 1 0 -14 0M564.4 1280.18a7 7 0 1 0 14 0a7 7 0 1 0 -14 0M565 1280.18a7 7 0 1 0 14 0a7 7 0 1 0 -14 0M565.6 1280.18a7 7 0 1 0 14 0a7 7 0 1 0 -14 0M566.2 1280.18a7 7 0 1 0 14 0a7 7 0 1 0 -14 0M566.8 1280.18a7 7 0 1 0 14 0a7 7 0 1 0 -14 0M567.4 1280.19a7 7 0 1 0 14 0a7 7 0 1 0 -14 0M568 1280.19a7 7 0 1 0 14 0a7 7 0 1 0 -14 0M568.6 1280.19a7 7 0 1 0 14 0a7 7 0 1 0 -14 0M569.2 1280.19a7 7 0 1 0 14 0a7 7 0 1 0 -14 0M569.8 1280.19a7 7 0 1 0 14 0a7 7 0 1 0 -14 0M570.4 1280.2a7 7 0 1 0 14 0a7 7 0 1 0 -14 0M571 1280.2a7 7 0 1 0 14 0a7 7 0 1 0 -14 0" fill="none" stroke="#FF0000" stroke-width="1.15"/>
<circle cx="578.8" cy="1280.2" r="6" fill="#fff" stroke="#FF0000" stroke-width="1.2"/>
</g>
<line x1="135.5" y1="1001.5" x2="121.6" y2="1303.6" stroke="#000" stroke-width="4" />
<line x1="150.6" y1="1010.5" x2="142" y2="1303.6" stroke="#000" stroke-width="4" />
<line x1="90" y1="1279.1" x2="172.7" y2="1279.1" stroke="#000" stroke-width="4.8" stroke-linecap="round"/>
<line x1="124.2" y1="1276.4" x2="158" y2="1246.5" stroke="#000" stroke-width="4.2" />
<path d="M166.4 1239.1 L159.55 1252.49 L152.27 1244.25 Z" fill="#000"/>
<line x1="142.9" y1="1277.3" x2="187" y2="1257.4" stroke="#000" stroke-width="4" />
<path d="M198 1252.4 L185.68 1264 L181.15 1253.98 Z" fill="#000"/>
<text transform="matrix(1 0 0 1.03 0 -36.88)" x="149.78" y="1229.2" font-size="27.8" text-anchor="start" fill="#000" >17.65</text>
<text transform="matrix(1 0 0 1.03 0 -38.02)" x="197.72" y="1267.2" font-size="27.3" text-anchor="start" fill="#000" >16.87</text>
<rect x="90" y="945.2" width="491.4" height="360.6" fill="none" stroke="#000" stroke-width="4.6" stroke-linejoin="miter"/>
<line x1="115.8" y1="1305.8" x2="115.8" y2="1315.3" stroke="#000" stroke-width="4.2" />
<line x1="152.55" y1="1305.8" x2="152.55" y2="1311.3" stroke="#000" stroke-width="3.4" />
<line x1="189.3" y1="1305.8" x2="189.3" y2="1315.3" stroke="#000" stroke-width="4.2" />
<line x1="226.05" y1="1305.8" x2="226.05" y2="1311.3" stroke="#000" stroke-width="3.4" />
<line x1="262.8" y1="1305.8" x2="262.8" y2="1315.3" stroke="#000" stroke-width="4.2" />
<line x1="299.55" y1="1305.8" x2="299.55" y2="1311.3" stroke="#000" stroke-width="3.4" />
<line x1="336.3" y1="1305.8" x2="336.3" y2="1315.3" stroke="#000" stroke-width="4.2" />
<line x1="373.05" y1="1305.8" x2="373.05" y2="1311.3" stroke="#000" stroke-width="3.4" />
<line x1="409.8" y1="1305.8" x2="409.8" y2="1315.3" stroke="#000" stroke-width="4.2" />
<line x1="446.55" y1="1305.8" x2="446.55" y2="1311.3" stroke="#000" stroke-width="3.4" />
<line x1="483.3" y1="1305.8" x2="483.3" y2="1315.3" stroke="#000" stroke-width="4.2" />
<line x1="520.05" y1="1305.8" x2="520.05" y2="1311.3" stroke="#000" stroke-width="3.4" />
<line x1="556.8" y1="1305.8" x2="556.8" y2="1315.3" stroke="#000" stroke-width="4.2" />
<text transform="matrix(1 0 0 1.03 0 -40.17)" x="99.83" y="1338.9" font-size="27.9" text-anchor="start" fill="#000" >18</text>
<text transform="matrix(1 0 0 1.03 0 -40.17)" x="173.31" y="1338.9" font-size="27.9" text-anchor="start" fill="#000" >15</text>
<text transform="matrix(1 0 0 1.03 0 -40.17)" x="246.92" y="1338.9" font-size="27.9" text-anchor="start" fill="#000" >12</text>
<text transform="matrix(1 0 0 1.03 0 -40.17)" x="328.55" y="1338.9" font-size="27.9" text-anchor="start" fill="#000" >9</text>
<text transform="matrix(1 0 0 1.03 0 -40.17)" x="401.95" y="1338.9" font-size="27.9" text-anchor="start" fill="#000" >6</text>
<text transform="matrix(1 0 0 1.03 0 -40.17)" x="475.62" y="1338.9" font-size="27.9" text-anchor="start" fill="#000" >3</text>
<text transform="matrix(1 0 0 1.03 0 -40.17)" x="549.04" y="1338.9" font-size="27.9" text-anchor="start" fill="#000" >0</text>
<text transform="matrix(1 0 0 1.03 0 -40.9)" x="211.3" y="1363.3" font-size="28" text-anchor="start" fill="#000" >Binding energy (eV)</text>
<text transform="translate(66.2,1221.87) rotate(-90) scale(1 1.03)" x="0" y="0" font-size="27.87" fill="#000">Intensity (a.u.)</text>
<text x="20.51" y="983" font-size="51.5" text-anchor="start" fill="#000" >(e)</text>
<line x1="286" y1="972.4" x2="339.5" y2="972.4" stroke="#FF0000" stroke-width="4.2" stroke-linecap="round"/>
<circle cx="312.7" cy="972.4" r="6.9" fill="#fff" stroke="#FF0000" stroke-width="1.1"/>
<line x1="286" y1="1006.4" x2="339.5" y2="1006.4" stroke="#0000FF" stroke-width="4.2" stroke-linecap="round"/>
<circle cx="312.7" cy="1006.4" r="6.9" fill="#fff" stroke="#0000FF" stroke-width="1.1"/>
<text transform="matrix(1 0 0 1.03 0 -29.4)" x="344.06" y="980.1" font-size="27.3" text-anchor="start" fill="#000" >Sv-ZIS</text>
<text transform="matrix(1 0 0 1.03 0 -30.42)" x="343.04" y="1014" font-size="27.6" text-anchor="start" fill="#000" >MoSe</text>
<text transform="matrix(1 0 0 1.03 0 -30.71)" x="416.34" y="1023.6" font-size="16.8" text-anchor="start" fill="#000" >2</text>
<defs><clipPath id="clipf"><rect x="1070.7" y="1000" width="184.3" height="300"/></clipPath></defs>
<path d="M993 1129.2 H1003.1 V1117.9 L1013 1140.4 L1003.1 1163.6 V1152.3 H993 Z" fill="#FF9999"/>
<rect x="664.1" y="1025" width="78.7" height="283" fill="#FFDE80" stroke="none" stroke-width="0" />
<rect x="852.5" y="1025" width="78.8" height="282" fill="#FFDE80" stroke="none" stroke-width="0" />
<rect x="664.1" y="1308" width="78.7" height="25.2" fill="#FFC000" stroke="none" stroke-width="0" />
<rect x="852.5" y="1307" width="78.8" height="25" fill="#FFC000" stroke="none" stroke-width="0" />
<rect x="1070.7" y="1025" width="184.3" height="281" fill="#FFDE80" stroke="none" stroke-width="0" />
<rect x="1141" y="1031" width="44" height="267" fill="#B9D48C" stroke="none" stroke-width="0" />
<rect x="1070.7" y="1306" width="184.3" height="27" fill="#FFC000" stroke="none" stroke-width="0" />
<path d="M742.8 1055.5H764.8M782 1055.5H804M821.2 1055.5H843.2M860.4 1055.5H882.4M899.6 1055.5H921.6M938.8 1055.5H960.8M978 1055.5H1000M1017.2 1055.5H1039.2M1056.4 1055.5H1078.4M1095.6 1055.5H1117.6" stroke="#A6A6A6" stroke-width="5.2" fill="none" />
<path d="M742.8 1214.3H764.8M782 1214.3H804M821.2 1214.3H843.2M860.4 1214.3H882.4M899.6 1214.3H921.6M938.8 1214.3H960.8M978 1214.3H1000M1017.2 1214.3H1039.2M1056.4 1214.3H1078.4M1095.6 1214.3H1117.6" stroke="#A6A6A6" stroke-width="5.2" fill="none" />
<path d="M931.3 1120.1H953.3M970.5 1120.1H992.5M1009.7 1120.1H1031.7M1048.9 1120.1H1070.9M1088.1 1120.1H1110.1M1127.3 1120.1H1149.3M1166.5 1120.1H1172" stroke="#A6A6A6" stroke-width="5.2" fill="none" />
<path d="M931.3 1250.3H953.3M970.5 1250.3H992.5M1009.7 1250.3H1031.7M1048.9 1250.3H1070.9M1088.1 1250.3H1110.1M1127.3 1250.3H1149.3" stroke="#A6A6A6" stroke-width="5.2" fill="none" />
<path d="M860.4 1055.5H882.4M899.6 1055.5H921.6" stroke="#D2B455" stroke-width="5.2" fill="none" />
<path d="M1070.7 1055.5H1078.4M1095.6 1055.5H1117.6" stroke="#D2B455" stroke-width="5.2" fill="none" />
<path d="M860.4 1214.3H882.4M899.6 1214.3H921.6" stroke="#D2B455" stroke-width="5.2" fill="none" />
<path d="M1070.7 1214.3H1078.4M1095.6 1214.3H1117.6" stroke="#D2B455" stroke-width="5.2" fill="none" />
<path d="M1070.7 1120.1H1070.9M1088.1 1120.1H1110.1M1127.3 1120.1H1141" stroke="#D2B455" stroke-width="5.2" fill="none" />
<path d="M1070.7 1250.3H1070.9M1088.1 1250.3H1110.1M1127.3 1250.3H1141" stroke="#D2B455" stroke-width="5.2" fill="none" />
<path d="M1141 1120.1H1149.3M1166.5 1120.1H1172" stroke="#B4BC86" stroke-width="5.2" fill="none" />
<path d="M1141 1250.3H1149.3" stroke="#B4BC86" stroke-width="5.2" fill="none" />
<path d="M631 975H645.9M651.6 975H668.3M674 975H690.7M696.4 975H713.1M718.8 975H735.5M741.2 975H757.9M763.6 975H780.3M786 975H802.7M808.4 975H825.1M830.8 975H847.5M853.2 975H869.9M875.6 975H892.3M898 975H914.7M920.4 975H937.1M942.8 975H959.5M965.2 975H981.9M987.6 975H1004.3M1010 975H1026.7M1032.4 975H1049.1M1054.8 975H1071.5M1077.2 975H1093.9M1099.6 975H1116.3M1122 975H1138.7M1144.4 975H1161.1M1166.8 975H1183.5M1189.2 975H1205.9M1211.6 975H1228.3M1234 975H1250.7M1256.4 975H1273.1M1278.8 975H1295.5" stroke="#7F7F7F" stroke-width="5.4" fill="none" />
<path d="M648.5 952.3H655M661.4 952.3H677.5M683.9 952.3H700M706.4 952.3H722.5M728.9 952.3H745M751.4 952.3H767.5M773.9 952.3H790M796.4 952.3H797.7" stroke="#C55A11" stroke-width="5.4" fill="none" />
<path d="M648.5 1342H661.1M666.7 1342H683.7M689.3 1342H706.3M711.9 1342H728.9M734.5 1342H751.5M757.1 1342H774.1M779.7 1342H796.7" stroke="#C55A11" stroke-width="5.4" fill="none" />
<path d="M651.2 949.6V964.3M651.2 970.65V986.75M651.2 993.1V1009.2M651.2 1015.55V1031.65M651.2 1038V1054.1M651.2 1060.45V1076.55M651.2 1082.9V1099M651.2 1105.35V1121.45M651.2 1127.8V1143.9M651.2 1150.25V1166.35M651.2 1172.7V1188.8M651.2 1195.15V1211.25M651.2 1217.6V1233.7M651.2 1240.05V1256.15M651.2 1262.5V1278.6M651.2 1284.95V1301.05M651.2 1307.4V1323.5M651.2 1329.85V1344.7" stroke="#C55A11" stroke-width="5.4" fill="none"/>
<path d="M795 953.7V969.8M795 976.15V992.25M795 998.6V1014.7M795 1021.05V1037.15M795 1043.5V1059.6M795 1065.95V1082.05M795 1088.4V1104.5M795 1110.85V1126.95M795 1133.3V1149.4M795 1155.75V1171.85M795 1178.2V1194.3M795 1200.65V1216.75M795 1223.1V1239.2M795 1245.55V1261.65M795 1268V1284.1M795 1290.45V1306.55M795 1312.9V1329M795 1335.35V1344.7" stroke="#C55A11" stroke-width="5.4" fill="none"/>
<rect x="648.5" y="949.6" width="5.4" height="5.4" fill="#C55A11" stroke="none" stroke-width="0" />
<rect x="792.3" y="949.6" width="5.4" height="5.4" fill="#C55A11" stroke="none" stroke-width="0" />
<rect x="648.5" y="1339.3" width="5.4" height="5.4" fill="#C55A11" stroke="none" stroke-width="0" />
<rect x="792.3" y="1339.3" width="5.4" height="5.4" fill="#C55A11" stroke="none" stroke-width="0" />
<path d="M815.9 952.3H832M838.4 952.3H854.5M860.9 952.3H877M883.4 952.3H899.5M905.9 952.3H922M928.4 952.3H944.5M950.9 952.3H967M973.4 952.3H979.7" stroke="#C55A11" stroke-width="5.4" fill="none" />
<path d="M813.8 1342H819.3M824.9 1342H841.9M847.5 1342H864.5M870.1 1342H887.1M892.7 1342H909.7M915.3 1342H932.3M937.9 1342H954.9M960.5 1342H977.5" stroke="#C55A11" stroke-width="5.4" fill="none" />
<path d="M816.5 949.6V964.3M816.5 970.65V986.75M816.5 993.1V1009.2M816.5 1015.55V1031.65M816.5 1038V1054.1M816.5 1060.45V1076.55M816.5 1082.9V1099M816.5 1105.35V1121.45M816.5 1127.8V1143.9M816.5 1150.25V1166.35M816.5 1172.7V1188.8M816.5 1195.15V1211.25M816.5 1217.6V1233.7M816.5 1240.05V1256.15M816.5 1262.5V1278.6M816.5 1284.95V1301.05M816.5 1307.4V1323.5M816.5 1329.85V1344.7" stroke="#C55A11" stroke-width="5.4" fill="none"/>
<path d="M977 950V966.1M977 972.45V988.55M977 994.9V1011M977 1017.35V1033.45M977 1039.8V1055.9M977 1062.25V1078.35M977 1084.7V1100.8M977 1107.15V1123.25M977 1129.6V1145.7M977 1152.05V1168.15M977 1174.5V1190.6M977 1196.95V1213.05M977 1219.4V1235.5M977 1241.85V1257.95M977 1264.3V1280.4M977 1286.75V1302.85M977 1309.2V1325.3M977 1331.65V1344.7" stroke="#C55A11" stroke-width="5.4" fill="none"/>
<rect x="813.8" y="949.6" width="5.4" height="5.4" fill="#C55A11" stroke="none" stroke-width="0" />
<rect x="974.3" y="949.6" width="5.4" height="5.4" fill="#C55A11" stroke="none" stroke-width="0" />
<rect x="813.8" y="1339.3" width="5.4" height="5.4" fill="#C55A11" stroke="none" stroke-width="0" />
<rect x="974.3" y="1339.3" width="5.4" height="5.4" fill="#C55A11" stroke="none" stroke-width="0" />
<rect x="664" y="1051.2" width="78.8" height="9" fill="#3366FF" stroke="none" stroke-width="0" />
<rect x="664" y="1209.7" width="78.8" height="9" fill="#3366FF" stroke="none" stroke-width="0" />
<rect x="852.3" y="1115.6" width="79" height="9" fill="#3366FF" stroke="none" stroke-width="0" />
<rect x="852.3" y="1245.7" width="79" height="9" fill="#3366FF" stroke="none" stroke-width="0" />
<path d="M664 1083H680.8M686.5 1083H703.4M709.1 1083H726M731.7 1083H742.8" stroke="#C00000" stroke-width="5.4" fill="none" />
<path d="M853.1 1128H869.8M875.4 1128H892.1M897.7 1128H914.4M920 1128H931.3" stroke="#C00000" stroke-width="5.3" fill="none" />
<path d="M669 1068.9H670.7M673.9 1068.9H681.8M685 1068.9H692.9M696.1 1068.9H704M707.2 1068.9H715.1M718.3 1068.9H726.2M729.4 1068.9H737.3" stroke="#9933FF" stroke-width="2.4" fill="none" />
<path d="M669 1073.4H670.7M673.9 1073.4H681.8M685 1073.4H692.9M696.1 1073.4H704M707.2 1073.4H715.1M718.3 1073.4H726.2M729.4 1073.4H737.3" stroke="#9933FF" stroke-width="2.4" fill="none" />
<text transform="matrix(1 0 0 1.03 0 -32.27)" x="744.14" y="1075.6" font-size="19" text-anchor="start" fill="#9933FF" >Sv</text>
<path d="M663.3 973.9 L671.6 990.4 L666.1 990.4 L666.1 1068.1 L671.6 1068.1 L663.3 1084.6 L655 1068.1 L660.5 1068.1 L660.5 990.4 L655 990.4 Z" fill="#33CC33"/>
<path d="M854.1 974.1 L862.4 990.6 L856.9 990.6 L856.9 1108.5 L862.4 1108.5 L854.1 1125 L845.8 1108.5 L851.3 1108.5 L851.3 990.6 L845.8 990.6 Z" fill="#33CC33"/>
<text transform="matrix(1 0 0 1.03 0 -30.53)" x="670.33" y="1017.8" font-size="19.7" text-anchor="start" fill="#000" >ϕ</text>
<text transform="matrix(1 0 0 1.03 0 -30.67)" x="681.61" y="1022.2" font-size="13.1" text-anchor="start" fill="#000" >Sv-ZIS</text>
<text transform="matrix(1 0 0 1.03 0 -30.53)" x="721.84" y="1017.8" font-size="19.6" text-anchor="start" fill="#000" >=3.57 eV</text>
<text transform="matrix(1 0 0 1.03 0 -31.37)" x="668.58" y="1045.6" font-size="19.7" text-anchor="start" fill="#000" >E</text>
<text transform="matrix(1 0 0 1.03 0 -31.5)" x="682.12" y="1050" font-size="13.3" text-anchor="start" fill="#000" >CB</text>
<text transform="matrix(1 0 0 1.03 0 -31.37)" x="699.64" y="1045.6" font-size="19.7" text-anchor="start" fill="#000" >=-1.1 eV</text>
<text transform="matrix(1 0 0 1.03 0 -33.22)" x="662.28" y="1107.2" font-size="19.7" text-anchor="start" fill="#000" >E</text>
<text transform="matrix(1 0 0 1.03 0 -33.33)" x="675.91" y="1111.1" font-size="13.3" text-anchor="start" fill="#000" >f</text>
<text transform="matrix(1 0 0 1.03 0 -33.22)" x="679.64" y="1107.2" font-size="19.7" text-anchor="start" fill="#000" >=-0.93 eV</text>
<text transform="matrix(1 0 0 1.03 0 -37.11)" x="663.98" y="1237" font-size="19.7" text-anchor="start" fill="#000" >E</text>
<text transform="matrix(1 0 0 1.03 0 -37.23)" x="677.74" y="1241.1" font-size="13.3" text-anchor="start" fill="#000" >VB</text>
<text transform="matrix(1 0 0 1.03 0 -37.11)" x="694.64" y="1237" font-size="19.7" text-anchor="start" fill="#000" >=1.18 eV</text>
<text transform="matrix(1 0 0 1.03 0 -30.58)" x="856.43" y="1019.4" font-size="19.7" text-anchor="start" fill="#000" >ϕ</text>
<text transform="matrix(1 0 0 1.03 0 -30.73)" x="866.73" y="1024.4" font-size="13.1" text-anchor="start" fill="#000" >MoSe</text>
<text transform="matrix(1 0 0 1.03 0 -30.87)" x="901.52" y="1028.9" font-size="13.6" text-anchor="start" fill="#000" >2</text>
<text transform="matrix(1 0 0 1.03 0 -30.58)" x="908.44" y="1019.4" font-size="19.7" text-anchor="start" fill="#000" >=4.35 eV</text>
<text transform="matrix(1 0 0 1.03 0 -33.22)" x="858.38" y="1107.2" font-size="19.7" text-anchor="start" fill="#000" >E</text>
<text transform="matrix(1 0 0 1.03 0 -33.37)" x="871.52" y="1112.2" font-size="13.3" text-anchor="start" fill="#000" >CB</text>
<text transform="matrix(1 0 0 1.03 0 -33.22)" x="889.64" y="1107.2" font-size="19.7" text-anchor="start" fill="#000" >=-0.3 eV</text>
<text transform="matrix(1 0 0 1.03 0 -34.52)" x="849.48" y="1150.6" font-size="19.7" text-anchor="start" fill="#000" >E</text>
<text transform="matrix(1 0 0 1.03 0 -34.65)" x="863.71" y="1155" font-size="13.3" text-anchor="start" fill="#000" >f</text>
<text transform="matrix(1 0 0 1.03 0 -34.52)" x="866.84" y="1150.6" font-size="19.7" text-anchor="start" fill="#000" >=-0.15 eV</text>
<text transform="matrix(1 0 0 1.03 0 -38.2)" x="852.28" y="1273.3" font-size="19.7" text-anchor="start" fill="#000" >E</text>
<text transform="matrix(1 0 0 1.03 0 -38.35)" x="865.54" y="1278.3" font-size="13.3" text-anchor="start" fill="#000" >VB</text>
<text transform="matrix(1 0 0 1.03 0 -38.2)" x="883.44" y="1273.3" font-size="19.7" text-anchor="start" fill="#000" >=1.59 eV</text>
<text transform="matrix(1 0 0 1.03 0 -39.8)" x="671.6" y="1326.7" font-size="19.8" text-anchor="start" fill="#000" >Sv-ZIS</text>
<text transform="matrix(1 0 0 1.03 0 -39.8)" x="856.88" y="1326.7" font-size="22.2" text-anchor="start" fill="#000" >MoSe</text>
<text transform="matrix(1 0 0 1.03 0 -39.96)" x="914.62" y="1332" font-size="15.2" text-anchor="start" fill="#000" >2</text>
<rect x="1135.4" y="1007.5" width="6" height="291" fill="#000" stroke="none" stroke-width="0" />
<rect x="1184.4" y="1008.3" width="5.8" height="290.2" fill="#000" stroke="none" stroke-width="0" />
<path d="M1081.7 1008.2H1104.4M1120.9 1008.2H1143.6M1160.1 1008.2H1182.8M1199.3 1008.2H1222M1238.5 1008.2H1256.2" stroke="#000" stroke-width="5.5" fill="none" />
<path d="M1143.5 1026.2 H1176 V1022.6 L1183 1030.4 L1172 1041.5 V1035.2 H1143.5 Z" fill="#C00000"/>
<path d="M1143.2 1025.9H1156.7M1161.3 1025.9H1174.8" stroke="#000" stroke-width="3.6" fill="none" />
<path d="M1143.2 1035.4H1154M1158.6 1035.4H1169.4" stroke="#000" stroke-width="3.6" fill="none" />
<path d="M1174.8 1022.8 L1182 1030.4 L1171.4 1041.5" fill="none" stroke="#000" stroke-width="3.4"/>
<g clip-path="url(#clipf)">
<path d="M1071 1065.4 L1074.28 1065.39 L1078.93 1065.38 L1084.38 1065.36 L1090.07 1065.33 L1095.47 1065.28 L1100 1065.2 L1103.71 1065.09 L1107.04 1064.96 L1110.06 1064.81 L1112.85 1064.64 L1115.47 1064.43 L1118 1064.2 L1120.38 1063.93 L1122.56 1063.62 L1124.56 1063.29 L1126.44 1062.93 L1128.24 1062.57 L1130 1062.2 L1131.71 1061.82 L1133.34 1061.42 L1134.89 1061.01 L1136.35 1060.59 L1137.72 1060.19 L1139 1059.8 L1140.22 1059.41 L1141.39 1059 L1142.46 1058.6 L1143.41 1058.23 L1144.21 1057.92 L1144.8 1057.7" fill="none" stroke="#3366FF" stroke-width="7.7" stroke-linejoin="round" stroke-linecap="round" />
</g>
<g clip-path="url(#clipf)">
<path d="M1069.5 1226.5 L1073.97 1226.51 L1080.39 1226.53 L1087.88 1226.56 L1095.56 1226.57 L1102.56 1226.55 L1108 1226.5 L1111.8 1226.42 L1114.63 1226.32 L1116.78 1226.2 L1118.54 1226.04 L1120.18 1225.85 L1122 1225.6 L1123.92 1225.3 L1125.7 1224.95 L1127.38 1224.56 L1128.96 1224.13 L1130.5 1223.68 L1132 1223.2 L1133.46 1222.69 L1134.84 1222.14 L1136.17 1221.57 L1137.46 1220.98 L1138.73 1220.38 L1140 1219.8 L1141.34 1219.18 L1142.76 1218.51 L1144.15 1217.84 L1145.43 1217.21 L1146.51 1216.68 L1147.3 1216.3" fill="none" stroke="#3366FF" stroke-width="7.7" stroke-linejoin="round" stroke-linecap="round" />
</g>
<g clip-path="url(#clipf)">
<path d="M1174.6 1120.8 L1175.18 1120.28 L1175.98 1119.55 L1176.92 1118.69 L1177.96 1117.79 L1179 1116.93 L1180 1116.2 L1180.95 1115.59 L1181.91 1115.02 L1182.88 1114.5 L1183.88 1114.02 L1184.92 1113.59 L1186 1113.2 L1186.97 1112.87 L1187.8 1112.59 L1188.67 1112.36 L1189.75 1112.16 L1191.23 1111.98 L1193.3 1111.8 L1195.88 1111.62 L1198.81 1111.47 L1202.14 1111.33 L1205.91 1111.2 L1210.19 1111.09 L1215 1111 L1221.01 1110.93 L1228.31 1110.88 L1236.11 1110.85 L1243.6 1110.83 L1250 1110.81 L1254.5 1110.8" fill="none" stroke="#3366FF" stroke-width="7.7" stroke-linejoin="round" stroke-linecap="round" />
</g>
<g clip-path="url(#clipf)">
<path d="M1173.7 1252.9 L1174.27 1252.39 L1175.05 1251.67 L1175.98 1250.82 L1176.99 1249.92 L1178.01 1249.06 L1179 1248.3 L1179.94 1247.63 L1180.87 1246.98 L1181.83 1246.36 L1182.83 1245.79 L1183.88 1245.26 L1185 1244.8 L1186.11 1244.42 L1187.17 1244.1 L1188.29 1243.84 L1189.56 1243.61 L1191.1 1243.4 L1193 1243.2 L1195.05 1242.99 L1197.11 1242.78 L1199.44 1242.59 L1202.27 1242.43 L1205.85 1242.33 L1210.4 1242.3 L1216.72 1242.37 L1224.76 1242.53 L1233.54 1242.74 L1242.08 1242.97 L1249.39 1243.17 L1254.5 1243.3" fill="none" stroke="#3366FF" stroke-width="7.7" stroke-linejoin="round" stroke-linecap="round" />
</g>
<path d="M1072.4 1073.2H1080.3M1083.5 1073.2H1091.4M1094.6 1073.2H1102.5M1105.7 1073.2H1113.6M1116.8 1073.2H1124.7M1127.9 1073.2H1135.8" stroke="#9933FF" stroke-width="2.5" fill="none" />
<path d="M1072.4 1077.3H1080.3M1083.5 1077.3H1091.4M1094.6 1077.3H1102.5M1105.7 1077.3H1113.6M1116.8 1077.3H1124.7M1127.9 1077.3H1135.8" stroke="#9933FF" stroke-width="2.5" fill="none" />
<text transform="matrix(1 0 0 1.03 0 -32.35)" x="1046.84" y="1078.2" font-size="19" text-anchor="start" fill="#9933FF" >Sv</text>
<path d="M1144.2 1126.4 h7.4 v3.1 h4.4 v7.1 h-4.4 v3.1 h-7.4 v-3.1 h-4.3 v-7.1 h4.3 Z" fill="#2F5597"/>
<line x1="1142.6" y1="1133" x2="1153.2" y2="1133" stroke="#0000FF" stroke-width="1.9" />
<line x1="1147.9" y1="1127.8" x2="1147.9" y2="1138.2" stroke="#0000FF" stroke-width="1.9" />
<path d="M1144.2 1141.8 h7.4 v3.1 h4.4 v7.1 h-4.4 v3.1 h-7.4 v-3.1 h-4.3 v-7.1 h4.3 Z" fill="#2F5597"/>
<line x1="1142.6" y1="1148.4" x2="1153.2" y2="1148.4" stroke="#0000FF" stroke-width="1.9" />
<line x1="1147.9" y1="1143.2" x2="1147.9" y2="1153.6" stroke="#0000FF" stroke-width="1.9" />
<path d="M1144.2 1158.1 h7.4 v3.1 h4.4 v7.1 h-4.4 v3.1 h-7.4 v-3.1 h-4.3 v-7.1 h4.3 Z" fill="#2F5597"/>
<line x1="1142.6" y1="1164.7" x2="1153.2" y2="1164.7" stroke="#0000FF" stroke-width="1.9" />
<line x1="1147.9" y1="1159.5" x2="1147.9" y2="1169.9" stroke="#0000FF" stroke-width="1.9" />
<path d="M1144.2 1174.2 h7.4 v3.1 h4.4 v7.1 h-4.4 v3.1 h-7.4 v-3.1 h-4.3 v-7.1 h4.3 Z" fill="#2F5597"/>
<line x1="1142.6" y1="1180.8" x2="1153.2" y2="1180.8" stroke="#0000FF" stroke-width="1.9" />
<line x1="1147.9" y1="1175.6" x2="1147.9" y2="1186" stroke="#0000FF" stroke-width="1.9" />
<rect x="1170" y="1131" width="15.8" height="7.8" fill="#2F5597" stroke="none" stroke-width="0" />
<rect x="1172.8" y="1133.6" width="10.2" height="2.6" fill="#FF0000" stroke="none" stroke-width="0" />
<rect x="1169.8" y="1145.6" width="15.8" height="7.8" fill="#2F5597" stroke="none" stroke-width="0" />
<rect x="1172.6" y="1148.2" width="10.2" height="2.6" fill="#FF0000" stroke="none" stroke-width="0" />
<rect x="1169.6" y="1160.5" width="15.8" height="7.8" fill="#2F5597" stroke="none" stroke-width="0" />
<rect x="1172.4" y="1163.1" width="10.2" height="2.6" fill="#FF0000" stroke="none" stroke-width="0" />
<rect x="1168.2" y="1176" width="16.6" height="7.8" fill="#2F5597" stroke="none" stroke-width="0" />
<rect x="1171" y="1178.6" width="11" height="2.6" fill="#FF0000" stroke="none" stroke-width="0" />
<rect x="628.4" y="937.5" width="363.8" height="421.8" fill="none" stroke="#000" stroke-width="5.3" stroke-linejoin="miter"/>
<rect x="1013.3" y="936.6" width="287.1" height="422.9" fill="none" stroke="#000" stroke-width="5.3" stroke-linejoin="miter"/>
<text transform="matrix(1 0 0 1.03 0 -27.85)" x="711.06" y="928.2" font-size="31" text-anchor="start" fill="#000" >Before contact</text>
<text transform="matrix(1 0 0 1.03 0 -27.79)" x="1079.75" y="926.3" font-size="27.9" text-anchor="start" fill="#000" >After contact</text>
<text transform="matrix(1 0 0 1.03 0 -30.1)" x="1064.31" y="1003.2" font-size="22.6" text-anchor="start" fill="#C00000" >Internal electric field</text>
<text transform="matrix(1 0 0 1.03 0 -29.48)" x="1306.89" y="982.6" font-size="25.8" text-anchor="start" fill="#000" >Vac</text>
<text transform="matrix(1 0 0 1.03 0 -39.73)" x="1089.26" y="1324.4" font-size="22.8" text-anchor="start" fill="#000" >Sv-ZIS/MoSe</text>
<text transform="matrix(1 0 0 1.03 0 -39.9)" x="1224.83" y="1330" font-size="14.5" text-anchor="start" fill="#000" >2</text>
<text x="580.21" y="971.2" font-size="51.5" text-anchor="start" fill="#000" >(f)</text>
</svg></body></html>
